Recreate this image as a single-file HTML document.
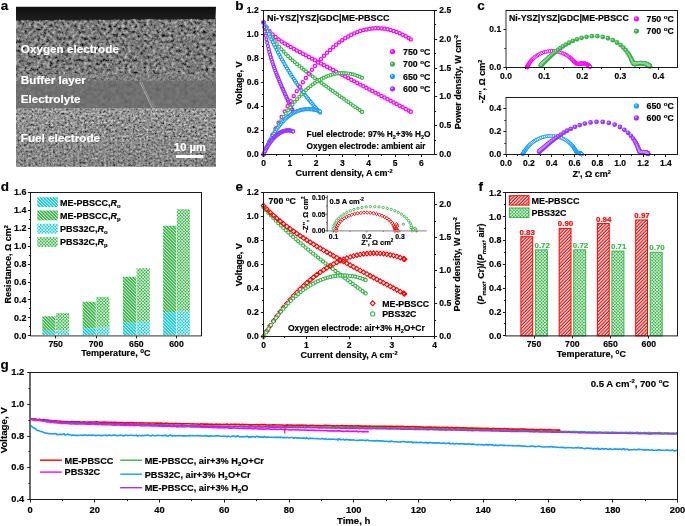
<!DOCTYPE html>
<html><head><meta charset="utf-8"><style>
html,body{margin:0;padding:0;background:#fff;width:685px;height:526px;overflow:hidden}
svg{display:block;font-family:"Liberation Sans",sans-serif;will-change:transform}
</style></head><body>
<svg width="685" height="526" viewBox="0 0 685 526" font-family="Liberation Sans, sans-serif"><defs>
<pattern id="hG" width="2.3" height="2.3" patternUnits="userSpaceOnUse" patternTransform="rotate(-45)"><rect width="2.3" height="2.3" fill="#3cb44b"/><rect x="0" width="0.75" height="2.3" fill="#fff" opacity="0.85"/></pattern>
<pattern id="hC" width="2.3" height="2.3" patternUnits="userSpaceOnUse" patternTransform="rotate(-45)"><rect width="2.3" height="2.3" fill="#1ec8d2"/><rect x="0" width="0.75" height="2.3" fill="#fff" opacity="0.85"/></pattern>
<pattern id="xG" width="2.3" height="2.3" patternUnits="userSpaceOnUse" patternTransform="rotate(45)"><rect width="2.3" height="2.3" fill="#3cb44b"/><rect x="0" width="0.7" height="2.3" fill="#fff" opacity="0.8"/><rect y="0" width="2.3" height="0.7" fill="#fff" opacity="0.8"/></pattern>
<pattern id="xC" width="2.3" height="2.3" patternUnits="userSpaceOnUse" patternTransform="rotate(45)"><rect width="2.3" height="2.3" fill="#1ec8d2"/><rect x="0" width="0.7" height="2.3" fill="#fff" opacity="0.8"/><rect y="0" width="2.3" height="0.7" fill="#fff" opacity="0.8"/></pattern>
<pattern id="xG2" width="2.3" height="2.3" patternUnits="userSpaceOnUse" patternTransform="rotate(45)"><rect width="2.3" height="2.3" fill="#3cb44b"/><rect x="0" width="0.7" height="2.3" fill="#fff" opacity="0.8"/><rect y="0" width="2.3" height="0.7" fill="#fff" opacity="0.8"/></pattern>
<pattern id="hR" width="2.35" height="2.35" patternUnits="userSpaceOnUse" patternTransform="rotate(45)"><rect width="2.35" height="2.35" fill="#ff0000"/><rect x="0" width="1.15" height="2.35" fill="#fff"/></pattern>
</defs>
<defs>
<filter id="nO" x="16" y="18" width="200" height="64" filterUnits="userSpaceOnUse" color-interpolation-filters="sRGB"><feTurbulence type="fractalNoise" baseFrequency="0.32" numOctaves="3" seed="7"/><feColorMatrix type="matrix" values="1 0 0 0 0 1 0 0 0 0 1 0 0 0 0 0 0 0 0 1"/><feComponentTransfer><feFuncR type="table" tableValues="0.000 0.000 0.000 0.000 0.000 0.000 0.005 0.045 0.085 0.125 0.165 0.205 0.245 0.285 0.325 0.365 0.390 0.411 0.432 0.454 0.475 0.496 0.518 0.539 0.560 0.581 0.603 0.624 0.645 0.666 0.688 0.709 0.730 0.751 0.772 0.794 0.815 0.836 0.858 0.879 0.900"/><feFuncG type="table" tableValues="0.000 0.000 0.000 0.000 0.000 0.000 0.005 0.045 0.085 0.125 0.165 0.205 0.245 0.285 0.325 0.365 0.390 0.411 0.432 0.454 0.475 0.496 0.518 0.539 0.560 0.581 0.603 0.624 0.645 0.666 0.688 0.709 0.730 0.751 0.772 0.794 0.815 0.836 0.858 0.879 0.900"/><feFuncB type="table" tableValues="0.000 0.000 0.000 0.000 0.000 0.000 0.005 0.045 0.085 0.125 0.165 0.205 0.245 0.285 0.325 0.365 0.390 0.411 0.432 0.454 0.475 0.496 0.518 0.539 0.560 0.581 0.603 0.624 0.645 0.666 0.688 0.709 0.730 0.751 0.772 0.794 0.815 0.836 0.858 0.879 0.900"/></feComponentTransfer><feGaussianBlur stdDeviation="0.5"/></filter>
<filter id="nB" x="16" y="74" width="200" height="8" filterUnits="userSpaceOnUse" color-interpolation-filters="sRGB"><feTurbulence type="fractalNoise" baseFrequency="0.6" numOctaves="2" seed="9"/><feColorMatrix type="matrix" values="1 0 0 0 0 1 0 0 0 0 1 0 0 0 0 0 0 0 0 1"/><feComponentTransfer><feFuncR type="table" tableValues="0.020 0.050 0.080 0.110 0.140 0.170 0.200 0.230 0.260 0.290 0.320 0.350 0.380 0.398 0.415 0.432 0.450 0.468 0.485 0.503 0.520 0.538 0.555 0.573 0.590 0.608 0.625 0.643 0.660 0.678 0.695 0.713 0.730 0.748 0.765 0.782 0.800 0.818 0.835 0.853 0.870"/><feFuncG type="table" tableValues="0.020 0.050 0.080 0.110 0.140 0.170 0.200 0.230 0.260 0.290 0.320 0.350 0.380 0.398 0.415 0.432 0.450 0.468 0.485 0.503 0.520 0.538 0.555 0.573 0.590 0.608 0.625 0.643 0.660 0.678 0.695 0.713 0.730 0.748 0.765 0.782 0.800 0.818 0.835 0.853 0.870"/><feFuncB type="table" tableValues="0.020 0.050 0.080 0.110 0.140 0.170 0.200 0.230 0.260 0.290 0.320 0.350 0.380 0.398 0.415 0.432 0.450 0.468 0.485 0.503 0.520 0.538 0.555 0.573 0.590 0.608 0.625 0.643 0.660 0.678 0.695 0.713 0.730 0.748 0.765 0.782 0.800 0.818 0.835 0.853 0.870"/></feComponentTransfer><feGaussianBlur stdDeviation="0.4"/></filter>
<filter id="nE" x="16" y="81" width="200" height="28" filterUnits="userSpaceOnUse" color-interpolation-filters="sRGB"><feTurbulence type="fractalNoise" baseFrequency="0.25" numOctaves="2" seed="3"/><feColorMatrix type="matrix" values="1 0 0 0 0 1 0 0 0 0 1 0 0 0 0 0 0 0 0 1"/><feComponentTransfer><feFuncR type="table" tableValues="0.310 0.319 0.327 0.336 0.344 0.353 0.361 0.370 0.378 0.386 0.395 0.403 0.412 0.415 0.419 0.422 0.426 0.429 0.433 0.436 0.440 0.444 0.447 0.451 0.454 0.458 0.461 0.465 0.468 0.472 0.475 0.479 0.482 0.486 0.489 0.492 0.496 0.499 0.503 0.507 0.510"/><feFuncG type="table" tableValues="0.310 0.319 0.327 0.336 0.344 0.353 0.361 0.370 0.378 0.386 0.395 0.403 0.412 0.415 0.419 0.422 0.426 0.429 0.433 0.436 0.440 0.444 0.447 0.451 0.454 0.458 0.461 0.465 0.468 0.472 0.475 0.479 0.482 0.486 0.489 0.492 0.496 0.499 0.503 0.507 0.510"/><feFuncB type="table" tableValues="0.310 0.319 0.327 0.336 0.344 0.353 0.361 0.370 0.378 0.386 0.395 0.403 0.412 0.415 0.419 0.422 0.426 0.429 0.433 0.436 0.440 0.444 0.447 0.451 0.454 0.458 0.461 0.465 0.468 0.472 0.475 0.479 0.482 0.486 0.489 0.492 0.496 0.499 0.503 0.507 0.510"/></feComponentTransfer><feGaussianBlur stdDeviation="0.6"/></filter>
<filter id="nF" x="16" y="108" width="200" height="60" filterUnits="userSpaceOnUse" color-interpolation-filters="sRGB"><feTurbulence type="fractalNoise" baseFrequency="0.45" numOctaves="3" seed="11"/><feColorMatrix type="matrix" values="1 0 0 0 0 1 0 0 0 0 1 0 0 0 0 0 0 0 0 1"/><feComponentTransfer><feFuncR type="table" tableValues="0.000 0.000 0.000 0.000 0.000 0.026 0.073 0.119 0.165 0.211 0.258 0.304 0.350 0.396 0.423 0.444 0.465 0.486 0.508 0.529 0.550 0.571 0.593 0.614 0.635 0.656 0.677 0.699 0.720 0.741 0.763 0.784 0.805 0.826 0.848 0.869 0.890 0.911 0.933 0.954 0.975"/><feFuncG type="table" tableValues="0.000 0.000 0.000 0.000 0.000 0.026 0.073 0.119 0.165 0.211 0.258 0.304 0.350 0.396 0.423 0.444 0.465 0.486 0.508 0.529 0.550 0.571 0.593 0.614 0.635 0.656 0.677 0.699 0.720 0.741 0.763 0.784 0.805 0.826 0.848 0.869 0.890 0.911 0.933 0.954 0.975"/><feFuncB type="table" tableValues="0.000 0.000 0.000 0.000 0.000 0.026 0.073 0.119 0.165 0.211 0.258 0.304 0.350 0.396 0.423 0.444 0.465 0.486 0.508 0.529 0.550 0.571 0.593 0.614 0.635 0.656 0.677 0.699 0.720 0.741 0.763 0.784 0.805 0.826 0.848 0.869 0.890 0.911 0.933 0.954 0.975"/></feComponentTransfer><feGaussianBlur stdDeviation="0.45"/></filter>
<filter id="nS" x="16" y="140" width="200" height="28" filterUnits="userSpaceOnUse" color-interpolation-filters="sRGB"><feTurbulence type="fractalNoise" baseFrequency="0.5 0.04" numOctaves="2" seed="13"/><feColorMatrix type="matrix" values="1 0 0 0 0 1 0 0 0 0 1 0 0 0 0 0 0 0 0 1"/><feComponentTransfer><feFuncR type="table" tableValues="0.050 0.073 0.095 0.117 0.140 0.162 0.185 0.208 0.230 0.252 0.275 0.297 0.320 0.343 0.365 0.388 0.410 0.433 0.455 0.478 0.500 0.522 0.545 0.568 0.590 0.613 0.635 0.658 0.680 0.703 0.725 0.748 0.770 0.793 0.815 0.838 0.860 0.883 0.905 0.928 0.950"/><feFuncG type="table" tableValues="0.050 0.073 0.095 0.117 0.140 0.162 0.185 0.208 0.230 0.252 0.275 0.297 0.320 0.343 0.365 0.388 0.410 0.433 0.455 0.478 0.500 0.522 0.545 0.568 0.590 0.613 0.635 0.658 0.680 0.703 0.725 0.748 0.770 0.793 0.815 0.838 0.860 0.883 0.905 0.928 0.950"/><feFuncB type="table" tableValues="0.050 0.073 0.095 0.117 0.140 0.162 0.185 0.208 0.230 0.252 0.275 0.297 0.320 0.343 0.365 0.388 0.410 0.433 0.455 0.478 0.500 0.522 0.545 0.568 0.590 0.613 0.635 0.658 0.680 0.703 0.725 0.748 0.770 0.793 0.815 0.838 0.860 0.883 0.905 0.928 0.950"/></feComponentTransfer><feGaussianBlur stdDeviation="0.5"/></filter>
<filter id="nT" x="16" y="6" width="200" height="16" filterUnits="userSpaceOnUse" color-interpolation-filters="sRGB"><feTurbulence type="fractalNoise" baseFrequency="0.3" numOctaves="2" seed="5"/><feColorMatrix type="matrix" values="1 0 0 0 0 1 0 0 0 0 1 0 0 0 0 0 0 0 0 1"/><feComponentTransfer><feFuncR type="table" tableValues="0.025 0.028 0.031 0.034 0.037 0.040 0.043 0.046 0.049 0.052 0.055 0.058 0.061 0.064 0.067 0.070 0.073 0.076 0.079 0.082 0.085 0.088 0.091 0.094 0.097 0.100 0.103 0.106 0.109 0.112 0.115 0.118 0.121 0.124 0.127 0.130 0.133 0.136 0.139 0.142 0.145"/><feFuncG type="table" tableValues="0.025 0.028 0.031 0.034 0.037 0.040 0.043 0.046 0.049 0.052 0.055 0.058 0.061 0.064 0.067 0.070 0.073 0.076 0.079 0.082 0.085 0.088 0.091 0.094 0.097 0.100 0.103 0.106 0.109 0.112 0.115 0.118 0.121 0.124 0.127 0.130 0.133 0.136 0.139 0.142 0.145"/><feFuncB type="table" tableValues="0.025 0.028 0.031 0.034 0.037 0.040 0.043 0.046 0.049 0.052 0.055 0.058 0.061 0.064 0.067 0.070 0.073 0.076 0.079 0.082 0.085 0.088 0.091 0.094 0.097 0.100 0.103 0.106 0.109 0.112 0.115 0.118 0.121 0.124 0.127 0.130 0.133 0.136 0.139 0.142 0.145"/></feComponentTransfer><feGaussianBlur stdDeviation="0.5"/></filter>
<linearGradient id="gT" x1="0" y1="0" x2="0" y2="1"><stop offset="0" stop-color="#0e0e0e"/><stop offset="1" stop-color="#202020"/></linearGradient>
<clipPath id="clipA"><rect x="16" y="6.7" width="200" height="160"/></clipPath>
</defs>
<g clip-path="url(#clipA)">
<rect x="16" y="18" width="200" height="64" filter="url(#nO)"/>
<rect x="16" y="19" width="200" height="5" fill="#9a9a9a" opacity="0.12"/>
<ellipse cx="168" cy="55" rx="20" ry="17" fill="#a0a0a0" opacity="0.10"/>
<polygon points="16,6 216,6 215.5,19.34 214,19.14 212.5,19.58 211,19.1 209.5,18.99 208,19.82 206.5,19.57 205,19.37 203.5,19.15 202,20.08 200.5,20.14 199,19.16 197.5,19.07 196,19.9 194.5,18.4 193,19.38 191.5,18.78 190,19.26 188.5,19.76 187,19.12 185.5,19.24 184,19.53 182.5,19.35 181,19.32 179.5,19.9 178,18.67 176.5,19.55 175,19.08 173.5,19.7 172,19.52 170.5,19.72 169,19.86 167.5,19.33 166,19.36 164.5,19.4 163,19.66 161.5,19.95 160,19.52 158.5,19.53 157,20.03 155.5,19.17 154,19.49 152.5,18.97 151,19.17 149.5,18.87 148,18.88 146.5,19.49 145,19.3 143.5,20.03 142,19.13 140.5,20.7 139,19.98 137.5,19.59 136,19.2 134.5,18.79 133,18.9 131.5,19.56 130,19.31 128.5,20.18 127,19.56 125.5,20.56 124,19.21 122.5,19.69 121,20.69 119.5,19.2 118,19.44 116.5,20.34 115,19.36 113.5,19.96 112,19.82 110.5,19.92 109,20.33 107.5,20.17 106,20.26 104.5,19.97 103,19.75 101.5,20.53 100,19.34 98.5,20.29 97,19.96 95.5,19.8 94,19.55 92.5,20.19 91,19.87 89.5,19.78 88,20.95 86.5,19.98 85,19.94 83.5,19.8 82,19.71 80.5,19.81 79,19.78 77.5,20.49 76,20.46 74.5,20.04 73,19.78 71.5,19.72 70,20.6 68.5,20.63 67,20.27 65.5,20.65 64,19.55 62.5,20.32 61,20.09 59.5,19.3 58,20.61 56.5,19.87 55,20.29 53.5,19.48 52,20.98 50.5,20.27 49,20.51 47.5,20.05 46,20.06 44.5,19.98 43,20.24 41.5,20.89 40,19.55 38.5,21.43 37,19.76 35.5,20.67 34,20.6 32.5,21.18 31,20.59 29.5,20.6 28,19.78 26.5,20.58 25,20.25 23.5,20.54 22,19.81 20.5,20.86 19,21.32 17.5,20.51 16,20.31" fill="url(#gT)"/>
<rect x="16" y="74.5" width="200" height="7.2" filter="url(#nB)" opacity="0.55"/>
<rect x="16" y="81.5" width="200" height="27.2" filter="url(#nE)"/>
<rect x="16" y="108.5" width="200" height="60" filter="url(#nF)"/>
<rect x="16" y="140" width="200" height="28" filter="url(#nS)" opacity="0.22"/>
<linearGradient id="gF" x1="0" y1="0" x2="0" y2="1"><stop offset="0" stop-color="#fff" stop-opacity="0.10"/><stop offset="0.35" stop-color="#fff" stop-opacity="0"/><stop offset="1" stop-color="#000" stop-opacity="0.06"/></linearGradient>
<rect x="16" y="108.5" width="200" height="58.5" fill="url(#gF)"/>
<path d="M139.8,82 L146.5,96 L154.8,113.7" stroke="#c8c8c8" stroke-width="0.9" fill="none" opacity="0.75"/>
<path d="M141.6,82 L148.5,97 L156,112" stroke="#bdbdbd" stroke-width="0.7" fill="none" opacity="0.6"/>
</g>
<text x="20.8" y="53.3" font-size="11.7" font-weight="bold" text-anchor="start" fill="#fff" stroke="#fff" stroke-width="0.18" stroke-linejoin="round">Oxygen electrode</text>
<text x="20.8" y="84.2" font-size="11.7" font-weight="bold" text-anchor="start" fill="#fff" stroke="#fff" stroke-width="0.18" stroke-linejoin="round">Buffer layer</text>
<text x="20.8" y="103.2" font-size="11.7" font-weight="bold" text-anchor="start" fill="#fff" stroke="#fff" stroke-width="0.18" stroke-linejoin="round">Electrolyte</text>
<text x="20.8" y="142" font-size="11.7" font-weight="bold" text-anchor="start" fill="#fff" stroke="#fff" stroke-width="0.18" stroke-linejoin="round">Fuel electrode</text>
<text x="190" y="150.9" font-size="11" font-weight="bold" text-anchor="middle" fill="#fff" stroke="#fff" stroke-width="0.18" stroke-linejoin="round">10 μm</text>
<rect x="176" y="155" width="27.5" height="3" fill="#fff"/>
<text x="0.8" y="9.9" font-size="13.5" font-weight="bold" text-anchor="start" fill="#000" stroke="#000" stroke-width="0.18" stroke-linejoin="round">a</text>
<g fill="#fff" stroke="#ff00ff" stroke-width="1.25"><circle cx="263.5" cy="22.5" r="1.6"/><circle cx="266.53" cy="27.44" r="1.6"/><circle cx="269.55" cy="31.3" r="1.6"/><circle cx="272.58" cy="34.43" r="1.6"/><circle cx="275.6" cy="37.08" r="1.6"/><circle cx="278.63" cy="39.39" r="1.6"/><circle cx="281.65" cy="41.47" r="1.6"/><circle cx="284.68" cy="43.41" r="1.6"/><circle cx="287.71" cy="45.24" r="1.6"/><circle cx="290.73" cy="47.01" r="1.6"/><circle cx="293.76" cy="48.73" r="1.6"/><circle cx="296.78" cy="50.41" r="1.6"/><circle cx="299.81" cy="52.08" r="1.6"/><circle cx="302.83" cy="53.73" r="1.6"/><circle cx="305.86" cy="55.37" r="1.6"/><circle cx="308.88" cy="57.01" r="1.6"/><circle cx="311.91" cy="58.64" r="1.6"/><circle cx="314.94" cy="60.26" r="1.6"/><circle cx="317.96" cy="61.89" r="1.6"/><circle cx="320.99" cy="63.51" r="1.6"/><circle cx="324.01" cy="65.14" r="1.6"/><circle cx="327.04" cy="66.76" r="1.6"/><circle cx="330.06" cy="68.38" r="1.6"/><circle cx="333.09" cy="70.01" r="1.6"/><circle cx="336.12" cy="71.63" r="1.6"/><circle cx="339.14" cy="73.25" r="1.6"/><circle cx="342.17" cy="74.87" r="1.6"/><circle cx="345.19" cy="76.49" r="1.6"/><circle cx="348.22" cy="78.11" r="1.6"/><circle cx="351.24" cy="79.74" r="1.6"/><circle cx="354.27" cy="81.36" r="1.6"/><circle cx="357.3" cy="82.98" r="1.6"/><circle cx="360.32" cy="84.6" r="1.6"/><circle cx="363.35" cy="86.22" r="1.6"/><circle cx="366.37" cy="87.84" r="1.6"/><circle cx="369.4" cy="89.46" r="1.6"/><circle cx="372.42" cy="91.09" r="1.6"/><circle cx="375.45" cy="92.71" r="1.6"/><circle cx="378.47" cy="94.33" r="1.6"/><circle cx="381.5" cy="95.95" r="1.6"/><circle cx="384.53" cy="97.57" r="1.6"/><circle cx="387.55" cy="99.19" r="1.6"/><circle cx="390.58" cy="100.81" r="1.6"/><circle cx="393.6" cy="102.44" r="1.6"/><circle cx="396.63" cy="104.06" r="1.6"/><circle cx="399.65" cy="105.68" r="1.6"/><circle cx="402.68" cy="107.3" r="1.6"/><circle cx="405.71" cy="108.92" r="1.6"/><circle cx="408.73" cy="110.54" r="1.6"/><circle cx="410.84" cy="111.67" r="1.6"/></g>
<g fill="#fff" stroke="#3cb04c" stroke-width="1.15"><circle cx="263.5" cy="22.5" r="1.45"/><circle cx="265.74" cy="26.9" r="1.45"/><circle cx="267.97" cy="30.91" r="1.45"/><circle cx="270.21" cy="34.57" r="1.45"/><circle cx="272.45" cy="37.94" r="1.45"/><circle cx="274.68" cy="41.06" r="1.45"/><circle cx="276.92" cy="43.96" r="1.45"/><circle cx="279.15" cy="46.67" r="1.45"/><circle cx="281.39" cy="49.22" r="1.45"/><circle cx="283.63" cy="51.64" r="1.45"/><circle cx="285.86" cy="53.93" r="1.45"/><circle cx="288.1" cy="56.13" r="1.45"/><circle cx="290.34" cy="58.23" r="1.45"/><circle cx="292.57" cy="60.26" r="1.45"/><circle cx="294.81" cy="62.23" r="1.45"/><circle cx="297.05" cy="64.14" r="1.45"/><circle cx="299.28" cy="66" r="1.45"/><circle cx="301.52" cy="67.82" r="1.45"/><circle cx="303.75" cy="69.61" r="1.45"/><circle cx="305.99" cy="71.36" r="1.45"/><circle cx="308.23" cy="73.09" r="1.45"/><circle cx="310.46" cy="74.8" r="1.45"/><circle cx="312.7" cy="76.48" r="1.45"/><circle cx="314.94" cy="78.15" r="1.45"/><circle cx="317.17" cy="79.81" r="1.45"/><circle cx="319.41" cy="81.45" r="1.45"/><circle cx="321.65" cy="83.09" r="1.45"/><circle cx="323.88" cy="84.71" r="1.45"/><circle cx="326.12" cy="86.33" r="1.45"/><circle cx="328.35" cy="87.94" r="1.45"/><circle cx="330.59" cy="89.54" r="1.45"/><circle cx="332.83" cy="91.14" r="1.45"/><circle cx="335.06" cy="92.74" r="1.45"/><circle cx="337.3" cy="94.33" r="1.45"/><circle cx="339.54" cy="95.92" r="1.45"/><circle cx="341.77" cy="97.5" r="1.45"/><circle cx="344.01" cy="99.08" r="1.45"/><circle cx="346.24" cy="100.67" r="1.45"/><circle cx="348.48" cy="102.24" r="1.45"/><circle cx="350.72" cy="103.82" r="1.45"/><circle cx="352.95" cy="105.4" r="1.45"/><circle cx="355.19" cy="106.97" r="1.45"/><circle cx="357.43" cy="108.55" r="1.45"/><circle cx="359.66" cy="110.12" r="1.45"/><circle cx="361.9" cy="111.7" r="1.45"/><circle cx="362.16" cy="111.88" r="1.45"/></g>
<g fill="#fff" stroke="#1a9cff" stroke-width="1.2"><circle cx="263.5" cy="22.5" r="1.5"/><circle cx="264.82" cy="25.45" r="1.5"/><circle cx="266.13" cy="28.36" r="1.5"/><circle cx="267.45" cy="31.21" r="1.5"/><circle cx="268.76" cy="34.01" r="1.5"/><circle cx="270.08" cy="36.77" r="1.5"/><circle cx="271.39" cy="39.47" r="1.5"/><circle cx="272.71" cy="42.13" r="1.5"/><circle cx="274.02" cy="44.75" r="1.5"/><circle cx="275.34" cy="47.32" r="1.5"/><circle cx="276.65" cy="49.84" r="1.5"/><circle cx="277.97" cy="52.32" r="1.5"/><circle cx="279.29" cy="54.76" r="1.5"/><circle cx="280.6" cy="57.16" r="1.5"/><circle cx="281.92" cy="59.51" r="1.5"/><circle cx="283.23" cy="61.83" r="1.5"/><circle cx="284.55" cy="64.1" r="1.5"/><circle cx="285.86" cy="66.34" r="1.5"/><circle cx="287.18" cy="68.53" r="1.5"/><circle cx="288.49" cy="70.69" r="1.5"/><circle cx="289.81" cy="72.81" r="1.5"/><circle cx="291.13" cy="74.89" r="1.5"/><circle cx="292.44" cy="76.94" r="1.5"/><circle cx="293.76" cy="78.95" r="1.5"/><circle cx="295.07" cy="80.93" r="1.5"/><circle cx="296.39" cy="82.88" r="1.5"/><circle cx="297.7" cy="84.79" r="1.5"/><circle cx="299.02" cy="86.66" r="1.5"/><circle cx="300.33" cy="88.51" r="1.5"/><circle cx="301.65" cy="90.32" r="1.5"/><circle cx="302.96" cy="92.1" r="1.5"/><circle cx="304.28" cy="93.85" r="1.5"/><circle cx="305.6" cy="95.57" r="1.5"/><circle cx="306.91" cy="97.26" r="1.5"/><circle cx="308.23" cy="98.92" r="1.5"/><circle cx="309.54" cy="100.56" r="1.5"/><circle cx="310.86" cy="102.16" r="1.5"/><circle cx="312.17" cy="103.74" r="1.5"/><circle cx="313.49" cy="105.29" r="1.5"/><circle cx="314.8" cy="106.81" r="1.5"/><circle cx="316.12" cy="108.31" r="1.5"/><circle cx="317.44" cy="109.78" r="1.5"/><circle cx="318.75" cy="111.22" r="1.5"/><circle cx="320.07" cy="112.64" r="1.5"/></g>
<g fill="#fff" stroke="#9a33ff" stroke-width="1.3"><circle cx="263.5" cy="22.5" r="1.5"/><circle cx="264.24" cy="27.24" r="1.5"/><circle cx="264.97" cy="31.61" r="1.5"/><circle cx="265.71" cy="35.64" r="1.5"/><circle cx="266.45" cy="39.37" r="1.5"/><circle cx="267.18" cy="42.85" r="1.5"/><circle cx="267.92" cy="46.1" r="1.5"/><circle cx="268.66" cy="49.14" r="1.5"/><circle cx="269.39" cy="52.01" r="1.5"/><circle cx="270.13" cy="54.72" r="1.5"/><circle cx="270.87" cy="57.3" r="1.5"/><circle cx="271.6" cy="59.75" r="1.5"/><circle cx="272.34" cy="62.1" r="1.5"/><circle cx="273.08" cy="64.35" r="1.5"/><circle cx="273.81" cy="66.52" r="1.5"/><circle cx="274.55" cy="68.62" r="1.5"/><circle cx="275.29" cy="70.65" r="1.5"/><circle cx="276.02" cy="72.62" r="1.5"/><circle cx="276.76" cy="74.55" r="1.5"/><circle cx="277.5" cy="76.43" r="1.5"/><circle cx="278.23" cy="78.27" r="1.5"/><circle cx="278.97" cy="80.08" r="1.5"/><circle cx="279.71" cy="81.86" r="1.5"/><circle cx="280.44" cy="83.61" r="1.5"/><circle cx="281.18" cy="85.34" r="1.5"/><circle cx="281.92" cy="87.04" r="1.5"/><circle cx="282.65" cy="88.73" r="1.5"/><circle cx="283.39" cy="90.41" r="1.5"/><circle cx="284.13" cy="92.06" r="1.5"/><circle cx="284.86" cy="93.71" r="1.5"/><circle cx="285.6" cy="95.35" r="1.5"/><circle cx="286.34" cy="96.97" r="1.5"/><circle cx="287.07" cy="98.59" r="1.5"/><circle cx="287.81" cy="100.2" r="1.5"/><circle cx="288.55" cy="101.81" r="1.5"/><circle cx="289.28" cy="103.4" r="1.5"/><circle cx="290.02" cy="105" r="1.5"/><circle cx="290.76" cy="106.58" r="1.5"/><circle cx="291.49" cy="108.17" r="1.5"/><circle cx="292.23" cy="109.75" r="1.5"/><circle cx="292.97" cy="111.33" r="1.5"/><circle cx="293.23" cy="111.89" r="1.5"/></g>
<g fill="#fff" stroke="#ff00ff" stroke-width="1.25"><circle cx="263.5" cy="154.5" r="1.6"/><circle cx="266.53" cy="147.49" r="1.6"/><circle cx="269.55" cy="140.9" r="1.6"/><circle cx="272.58" cy="134.62" r="1.6"/><circle cx="275.6" cy="128.57" r="1.6"/><circle cx="278.63" cy="122.73" r="1.6"/><circle cx="281.65" cy="117.07" r="1.6"/><circle cx="284.68" cy="111.57" r="1.6"/><circle cx="287.71" cy="106.25" r="1.6"/><circle cx="290.73" cy="101.1" r="1.6"/><circle cx="293.76" cy="96.11" r="1.6"/><circle cx="296.78" cy="91.3" r="1.6"/><circle cx="299.81" cy="86.66" r="1.6"/><circle cx="302.83" cy="82.19" r="1.6"/><circle cx="305.86" cy="77.89" r="1.6"/><circle cx="308.88" cy="73.78" r="1.6"/><circle cx="311.91" cy="69.83" r="1.6"/><circle cx="314.94" cy="66.07" r="1.6"/><circle cx="317.96" cy="62.48" r="1.6"/><circle cx="320.99" cy="59.07" r="1.6"/><circle cx="324.01" cy="55.84" r="1.6"/><circle cx="327.04" cy="52.79" r="1.6"/><circle cx="330.06" cy="49.92" r="1.6"/><circle cx="333.09" cy="47.23" r="1.6"/><circle cx="336.12" cy="44.71" r="1.6"/><circle cx="339.14" cy="42.37" r="1.6"/><circle cx="342.17" cy="40.22" r="1.6"/><circle cx="345.19" cy="38.24" r="1.6"/><circle cx="348.22" cy="36.44" r="1.6"/><circle cx="351.24" cy="34.82" r="1.6"/><circle cx="354.27" cy="33.38" r="1.6"/><circle cx="357.3" cy="32.11" r="1.6"/><circle cx="360.32" cy="31.03" r="1.6"/><circle cx="363.35" cy="30.12" r="1.6"/><circle cx="366.37" cy="29.4" r="1.6"/><circle cx="369.4" cy="28.85" r="1.6"/><circle cx="372.42" cy="28.48" r="1.6"/><circle cx="375.45" cy="28.29" r="1.6"/><circle cx="378.47" cy="28.29" r="1.6"/><circle cx="381.5" cy="28.45" r="1.6"/><circle cx="384.53" cy="28.8" r="1.6"/><circle cx="387.55" cy="29.33" r="1.6"/><circle cx="390.58" cy="30.04" r="1.6"/><circle cx="393.6" cy="30.92" r="1.6"/><circle cx="396.63" cy="31.99" r="1.6"/><circle cx="399.65" cy="33.23" r="1.6"/><circle cx="402.68" cy="34.65" r="1.6"/><circle cx="405.71" cy="36.25" r="1.6"/><circle cx="408.73" cy="38.03" r="1.6"/><circle cx="410.84" cy="39.38" r="1.6"/></g>
<g fill="#fff" stroke="#3cb04c" stroke-width="1.15"><circle cx="263.5" cy="154.5" r="1.45"/><circle cx="265.74" cy="149.29" r="1.45"/><circle cx="267.97" cy="144.41" r="1.45"/><circle cx="270.21" cy="139.82" r="1.45"/><circle cx="272.45" cy="135.48" r="1.45"/><circle cx="274.68" cy="131.36" r="1.45"/><circle cx="276.92" cy="127.44" r="1.45"/><circle cx="279.15" cy="123.7" r="1.45"/><circle cx="281.39" cy="120.14" r="1.45"/><circle cx="283.63" cy="116.73" r="1.45"/><circle cx="285.86" cy="113.47" r="1.45"/><circle cx="288.1" cy="110.35" r="1.45"/><circle cx="290.34" cy="107.37" r="1.45"/><circle cx="292.57" cy="104.52" r="1.45"/><circle cx="294.81" cy="101.79" r="1.45"/><circle cx="297.05" cy="99.2" r="1.45"/><circle cx="299.28" cy="96.73" r="1.45"/><circle cx="301.52" cy="94.38" r="1.45"/><circle cx="303.75" cy="92.15" r="1.45"/><circle cx="305.99" cy="90.05" r="1.45"/><circle cx="308.23" cy="88.07" r="1.45"/><circle cx="310.46" cy="86.21" r="1.45"/><circle cx="312.7" cy="84.47" r="1.45"/><circle cx="314.94" cy="82.86" r="1.45"/><circle cx="317.17" cy="81.36" r="1.45"/><circle cx="319.41" cy="79.99" r="1.45"/><circle cx="321.65" cy="78.75" r="1.45"/><circle cx="323.88" cy="77.62" r="1.45"/><circle cx="326.12" cy="76.62" r="1.45"/><circle cx="328.35" cy="75.74" r="1.45"/><circle cx="330.59" cy="74.99" r="1.45"/><circle cx="332.83" cy="74.36" r="1.45"/><circle cx="335.06" cy="73.86" r="1.45"/><circle cx="337.3" cy="73.48" r="1.45"/><circle cx="339.54" cy="73.23" r="1.45"/><circle cx="341.77" cy="73.11" r="1.45"/><circle cx="344.01" cy="73.11" r="1.45"/><circle cx="346.24" cy="73.23" r="1.45"/><circle cx="348.48" cy="73.48" r="1.45"/><circle cx="350.72" cy="73.86" r="1.45"/><circle cx="352.95" cy="74.37" r="1.45"/><circle cx="355.19" cy="75" r="1.45"/><circle cx="357.43" cy="75.76" r="1.45"/><circle cx="359.66" cy="76.64" r="1.45"/><circle cx="361.9" cy="77.66" r="1.45"/><circle cx="362.16" cy="77.78" r="1.45"/></g>
<g fill="#fff" stroke="#1a9cff" stroke-width="1.2"><circle cx="263.5" cy="154.5" r="1.5"/><circle cx="264.82" cy="151.4" r="1.5"/><circle cx="266.13" cy="148.45" r="1.5"/><circle cx="267.45" cy="145.62" r="1.5"/><circle cx="268.76" cy="142.93" r="1.5"/><circle cx="270.08" cy="140.37" r="1.5"/><circle cx="271.39" cy="137.94" r="1.5"/><circle cx="272.71" cy="135.62" r="1.5"/><circle cx="274.02" cy="133.43" r="1.5"/><circle cx="275.34" cy="131.35" r="1.5"/><circle cx="276.65" cy="129.38" r="1.5"/><circle cx="277.97" cy="127.53" r="1.5"/><circle cx="279.29" cy="125.78" r="1.5"/><circle cx="280.6" cy="124.13" r="1.5"/><circle cx="281.92" cy="122.58" r="1.5"/><circle cx="283.23" cy="121.14" r="1.5"/><circle cx="284.55" cy="119.79" r="1.5"/><circle cx="285.86" cy="118.53" r="1.5"/><circle cx="287.18" cy="117.36" r="1.5"/><circle cx="288.49" cy="116.28" r="1.5"/><circle cx="289.81" cy="115.29" r="1.5"/><circle cx="291.13" cy="114.38" r="1.5"/><circle cx="292.44" cy="113.55" r="1.5"/><circle cx="293.76" cy="112.8" r="1.5"/><circle cx="295.07" cy="112.13" r="1.5"/><circle cx="296.39" cy="111.53" r="1.5"/><circle cx="297.7" cy="111" r="1.5"/><circle cx="299.02" cy="110.54" r="1.5"/><circle cx="300.33" cy="110.15" r="1.5"/><circle cx="301.65" cy="109.83" r="1.5"/><circle cx="302.96" cy="109.57" r="1.5"/><circle cx="304.28" cy="109.38" r="1.5"/><circle cx="305.6" cy="109.24" r="1.5"/><circle cx="306.91" cy="109.17" r="1.5"/><circle cx="308.23" cy="109.15" r="1.5"/><circle cx="309.54" cy="109.19" r="1.5"/><circle cx="310.86" cy="109.28" r="1.5"/><circle cx="312.17" cy="109.42" r="1.5"/><circle cx="313.49" cy="109.62" r="1.5"/><circle cx="314.8" cy="109.86" r="1.5"/><circle cx="316.12" cy="110.15" r="1.5"/><circle cx="317.44" cy="110.49" r="1.5"/><circle cx="318.75" cy="110.87" r="1.5"/><circle cx="320.07" cy="111.3" r="1.5"/></g>
<g fill="#fff" stroke="#9a33ff" stroke-width="1.3"><circle cx="263.5" cy="154.5" r="1.5"/><circle cx="264.24" cy="152.79" r="1.5"/><circle cx="264.97" cy="151.2" r="1.5"/><circle cx="265.71" cy="149.71" r="1.5"/><circle cx="266.45" cy="148.31" r="1.5"/><circle cx="267.18" cy="147" r="1.5"/><circle cx="267.92" cy="145.76" r="1.5"/><circle cx="268.66" cy="144.59" r="1.5"/><circle cx="269.39" cy="143.48" r="1.5"/><circle cx="270.13" cy="142.43" r="1.5"/><circle cx="270.87" cy="141.44" r="1.5"/><circle cx="271.6" cy="140.49" r="1.5"/><circle cx="272.34" cy="139.6" r="1.5"/><circle cx="273.08" cy="138.75" r="1.5"/><circle cx="273.81" cy="137.95" r="1.5"/><circle cx="274.55" cy="137.19" r="1.5"/><circle cx="275.29" cy="136.47" r="1.5"/><circle cx="276.02" cy="135.79" r="1.5"/><circle cx="276.76" cy="135.16" r="1.5"/><circle cx="277.5" cy="134.56" r="1.5"/><circle cx="278.23" cy="134.01" r="1.5"/><circle cx="278.97" cy="133.5" r="1.5"/><circle cx="279.71" cy="133.02" r="1.5"/><circle cx="280.44" cy="132.59" r="1.5"/><circle cx="281.18" cy="132.19" r="1.5"/><circle cx="281.92" cy="131.83" r="1.5"/><circle cx="282.65" cy="131.52" r="1.5"/><circle cx="283.39" cy="131.24" r="1.5"/><circle cx="284.13" cy="131" r="1.5"/><circle cx="284.86" cy="130.81" r="1.5"/><circle cx="285.6" cy="130.65" r="1.5"/><circle cx="286.34" cy="130.53" r="1.5"/><circle cx="287.07" cy="130.45" r="1.5"/><circle cx="287.81" cy="130.42" r="1.5"/><circle cx="288.55" cy="130.42" r="1.5"/><circle cx="289.28" cy="130.46" r="1.5"/><circle cx="290.02" cy="130.55" r="1.5"/><circle cx="290.76" cy="130.67" r="1.5"/><circle cx="291.49" cy="130.84" r="1.5"/><circle cx="292.23" cy="131.04" r="1.5"/><circle cx="292.97" cy="131.29" r="1.5"/><circle cx="293.23" cy="131.39" r="1.5"/></g>
<rect x="263.5" y="10.5" width="171" height="144" fill="none" stroke="#1a1a1a" stroke-width="1.0"/>
<line x1="260.9" y1="154.5" x2="263.5" y2="154.5" stroke="#1a1a1a" stroke-width="1"/>
<text x="258.7" y="156.9" font-size="8.5" font-weight="bold" text-anchor="end" fill="#000" stroke="#000" stroke-width="0.18" stroke-linejoin="round">0.0</text>
<line x1="260.9" y1="130.5" x2="263.5" y2="130.5" stroke="#1a1a1a" stroke-width="1"/>
<text x="258.7" y="132.9" font-size="8.5" font-weight="bold" text-anchor="end" fill="#000" stroke="#000" stroke-width="0.18" stroke-linejoin="round">0.2</text>
<line x1="260.9" y1="106.5" x2="263.5" y2="106.5" stroke="#1a1a1a" stroke-width="1"/>
<text x="258.7" y="108.9" font-size="8.5" font-weight="bold" text-anchor="end" fill="#000" stroke="#000" stroke-width="0.18" stroke-linejoin="round">0.4</text>
<line x1="260.9" y1="82.5" x2="263.5" y2="82.5" stroke="#1a1a1a" stroke-width="1"/>
<text x="258.7" y="84.9" font-size="8.5" font-weight="bold" text-anchor="end" fill="#000" stroke="#000" stroke-width="0.18" stroke-linejoin="round">0.6</text>
<line x1="260.9" y1="58.5" x2="263.5" y2="58.5" stroke="#1a1a1a" stroke-width="1"/>
<text x="258.7" y="60.9" font-size="8.5" font-weight="bold" text-anchor="end" fill="#000" stroke="#000" stroke-width="0.18" stroke-linejoin="round">0.8</text>
<line x1="260.9" y1="34.5" x2="263.5" y2="34.5" stroke="#1a1a1a" stroke-width="1"/>
<text x="258.7" y="36.9" font-size="8.5" font-weight="bold" text-anchor="end" fill="#000" stroke="#000" stroke-width="0.18" stroke-linejoin="round">1.0</text>
<line x1="260.9" y1="10.5" x2="263.5" y2="10.5" stroke="#1a1a1a" stroke-width="1"/>
<text x="258.7" y="12.9" font-size="8.5" font-weight="bold" text-anchor="end" fill="#000" stroke="#000" stroke-width="0.18" stroke-linejoin="round">1.2</text>
<line x1="261.9" y1="142.5" x2="263.5" y2="142.5" stroke="#1a1a1a" stroke-width="1"/>
<line x1="261.9" y1="118.5" x2="263.5" y2="118.5" stroke="#1a1a1a" stroke-width="1"/>
<line x1="261.9" y1="94.5" x2="263.5" y2="94.5" stroke="#1a1a1a" stroke-width="1"/>
<line x1="261.9" y1="70.5" x2="263.5" y2="70.5" stroke="#1a1a1a" stroke-width="1"/>
<line x1="261.9" y1="46.5" x2="263.5" y2="46.5" stroke="#1a1a1a" stroke-width="1"/>
<line x1="261.9" y1="22.5" x2="263.5" y2="22.5" stroke="#1a1a1a" stroke-width="1"/>
<line x1="434.5" y1="154.5" x2="437.1" y2="154.5" stroke="#1a1a1a" stroke-width="1"/>
<text x="439.3" y="156.9" font-size="8.5" font-weight="bold" text-anchor="start" fill="#000" stroke="#000" stroke-width="0.18" stroke-linejoin="round">0.0</text>
<line x1="434.5" y1="125.5" x2="437.1" y2="125.5" stroke="#1a1a1a" stroke-width="1"/>
<text x="439.3" y="128.1" font-size="8.5" font-weight="bold" text-anchor="start" fill="#000" stroke="#000" stroke-width="0.18" stroke-linejoin="round">0.5</text>
<line x1="434.5" y1="96.5" x2="437.1" y2="96.5" stroke="#1a1a1a" stroke-width="1"/>
<text x="439.3" y="99.3" font-size="8.5" font-weight="bold" text-anchor="start" fill="#000" stroke="#000" stroke-width="0.18" stroke-linejoin="round">1.0</text>
<line x1="434.5" y1="68.5" x2="437.1" y2="68.5" stroke="#1a1a1a" stroke-width="1"/>
<text x="439.3" y="70.5" font-size="8.5" font-weight="bold" text-anchor="start" fill="#000" stroke="#000" stroke-width="0.18" stroke-linejoin="round">1.5</text>
<line x1="434.5" y1="39.5" x2="437.1" y2="39.5" stroke="#1a1a1a" stroke-width="1"/>
<text x="439.3" y="41.7" font-size="8.5" font-weight="bold" text-anchor="start" fill="#000" stroke="#000" stroke-width="0.18" stroke-linejoin="round">2.0</text>
<line x1="434.5" y1="10.5" x2="437.1" y2="10.5" stroke="#1a1a1a" stroke-width="1"/>
<text x="439.3" y="12.9" font-size="8.5" font-weight="bold" text-anchor="start" fill="#000" stroke="#000" stroke-width="0.18" stroke-linejoin="round">2.5</text>
<line x1="434.5" y1="140.5" x2="436.1" y2="140.5" stroke="#1a1a1a" stroke-width="1"/>
<line x1="434.5" y1="111.5" x2="436.1" y2="111.5" stroke="#1a1a1a" stroke-width="1"/>
<line x1="434.5" y1="82.5" x2="436.1" y2="82.5" stroke="#1a1a1a" stroke-width="1"/>
<line x1="434.5" y1="53.5" x2="436.1" y2="53.5" stroke="#1a1a1a" stroke-width="1"/>
<line x1="434.5" y1="24.5" x2="436.1" y2="24.5" stroke="#1a1a1a" stroke-width="1"/>
<line x1="263.5" y1="154.5" x2="263.5" y2="157.1" stroke="#1a1a1a" stroke-width="1"/>
<text x="263.5" y="166.1" font-size="8.5" font-weight="bold" text-anchor="middle" fill="#000" stroke="#000" stroke-width="0.18" stroke-linejoin="round">0</text>
<line x1="289.5" y1="154.5" x2="289.5" y2="157.1" stroke="#1a1a1a" stroke-width="1"/>
<text x="289.81" y="166.1" font-size="8.5" font-weight="bold" text-anchor="middle" fill="#000" stroke="#000" stroke-width="0.18" stroke-linejoin="round">1</text>
<line x1="316.5" y1="154.5" x2="316.5" y2="157.1" stroke="#1a1a1a" stroke-width="1"/>
<text x="316.12" y="166.1" font-size="8.5" font-weight="bold" text-anchor="middle" fill="#000" stroke="#000" stroke-width="0.18" stroke-linejoin="round">2</text>
<line x1="342.5" y1="154.5" x2="342.5" y2="157.1" stroke="#1a1a1a" stroke-width="1"/>
<text x="342.43" y="166.1" font-size="8.5" font-weight="bold" text-anchor="middle" fill="#000" stroke="#000" stroke-width="0.18" stroke-linejoin="round">3</text>
<line x1="368.5" y1="154.5" x2="368.5" y2="157.1" stroke="#1a1a1a" stroke-width="1"/>
<text x="368.74" y="166.1" font-size="8.5" font-weight="bold" text-anchor="middle" fill="#000" stroke="#000" stroke-width="0.18" stroke-linejoin="round">4</text>
<line x1="395.5" y1="154.5" x2="395.5" y2="157.1" stroke="#1a1a1a" stroke-width="1"/>
<text x="395.05" y="166.1" font-size="8.5" font-weight="bold" text-anchor="middle" fill="#000" stroke="#000" stroke-width="0.18" stroke-linejoin="round">5</text>
<line x1="421.5" y1="154.5" x2="421.5" y2="157.1" stroke="#1a1a1a" stroke-width="1"/>
<text x="421.36" y="166.1" font-size="8.5" font-weight="bold" text-anchor="middle" fill="#000" stroke="#000" stroke-width="0.18" stroke-linejoin="round">6</text>
<line x1="276.5" y1="154.5" x2="276.5" y2="156.1" stroke="#1a1a1a" stroke-width="1"/>
<line x1="302.5" y1="154.5" x2="302.5" y2="156.1" stroke="#1a1a1a" stroke-width="1"/>
<line x1="329.5" y1="154.5" x2="329.5" y2="156.1" stroke="#1a1a1a" stroke-width="1"/>
<line x1="355.5" y1="154.5" x2="355.5" y2="156.1" stroke="#1a1a1a" stroke-width="1"/>
<line x1="381.5" y1="154.5" x2="381.5" y2="156.1" stroke="#1a1a1a" stroke-width="1"/>
<line x1="408.5" y1="154.5" x2="408.5" y2="156.1" stroke="#1a1a1a" stroke-width="1"/>
<text x="344" y="175.9" font-size="9" font-weight="bold" text-anchor="middle" fill="#000" stroke="#000" stroke-width="0.18" stroke-linejoin="round">Current density, A cm<tspan font-size="0.62em" baseline-shift="3.4">-2</tspan></text>
<text x="241.8" y="83" font-size="9" font-weight="bold" text-anchor="middle" fill="#000" stroke="#000" stroke-width="0.18" stroke-linejoin="round" transform="rotate(-90 241.8 83)">Voltage, V</text>
<text x="460.5" y="82" font-size="9" font-weight="bold" text-anchor="middle" fill="#000" stroke="#000" stroke-width="0.18" stroke-linejoin="round" transform="rotate(-90 460.5 82)">Power density, W cm<tspan font-size="0.62em" baseline-shift="3.4">-2</tspan></text>
<text x="267" y="21.2" font-size="9.0" font-weight="bold" text-anchor="start" fill="#000" stroke="#000" stroke-width="0.18" stroke-linejoin="round">Ni-YSZ|YSZ|GDC|ME-PBSCC</text>
<circle cx="392.5" cy="51.6" r="2.6" fill="#ff00ff"/>
<circle cx="391.9" cy="51" r="0.9880000000000001" fill="#fff" opacity="0.55"/>
<text x="403" y="54.7" font-size="8.8" font-weight="bold" text-anchor="start" fill="#000" stroke="#000" stroke-width="0.18" stroke-linejoin="round">750 <tspan font-size="0.7em" baseline-shift="3.0">o</tspan>C</text>
<circle cx="392.5" cy="64" r="2.6" fill="#3cb04c"/>
<circle cx="391.9" cy="63.4" r="0.9880000000000001" fill="#fff" opacity="0.55"/>
<text x="403" y="67.1" font-size="8.8" font-weight="bold" text-anchor="start" fill="#000" stroke="#000" stroke-width="0.18" stroke-linejoin="round">700 <tspan font-size="0.7em" baseline-shift="3.0">o</tspan>C</text>
<circle cx="392.5" cy="76.4" r="2.6" fill="#1a9cff"/>
<circle cx="391.9" cy="75.8" r="0.9880000000000001" fill="#fff" opacity="0.55"/>
<text x="403" y="79.5" font-size="8.8" font-weight="bold" text-anchor="start" fill="#000" stroke="#000" stroke-width="0.18" stroke-linejoin="round">650 <tspan font-size="0.7em" baseline-shift="3.0">o</tspan>C</text>
<circle cx="392.5" cy="88.8" r="2.6" fill="#9a33ff"/>
<circle cx="391.9" cy="88.2" r="0.9880000000000001" fill="#fff" opacity="0.55"/>
<text x="403" y="91.9" font-size="8.8" font-weight="bold" text-anchor="start" fill="#000" stroke="#000" stroke-width="0.18" stroke-linejoin="round">600 <tspan font-size="0.7em" baseline-shift="3.0">o</tspan>C</text>
<text x="306.6" y="136.6" font-size="8.3" font-weight="bold" text-anchor="start" fill="#000" stroke="#000" stroke-width="0.18" stroke-linejoin="round">Fuel electrode: 97% H<tspan font-size="0.65em" baseline-shift="-2.2">2</tspan>+3% H<tspan font-size="0.65em" baseline-shift="-2.2">2</tspan>O</text>
<text x="306.6" y="149.2" font-size="8.3" font-weight="bold" text-anchor="start" fill="#000" stroke="#000" stroke-width="0.18" stroke-linejoin="round">Oxygen electrode: ambient air</text>
<text x="235.3" y="9.9" font-size="13.5" font-weight="bold" text-anchor="start" fill="#000" stroke="#000" stroke-width="0.18" stroke-linejoin="round">b</text>
<g fill="#fff" stroke="#ff00ff" stroke-width="1.0"><circle cx="527.08" cy="67.23" r="1.6"/><circle cx="527.1" cy="67.19" r="1.6"/><circle cx="527.11" cy="67.16" r="1.6"/><circle cx="527.13" cy="67.11" r="1.6"/><circle cx="527.15" cy="67.07" r="1.6"/><circle cx="527.18" cy="67.02" r="1.6"/><circle cx="527.2" cy="66.96" r="1.6"/><circle cx="527.23" cy="66.9" r="1.6"/><circle cx="527.26" cy="66.82" r="1.6"/><circle cx="527.3" cy="66.74" r="1.6"/><circle cx="527.34" cy="66.65" r="1.6"/><circle cx="527.39" cy="66.55" r="1.6"/><circle cx="527.45" cy="66.44" r="1.6"/><circle cx="527.51" cy="66.32" r="1.6"/><circle cx="527.58" cy="66.18" r="1.6"/><circle cx="527.65" cy="66.03" r="1.6"/><circle cx="527.74" cy="65.85" r="1.6"/><circle cx="527.84" cy="65.66" r="1.6"/><circle cx="527.95" cy="65.45" r="1.6"/><circle cx="528.08" cy="65.22" r="1.6"/><circle cx="528.23" cy="64.96" r="1.6"/><circle cx="528.39" cy="64.67" r="1.6"/><circle cx="528.58" cy="64.35" r="1.6"/><circle cx="528.79" cy="64" r="1.6"/><circle cx="529.04" cy="63.61" r="1.6"/><circle cx="529.31" cy="63.19" r="1.6"/><circle cx="529.63" cy="62.72" r="1.6"/><circle cx="529.99" cy="62.22" r="1.6"/><circle cx="530.41" cy="61.67" r="1.6"/><circle cx="530.88" cy="61.08" r="1.6"/><circle cx="531.42" cy="60.44" r="1.6"/><circle cx="532.03" cy="59.76" r="1.6"/><circle cx="532.73" cy="59.04" r="1.6"/><circle cx="533.52" cy="58.28" r="1.6"/><circle cx="534.41" cy="57.5" r="1.6"/><circle cx="535.41" cy="56.69" r="1.6"/><circle cx="536.54" cy="55.88" r="1.6"/><circle cx="537.78" cy="55.07" r="1.6"/><circle cx="539.16" cy="54.28" r="1.6"/><circle cx="540.67" cy="53.54" r="1.6"/><circle cx="542.3" cy="52.86" r="1.6"/><circle cx="544.05" cy="52.26" r="1.6"/><circle cx="545.9" cy="51.77" r="1.6"/><circle cx="547.83" cy="51.4" r="1.6"/><circle cx="549.81" cy="51.17" r="1.6"/><circle cx="551.83" cy="51.08" r="1.6"/><circle cx="553.85" cy="51.14" r="1.6"/><circle cx="555.84" cy="51.34" r="1.6"/><circle cx="557.78" cy="51.68" r="1.6"/><circle cx="559.63" cy="52.15" r="1.6"/><circle cx="561.39" cy="52.71" r="1.6"/><circle cx="563.03" cy="53.36" r="1.6"/><circle cx="564.55" cy="54.07" r="1.6"/><circle cx="565.95" cy="54.82" r="1.6"/><circle cx="567.21" cy="55.59" r="1.6"/><circle cx="568.36" cy="56.37" r="1.6"/><circle cx="569.39" cy="57.13" r="1.6"/><circle cx="570.31" cy="57.87" r="1.6"/><circle cx="571.13" cy="58.57" r="1.6"/><circle cx="571.86" cy="59.24" r="1.6"/><circle cx="572.51" cy="59.87" r="1.6"/><circle cx="573.09" cy="60.44" r="1.6"/><circle cx="573.61" cy="60.97" r="1.6"/><circle cx="574.08" cy="61.45" r="1.6"/><circle cx="574.5" cy="61.88" r="1.6"/><circle cx="574.89" cy="62.26" r="1.6"/><circle cx="575.24" cy="62.6" r="1.6"/><circle cx="575.57" cy="62.89" r="1.6"/><circle cx="575.88" cy="63.14" r="1.6"/><circle cx="576.17" cy="63.35" r="1.6"/><circle cx="576.45" cy="63.53" r="1.6"/><circle cx="576.72" cy="63.67" r="1.6"/><circle cx="576.98" cy="63.77" r="1.6"/><circle cx="577.25" cy="63.85" r="1.6"/><circle cx="577.52" cy="63.9" r="1.6"/><circle cx="577.79" cy="63.93" r="1.6"/><circle cx="578.07" cy="63.93" r="1.6"/><circle cx="578.36" cy="63.92" r="1.6"/><circle cx="578.66" cy="63.89" r="1.6"/><circle cx="578.98" cy="63.85" r="1.6"/><circle cx="579.31" cy="63.79" r="1.6"/><circle cx="579.66" cy="63.73" r="1.6"/><circle cx="580.02" cy="63.67" r="1.6"/><circle cx="580.41" cy="63.6" r="1.6"/><circle cx="580.8" cy="63.54" r="1.6"/><circle cx="581.22" cy="63.49" r="1.6"/><circle cx="581.64" cy="63.44" r="1.6"/><circle cx="582.08" cy="63.41" r="1.6"/><circle cx="582.53" cy="63.4" r="1.6"/><circle cx="582.98" cy="63.4" r="1.6"/><circle cx="583.43" cy="63.42" r="1.6"/><circle cx="583.89" cy="63.46" r="1.6"/><circle cx="584.33" cy="63.52" r="1.6"/><circle cx="584.77" cy="63.6" r="1.6"/><circle cx="585.2" cy="63.7" r="1.6"/><circle cx="585.61" cy="63.81" r="1.6"/><circle cx="586" cy="63.94" r="1.6"/><circle cx="586.38" cy="64.08" r="1.6"/><circle cx="586.73" cy="64.23" r="1.6"/><circle cx="587.07" cy="64.38" r="1.6"/><circle cx="587.38" cy="64.54" r="1.6"/><circle cx="587.67" cy="64.71" r="1.6"/><circle cx="587.93" cy="64.87" r="1.6"/><circle cx="588.18" cy="65.03" r="1.6"/><circle cx="588.4" cy="65.19" r="1.6"/><circle cx="588.61" cy="65.34" r="1.6"/><circle cx="588.8" cy="65.49" r="1.6"/><circle cx="588.97" cy="65.64" r="1.6"/><circle cx="589.12" cy="65.77" r="1.6"/><circle cx="589.27" cy="65.9" r="1.6"/><circle cx="589.39" cy="66.03" r="1.6"/><circle cx="589.51" cy="66.14" r="1.6"/><circle cx="589.61" cy="66.25" r="1.6"/><circle cx="589.71" cy="66.35" r="1.6"/><circle cx="589.79" cy="66.45" r="1.6"/><circle cx="589.87" cy="66.53" r="1.6"/><circle cx="589.94" cy="66.62" r="1.6"/><circle cx="590.01" cy="66.69" r="1.6"/><circle cx="590.06" cy="66.76" r="1.6"/><circle cx="590.11" cy="66.82" r="1.6"/></g>
<g fill="#3cb04c"><circle cx="540.77" cy="65.47" r="2.4"/><circle cx="540.99" cy="65.24" r="2.4"/><circle cx="541.24" cy="64.99" r="2.4"/><circle cx="541.52" cy="64.71" r="2.4"/><circle cx="541.82" cy="64.4" r="2.4"/><circle cx="542.17" cy="64.06" r="2.4"/><circle cx="542.55" cy="63.68" r="2.4"/><circle cx="542.97" cy="63.25" r="2.4"/><circle cx="543.44" cy="62.78" r="2.4"/><circle cx="543.97" cy="62.26" r="2.4"/><circle cx="544.56" cy="61.68" r="2.4"/><circle cx="545.21" cy="61.04" r="2.4"/><circle cx="545.94" cy="60.34" r="2.4"/><circle cx="546.75" cy="59.55" r="2.4"/><circle cx="547.66" cy="58.69" r="2.4"/><circle cx="548.68" cy="57.74" r="2.4"/><circle cx="549.82" cy="56.69" r="2.4"/><circle cx="551.1" cy="55.55" r="2.4"/><circle cx="552.53" cy="54.29" r="2.4"/><circle cx="554.14" cy="52.93" r="2.4"/><circle cx="555.95" cy="51.46" r="2.4"/><circle cx="558" cy="49.88" r="2.4"/><circle cx="560.3" cy="48.2" r="2.4"/><circle cx="562.91" cy="46.43" r="2.4"/><circle cx="565.85" cy="44.6" r="2.4"/><circle cx="569.16" cy="42.76" r="2.4"/><circle cx="572.88" cy="40.97" r="2.4"/><circle cx="577.03" cy="39.3" r="2.4"/><circle cx="581.6" cy="37.87" r="2.4"/><circle cx="586.57" cy="36.8" r="2.4"/><circle cx="591.86" cy="36.21" r="2.4"/><circle cx="597.32" cy="36.22" r="2.4"/><circle cx="602.76" cy="36.9" r="2.4"/><circle cx="607.98" cy="38.24" r="2.4"/><circle cx="612.77" cy="40.15" r="2.4"/><circle cx="616.98" cy="42.49" r="2.4"/><circle cx="620.53" cy="45.06" r="2.4"/><circle cx="623.43" cy="47.69" r="2.4"/><circle cx="625.73" cy="50.22" r="2.4"/><circle cx="627.52" cy="52.57" r="2.4"/><circle cx="628.91" cy="54.67" r="2.4"/><circle cx="629.97" cy="56.5" r="2.4"/><circle cx="630.79" cy="58.07" r="2.4"/><circle cx="631.44" cy="59.38" r="2.4"/><circle cx="631.96" cy="60.48" r="2.4"/><circle cx="632.39" cy="61.37" r="2.4"/><circle cx="632.77" cy="62.09" r="2.4"/><circle cx="633.1" cy="62.66" r="2.4"/><circle cx="633.41" cy="63.11" r="2.4"/><circle cx="633.71" cy="63.44" r="2.4"/><circle cx="634.01" cy="63.69" r="2.4"/><circle cx="634.32" cy="63.85" r="2.4"/><circle cx="634.64" cy="63.95" r="2.4"/><circle cx="634.97" cy="64" r="2.4"/><circle cx="635.33" cy="64" r="2.4"/><circle cx="635.71" cy="63.96" r="2.4"/><circle cx="636.12" cy="63.9" r="2.4"/><circle cx="636.56" cy="63.82" r="2.4"/><circle cx="637.03" cy="63.72" r="2.4"/><circle cx="637.52" cy="63.62" r="2.4"/><circle cx="638.05" cy="63.52" r="2.4"/><circle cx="638.6" cy="63.42" r="2.4"/><circle cx="639.18" cy="63.33" r="2.4"/><circle cx="639.78" cy="63.27" r="2.4"/><circle cx="640.4" cy="63.22" r="2.4"/><circle cx="641.03" cy="63.2" r="2.4"/><circle cx="641.66" cy="63.2" r="2.4"/><circle cx="642.29" cy="63.23" r="2.4"/><circle cx="642.92" cy="63.29" r="2.4"/><circle cx="643.53" cy="63.37" r="2.4"/><circle cx="644.13" cy="63.48" r="2.4"/><circle cx="644.7" cy="63.62" r="2.4"/><circle cx="645.25" cy="63.77" r="2.4"/><circle cx="645.77" cy="63.94" r="2.4"/><circle cx="646.26" cy="64.11" r="2.4"/><circle cx="646.72" cy="64.3" r="2.4"/><circle cx="647.14" cy="64.49" r="2.4"/><circle cx="647.53" cy="64.69" r="2.4"/><circle cx="647.89" cy="64.88" r="2.4"/><circle cx="648.22" cy="65.07" r="2.4"/><circle cx="648.52" cy="65.25" r="2.4"/><circle cx="648.79" cy="65.43" r="2.4"/><circle cx="649.03" cy="65.6" r="2.4"/><circle cx="649.26" cy="65.75" r="2.4"/><circle cx="649.46" cy="65.9" r="2.4"/><circle cx="649.64" cy="66.04" r="2.4"/><circle cx="649.8" cy="66.17" r="2.4"/><circle cx="649.95" cy="66.3" r="2.4"/></g>
<g fill="#fff" opacity="0.45"><circle cx="540.32" cy="65.02" r="0.96"/><circle cx="540.54" cy="64.79" r="0.96"/><circle cx="540.79" cy="64.54" r="0.96"/><circle cx="541.07" cy="64.26" r="0.96"/><circle cx="541.37" cy="63.95" r="0.96"/><circle cx="541.72" cy="63.61" r="0.96"/><circle cx="542.1" cy="63.23" r="0.96"/><circle cx="542.52" cy="62.8" r="0.96"/><circle cx="542.99" cy="62.33" r="0.96"/><circle cx="543.52" cy="61.81" r="0.96"/><circle cx="544.11" cy="61.23" r="0.96"/><circle cx="544.76" cy="60.59" r="0.96"/><circle cx="545.49" cy="59.89" r="0.96"/><circle cx="546.3" cy="59.1" r="0.96"/><circle cx="547.21" cy="58.24" r="0.96"/><circle cx="548.23" cy="57.29" r="0.96"/><circle cx="549.37" cy="56.24" r="0.96"/><circle cx="550.65" cy="55.1" r="0.96"/><circle cx="552.08" cy="53.84" r="0.96"/><circle cx="553.69" cy="52.48" r="0.96"/><circle cx="555.5" cy="51.01" r="0.96"/><circle cx="557.55" cy="49.43" r="0.96"/><circle cx="559.85" cy="47.75" r="0.96"/><circle cx="562.46" cy="45.98" r="0.96"/><circle cx="565.4" cy="44.15" r="0.96"/><circle cx="568.71" cy="42.31" r="0.96"/><circle cx="572.43" cy="40.52" r="0.96"/><circle cx="576.58" cy="38.85" r="0.96"/><circle cx="581.15" cy="37.42" r="0.96"/><circle cx="586.12" cy="36.35" r="0.96"/><circle cx="591.41" cy="35.76" r="0.96"/><circle cx="596.87" cy="35.77" r="0.96"/><circle cx="602.31" cy="36.45" r="0.96"/><circle cx="607.53" cy="37.79" r="0.96"/><circle cx="612.32" cy="39.7" r="0.96"/><circle cx="616.53" cy="42.04" r="0.96"/><circle cx="620.08" cy="44.61" r="0.96"/><circle cx="622.98" cy="47.24" r="0.96"/><circle cx="625.28" cy="49.77" r="0.96"/><circle cx="627.07" cy="52.12" r="0.96"/><circle cx="628.46" cy="54.22" r="0.96"/><circle cx="629.52" cy="56.05" r="0.96"/><circle cx="630.34" cy="57.62" r="0.96"/><circle cx="630.99" cy="58.93" r="0.96"/><circle cx="631.51" cy="60.03" r="0.96"/><circle cx="631.94" cy="60.92" r="0.96"/><circle cx="632.32" cy="61.64" r="0.96"/><circle cx="632.65" cy="62.21" r="0.96"/><circle cx="632.96" cy="62.66" r="0.96"/><circle cx="633.26" cy="62.99" r="0.96"/><circle cx="633.56" cy="63.24" r="0.96"/><circle cx="633.87" cy="63.4" r="0.96"/><circle cx="634.19" cy="63.5" r="0.96"/><circle cx="634.52" cy="63.55" r="0.96"/><circle cx="634.88" cy="63.55" r="0.96"/><circle cx="635.26" cy="63.51" r="0.96"/><circle cx="635.67" cy="63.45" r="0.96"/><circle cx="636.11" cy="63.37" r="0.96"/><circle cx="636.58" cy="63.27" r="0.96"/><circle cx="637.07" cy="63.17" r="0.96"/><circle cx="637.6" cy="63.07" r="0.96"/><circle cx="638.15" cy="62.97" r="0.96"/><circle cx="638.73" cy="62.88" r="0.96"/><circle cx="639.33" cy="62.82" r="0.96"/><circle cx="639.95" cy="62.77" r="0.96"/><circle cx="640.58" cy="62.75" r="0.96"/><circle cx="641.21" cy="62.75" r="0.96"/><circle cx="641.84" cy="62.78" r="0.96"/><circle cx="642.47" cy="62.84" r="0.96"/><circle cx="643.08" cy="62.92" r="0.96"/><circle cx="643.68" cy="63.03" r="0.96"/><circle cx="644.25" cy="63.17" r="0.96"/><circle cx="644.8" cy="63.32" r="0.96"/><circle cx="645.32" cy="63.49" r="0.96"/><circle cx="645.81" cy="63.66" r="0.96"/><circle cx="646.27" cy="63.85" r="0.96"/><circle cx="646.69" cy="64.04" r="0.96"/><circle cx="647.08" cy="64.24" r="0.96"/><circle cx="647.44" cy="64.43" r="0.96"/><circle cx="647.77" cy="64.62" r="0.96"/><circle cx="648.07" cy="64.8" r="0.96"/><circle cx="648.34" cy="64.98" r="0.96"/><circle cx="648.58" cy="65.15" r="0.96"/><circle cx="648.81" cy="65.3" r="0.96"/><circle cx="649.01" cy="65.45" r="0.96"/><circle cx="649.19" cy="65.59" r="0.96"/><circle cx="649.35" cy="65.72" r="0.96"/><circle cx="649.5" cy="65.85" r="0.96"/></g>
<rect x="506" y="10.5" width="171.5" height="57" fill="none" stroke="#1a1a1a" stroke-width="1.0"/>
<rect x="505.2" y="11" width="1.6" height="56" fill="#fff"/><rect x="505.2" y="11" width="1.6" height="56" fill="#858585"/>
<line x1="503.4" y1="67.5" x2="506" y2="67.5" stroke="#1a1a1a" stroke-width="1"/>
<text x="501.2" y="69.9" font-size="8.5" font-weight="bold" text-anchor="end" fill="#000" stroke="#000" stroke-width="0.18" stroke-linejoin="round">0.0</text>
<line x1="503.4" y1="29.5" x2="506" y2="29.5" stroke="#1a1a1a" stroke-width="1"/>
<text x="501.2" y="31.79" font-size="8.5" font-weight="bold" text-anchor="end" fill="#000" stroke="#000" stroke-width="0.18" stroke-linejoin="round">0.1</text>
<line x1="504.4" y1="48.5" x2="506" y2="48.5" stroke="#1a1a1a" stroke-width="1"/>
<line x1="506.5" y1="67.5" x2="506.5" y2="70.1" stroke="#1a1a1a" stroke-width="1"/>
<text x="506" y="79" font-size="8.5" font-weight="bold" text-anchor="middle" fill="#000" stroke="#000" stroke-width="0.18" stroke-linejoin="round">0.0</text>
<line x1="544.5" y1="67.5" x2="544.5" y2="70.1" stroke="#1a1a1a" stroke-width="1"/>
<text x="544.11" y="79" font-size="8.5" font-weight="bold" text-anchor="middle" fill="#000" stroke="#000" stroke-width="0.18" stroke-linejoin="round">0.1</text>
<line x1="582.5" y1="67.5" x2="582.5" y2="70.1" stroke="#1a1a1a" stroke-width="1"/>
<text x="582.22" y="79" font-size="8.5" font-weight="bold" text-anchor="middle" fill="#000" stroke="#000" stroke-width="0.18" stroke-linejoin="round">0.2</text>
<line x1="620.5" y1="67.5" x2="620.5" y2="70.1" stroke="#1a1a1a" stroke-width="1"/>
<text x="620.33" y="79" font-size="8.5" font-weight="bold" text-anchor="middle" fill="#000" stroke="#000" stroke-width="0.18" stroke-linejoin="round">0.3</text>
<line x1="658.5" y1="67.5" x2="658.5" y2="70.1" stroke="#1a1a1a" stroke-width="1"/>
<text x="658.44" y="79" font-size="8.5" font-weight="bold" text-anchor="middle" fill="#000" stroke="#000" stroke-width="0.18" stroke-linejoin="round">0.4</text>
<line x1="525.5" y1="67.5" x2="525.5" y2="69.1" stroke="#1a1a1a" stroke-width="1"/>
<line x1="563.5" y1="67.5" x2="563.5" y2="69.1" stroke="#1a1a1a" stroke-width="1"/>
<line x1="601.5" y1="67.5" x2="601.5" y2="69.1" stroke="#1a1a1a" stroke-width="1"/>
<line x1="639.5" y1="67.5" x2="639.5" y2="69.1" stroke="#1a1a1a" stroke-width="1"/>
<text x="509" y="21.4" font-size="8.8" font-weight="bold" text-anchor="start" fill="#000" stroke="#000" stroke-width="0.18" stroke-linejoin="round">Ni-YSZ|YSZ|GDC|ME-PBSCC</text>
<circle cx="636.4" cy="18.8" r="2.6" fill="#ff00ff"/>
<circle cx="635.8" cy="18.2" r="0.9880000000000001" fill="#fff" opacity="0.55"/>
<text x="646.5" y="21.9" font-size="8.8" font-weight="bold" text-anchor="start" fill="#000" stroke="#000" stroke-width="0.18" stroke-linejoin="round">750 <tspan font-size="0.7em" baseline-shift="3.0">o</tspan>C</text>
<circle cx="636.4" cy="31.1" r="2.6" fill="#3cb04c"/>
<circle cx="635.8" cy="30.5" r="0.9880000000000001" fill="#fff" opacity="0.55"/>
<text x="646.5" y="34.2" font-size="8.8" font-weight="bold" text-anchor="start" fill="#000" stroke="#000" stroke-width="0.18" stroke-linejoin="round">700 <tspan font-size="0.7em" baseline-shift="3.0">o</tspan>C</text>
<g fill="#fff" stroke="#1a9cff" stroke-width="1.0"><circle cx="522.8" cy="154.07" r="1.6"/><circle cx="522.82" cy="154.02" r="1.6"/><circle cx="522.85" cy="153.97" r="1.6"/><circle cx="522.88" cy="153.92" r="1.6"/><circle cx="522.92" cy="153.86" r="1.6"/><circle cx="522.95" cy="153.79" r="1.6"/><circle cx="522.99" cy="153.72" r="1.6"/><circle cx="523.04" cy="153.64" r="1.6"/><circle cx="523.09" cy="153.56" r="1.6"/><circle cx="523.14" cy="153.46" r="1.6"/><circle cx="523.2" cy="153.35" r="1.6"/><circle cx="523.27" cy="153.24" r="1.6"/><circle cx="523.35" cy="153.11" r="1.6"/><circle cx="523.43" cy="152.97" r="1.6"/><circle cx="523.52" cy="152.81" r="1.6"/><circle cx="523.62" cy="152.64" r="1.6"/><circle cx="523.74" cy="152.46" r="1.6"/><circle cx="523.86" cy="152.25" r="1.6"/><circle cx="524" cy="152.03" r="1.6"/><circle cx="524.16" cy="151.78" r="1.6"/><circle cx="524.33" cy="151.51" r="1.6"/><circle cx="524.52" cy="151.22" r="1.6"/><circle cx="524.73" cy="150.9" r="1.6"/><circle cx="524.97" cy="150.54" r="1.6"/><circle cx="525.24" cy="150.16" r="1.6"/><circle cx="525.53" cy="149.74" r="1.6"/><circle cx="525.86" cy="149.29" r="1.6"/><circle cx="526.23" cy="148.8" r="1.6"/><circle cx="526.65" cy="148.27" r="1.6"/><circle cx="527.11" cy="147.7" r="1.6"/><circle cx="527.64" cy="147.08" r="1.6"/><circle cx="528.22" cy="146.43" r="1.6"/><circle cx="528.87" cy="145.73" r="1.6"/><circle cx="529.61" cy="144.99" r="1.6"/><circle cx="530.43" cy="144.21" r="1.6"/><circle cx="531.34" cy="143.4" r="1.6"/><circle cx="532.36" cy="142.57" r="1.6"/><circle cx="533.5" cy="141.72" r="1.6"/><circle cx="534.76" cy="140.86" r="1.6"/><circle cx="536.14" cy="140.02" r="1.6"/><circle cx="537.66" cy="139.2" r="1.6"/><circle cx="539.31" cy="138.42" r="1.6"/><circle cx="541.09" cy="137.72" r="1.6"/><circle cx="542.99" cy="137.11" r="1.6"/><circle cx="545" cy="136.61" r="1.6"/><circle cx="547.1" cy="136.24" r="1.6"/><circle cx="549.25" cy="136.03" r="1.6"/><circle cx="551.44" cy="135.98" r="1.6"/><circle cx="553.62" cy="136.09" r="1.6"/><circle cx="555.78" cy="136.37" r="1.6"/><circle cx="557.86" cy="136.81" r="1.6"/><circle cx="559.85" cy="137.39" r="1.6"/><circle cx="561.73" cy="138.08" r="1.6"/><circle cx="563.47" cy="138.87" r="1.6"/><circle cx="565.07" cy="139.73" r="1.6"/><circle cx="566.52" cy="140.63" r="1.6"/><circle cx="567.83" cy="141.56" r="1.6"/><circle cx="568.99" cy="142.49" r="1.6"/><circle cx="570.02" cy="143.4" r="1.6"/><circle cx="570.92" cy="144.28" r="1.6"/><circle cx="571.72" cy="145.13" r="1.6"/><circle cx="572.41" cy="145.93" r="1.6"/><circle cx="573.02" cy="146.67" r="1.6"/><circle cx="573.55" cy="147.37" r="1.6"/><circle cx="574.01" cy="148.01" r="1.6"/><circle cx="574.41" cy="148.6" r="1.6"/><circle cx="574.76" cy="149.13" r="1.6"/><circle cx="575.07" cy="149.61" r="1.6"/><circle cx="575.35" cy="150.05" r="1.6"/><circle cx="575.59" cy="150.45" r="1.6"/><circle cx="575.8" cy="150.8" r="1.6"/><circle cx="576" cy="151.11" r="1.6"/><circle cx="576.17" cy="151.39" r="1.6"/><circle cx="576.33" cy="151.63" r="1.6"/><circle cx="576.48" cy="151.85" r="1.6"/><circle cx="576.62" cy="152.04" r="1.6"/><circle cx="576.75" cy="152.2" r="1.6"/><circle cx="576.87" cy="152.34" r="1.6"/><circle cx="576.99" cy="152.46" r="1.6"/><circle cx="577.11" cy="152.56" r="1.6"/><circle cx="577.22" cy="152.65" r="1.6"/><circle cx="577.34" cy="152.72" r="1.6"/><circle cx="577.45" cy="152.77" r="1.6"/><circle cx="577.57" cy="152.82" r="1.6"/><circle cx="577.68" cy="152.86" r="1.6"/><circle cx="577.8" cy="152.88" r="1.6"/><circle cx="577.93" cy="152.9" r="1.6"/><circle cx="578.05" cy="152.92" r="1.6"/><circle cx="578.18" cy="152.93" r="1.6"/><circle cx="578.32" cy="152.94" r="1.6"/><circle cx="578.45" cy="152.95" r="1.6"/><circle cx="578.59" cy="152.96" r="1.6"/><circle cx="578.73" cy="152.96" r="1.6"/><circle cx="578.88" cy="152.97" r="1.6"/><circle cx="579.02" cy="152.98" r="1.6"/><circle cx="579.17" cy="153" r="1.6"/><circle cx="579.32" cy="153.02" r="1.6"/><circle cx="579.46" cy="153.04" r="1.6"/><circle cx="579.61" cy="153.06" r="1.6"/><circle cx="579.75" cy="153.09" r="1.6"/><circle cx="579.89" cy="153.13" r="1.6"/><circle cx="580.02" cy="153.17" r="1.6"/><circle cx="580.15" cy="153.21" r="1.6"/><circle cx="580.28" cy="153.25" r="1.6"/><circle cx="580.4" cy="153.3" r="1.6"/><circle cx="580.51" cy="153.35" r="1.6"/><circle cx="580.62" cy="153.4" r="1.6"/><circle cx="580.72" cy="153.45" r="1.6"/><circle cx="580.81" cy="153.5" r="1.6"/><circle cx="580.9" cy="153.55" r="1.6"/><circle cx="580.99" cy="153.6" r="1.6"/><circle cx="581.06" cy="153.65" r="1.6"/><circle cx="581.14" cy="153.7" r="1.6"/><circle cx="581.2" cy="153.75" r="1.6"/><circle cx="581.26" cy="153.8" r="1.6"/><circle cx="581.32" cy="153.84" r="1.6"/><circle cx="581.37" cy="153.89" r="1.6"/><circle cx="581.42" cy="153.93" r="1.6"/><circle cx="581.47" cy="153.97" r="1.6"/><circle cx="581.51" cy="154" r="1.6"/><circle cx="581.54" cy="154.04" r="1.6"/><circle cx="581.58" cy="154.07" r="1.6"/><circle cx="581.61" cy="154.1" r="1.6"/><circle cx="581.64" cy="154.13" r="1.6"/><circle cx="581.66" cy="154.16" r="1.6"/><circle cx="581.69" cy="154.19" r="1.6"/><circle cx="581.71" cy="154.21" r="1.6"/><circle cx="581.73" cy="154.23" r="1.6"/></g>
<g fill="#9a33ff"><circle cx="539.14" cy="151.66" r="2.4"/><circle cx="539.5" cy="151.35" r="2.4"/><circle cx="539.91" cy="150.99" r="2.4"/><circle cx="540.35" cy="150.6" r="2.4"/><circle cx="540.85" cy="150.17" r="2.4"/><circle cx="541.4" cy="149.69" r="2.4"/><circle cx="542.02" cy="149.16" r="2.4"/><circle cx="542.7" cy="148.57" r="2.4"/><circle cx="543.46" cy="147.91" r="2.4"/><circle cx="544.31" cy="147.18" r="2.4"/><circle cx="545.26" cy="146.38" r="2.4"/><circle cx="546.32" cy="145.49" r="2.4"/><circle cx="547.5" cy="144.51" r="2.4"/><circle cx="548.81" cy="143.43" r="2.4"/><circle cx="550.29" cy="142.25" r="2.4"/><circle cx="551.94" cy="140.95" r="2.4"/><circle cx="553.78" cy="139.53" r="2.4"/><circle cx="555.86" cy="138" r="2.4"/><circle cx="558.18" cy="136.34" r="2.4"/><circle cx="560.8" cy="134.57" r="2.4"/><circle cx="563.75" cy="132.7" r="2.4"/><circle cx="567.07" cy="130.76" r="2.4"/><circle cx="570.81" cy="128.8" r="2.4"/><circle cx="575.01" cy="126.87" r="2.4"/><circle cx="579.69" cy="125.08" r="2.4"/><circle cx="584.87" cy="123.54" r="2.4"/><circle cx="590.5" cy="122.41" r="2.4"/><circle cx="596.5" cy="121.84" r="2.4"/><circle cx="602.69" cy="121.97" r="2.4"/><circle cx="608.83" cy="122.91" r="2.4"/><circle cx="614.65" cy="124.62" r="2.4"/><circle cx="619.89" cy="126.99" r="2.4"/><circle cx="624.38" cy="129.8" r="2.4"/><circle cx="628.05" cy="132.8" r="2.4"/><circle cx="630.94" cy="135.78" r="2.4"/><circle cx="633.14" cy="138.58" r="2.4"/><circle cx="634.79" cy="141.08" r="2.4"/><circle cx="636.02" cy="143.26" r="2.4"/><circle cx="636.93" cy="145.11" r="2.4"/><circle cx="637.61" cy="146.65" r="2.4"/><circle cx="638.13" cy="147.93" r="2.4"/><circle cx="638.54" cy="148.96" r="2.4"/><circle cx="638.87" cy="149.79" r="2.4"/><circle cx="639.15" cy="150.46" r="2.4"/><circle cx="639.4" cy="150.98" r="2.4"/><circle cx="639.63" cy="151.39" r="2.4"/><circle cx="639.85" cy="151.7" r="2.4"/><circle cx="640.06" cy="151.93" r="2.4"/><circle cx="640.28" cy="152.09" r="2.4"/><circle cx="640.51" cy="152.21" r="2.4"/><circle cx="640.75" cy="152.28" r="2.4"/><circle cx="641" cy="152.32" r="2.4"/><circle cx="641.26" cy="152.34" r="2.4"/><circle cx="641.54" cy="152.34" r="2.4"/><circle cx="641.83" cy="152.33" r="2.4"/><circle cx="642.14" cy="152.31" r="2.4"/><circle cx="642.46" cy="152.29" r="2.4"/><circle cx="642.79" cy="152.28" r="2.4"/><circle cx="643.13" cy="152.27" r="2.4"/><circle cx="643.48" cy="152.27" r="2.4"/><circle cx="643.83" cy="152.28" r="2.4"/><circle cx="644.18" cy="152.31" r="2.4"/><circle cx="644.52" cy="152.35" r="2.4"/><circle cx="644.86" cy="152.4" r="2.4"/><circle cx="645.19" cy="152.46" r="2.4"/><circle cx="645.5" cy="152.53" r="2.4"/><circle cx="645.8" cy="152.62" r="2.4"/><circle cx="646.08" cy="152.71" r="2.4"/><circle cx="646.35" cy="152.8" r="2.4"/><circle cx="646.6" cy="152.9" r="2.4"/><circle cx="646.83" cy="153" r="2.4"/><circle cx="647.04" cy="153.11" r="2.4"/><circle cx="647.23" cy="153.21" r="2.4"/><circle cx="647.41" cy="153.3" r="2.4"/><circle cx="647.57" cy="153.4" r="2.4"/><circle cx="647.72" cy="153.49" r="2.4"/><circle cx="647.85" cy="153.57" r="2.4"/><circle cx="647.97" cy="153.66" r="2.4"/><circle cx="648.08" cy="153.73" r="2.4"/><circle cx="648.17" cy="153.8" r="2.4"/></g>
<g fill="#fff" opacity="0.45"><circle cx="538.69" cy="151.21" r="0.96"/><circle cx="539.05" cy="150.9" r="0.96"/><circle cx="539.46" cy="150.54" r="0.96"/><circle cx="539.9" cy="150.15" r="0.96"/><circle cx="540.4" cy="149.72" r="0.96"/><circle cx="540.95" cy="149.24" r="0.96"/><circle cx="541.57" cy="148.71" r="0.96"/><circle cx="542.25" cy="148.12" r="0.96"/><circle cx="543.01" cy="147.46" r="0.96"/><circle cx="543.86" cy="146.73" r="0.96"/><circle cx="544.81" cy="145.93" r="0.96"/><circle cx="545.87" cy="145.04" r="0.96"/><circle cx="547.05" cy="144.06" r="0.96"/><circle cx="548.36" cy="142.98" r="0.96"/><circle cx="549.84" cy="141.8" r="0.96"/><circle cx="551.49" cy="140.5" r="0.96"/><circle cx="553.33" cy="139.08" r="0.96"/><circle cx="555.41" cy="137.55" r="0.96"/><circle cx="557.73" cy="135.89" r="0.96"/><circle cx="560.35" cy="134.12" r="0.96"/><circle cx="563.3" cy="132.25" r="0.96"/><circle cx="566.62" cy="130.31" r="0.96"/><circle cx="570.36" cy="128.35" r="0.96"/><circle cx="574.56" cy="126.42" r="0.96"/><circle cx="579.24" cy="124.63" r="0.96"/><circle cx="584.42" cy="123.09" r="0.96"/><circle cx="590.05" cy="121.96" r="0.96"/><circle cx="596.05" cy="121.39" r="0.96"/><circle cx="602.24" cy="121.52" r="0.96"/><circle cx="608.38" cy="122.46" r="0.96"/><circle cx="614.2" cy="124.17" r="0.96"/><circle cx="619.44" cy="126.54" r="0.96"/><circle cx="623.93" cy="129.35" r="0.96"/><circle cx="627.6" cy="132.35" r="0.96"/><circle cx="630.49" cy="135.33" r="0.96"/><circle cx="632.69" cy="138.13" r="0.96"/><circle cx="634.34" cy="140.63" r="0.96"/><circle cx="635.57" cy="142.81" r="0.96"/><circle cx="636.48" cy="144.66" r="0.96"/><circle cx="637.16" cy="146.2" r="0.96"/><circle cx="637.68" cy="147.48" r="0.96"/><circle cx="638.09" cy="148.51" r="0.96"/><circle cx="638.42" cy="149.34" r="0.96"/><circle cx="638.7" cy="150.01" r="0.96"/><circle cx="638.95" cy="150.53" r="0.96"/><circle cx="639.18" cy="150.94" r="0.96"/><circle cx="639.4" cy="151.25" r="0.96"/><circle cx="639.61" cy="151.48" r="0.96"/><circle cx="639.83" cy="151.64" r="0.96"/><circle cx="640.06" cy="151.76" r="0.96"/><circle cx="640.3" cy="151.83" r="0.96"/><circle cx="640.55" cy="151.87" r="0.96"/><circle cx="640.81" cy="151.89" r="0.96"/><circle cx="641.09" cy="151.89" r="0.96"/><circle cx="641.38" cy="151.88" r="0.96"/><circle cx="641.69" cy="151.86" r="0.96"/><circle cx="642.01" cy="151.84" r="0.96"/><circle cx="642.34" cy="151.83" r="0.96"/><circle cx="642.68" cy="151.82" r="0.96"/><circle cx="643.03" cy="151.82" r="0.96"/><circle cx="643.38" cy="151.83" r="0.96"/><circle cx="643.73" cy="151.86" r="0.96"/><circle cx="644.07" cy="151.9" r="0.96"/><circle cx="644.41" cy="151.95" r="0.96"/><circle cx="644.74" cy="152.01" r="0.96"/><circle cx="645.05" cy="152.08" r="0.96"/><circle cx="645.35" cy="152.17" r="0.96"/><circle cx="645.63" cy="152.26" r="0.96"/><circle cx="645.9" cy="152.35" r="0.96"/><circle cx="646.15" cy="152.45" r="0.96"/><circle cx="646.38" cy="152.55" r="0.96"/><circle cx="646.59" cy="152.66" r="0.96"/><circle cx="646.78" cy="152.76" r="0.96"/><circle cx="646.96" cy="152.85" r="0.96"/><circle cx="647.12" cy="152.95" r="0.96"/><circle cx="647.27" cy="153.04" r="0.96"/><circle cx="647.4" cy="153.12" r="0.96"/><circle cx="647.52" cy="153.21" r="0.96"/><circle cx="647.63" cy="153.28" r="0.96"/><circle cx="647.72" cy="153.35" r="0.96"/></g>
<rect x="506" y="97.5" width="171.5" height="57" fill="none" stroke="#1a1a1a" stroke-width="1.0"/>
<rect x="505.2" y="98" width="1.6" height="56" fill="#fff"/><rect x="505.2" y="98" width="1.6" height="56" fill="#858585"/>
<line x1="503.4" y1="154.5" x2="506" y2="154.5" stroke="#1a1a1a" stroke-width="1"/>
<text x="501.2" y="156.9" font-size="8.5" font-weight="bold" text-anchor="end" fill="#000" stroke="#000" stroke-width="0.18" stroke-linejoin="round">0.0</text>
<line x1="503.4" y1="131.5" x2="506" y2="131.5" stroke="#1a1a1a" stroke-width="1"/>
<text x="501.2" y="134.06" font-size="8.5" font-weight="bold" text-anchor="end" fill="#000" stroke="#000" stroke-width="0.18" stroke-linejoin="round">0.2</text>
<line x1="503.4" y1="108.5" x2="506" y2="108.5" stroke="#1a1a1a" stroke-width="1"/>
<text x="501.2" y="111.22" font-size="8.5" font-weight="bold" text-anchor="end" fill="#000" stroke="#000" stroke-width="0.18" stroke-linejoin="round">0.4</text>
<line x1="504.4" y1="143.5" x2="506" y2="143.5" stroke="#1a1a1a" stroke-width="1"/>
<line x1="504.4" y1="120.5" x2="506" y2="120.5" stroke="#1a1a1a" stroke-width="1"/>
<line x1="506.5" y1="154.5" x2="506.5" y2="157.1" stroke="#1a1a1a" stroke-width="1"/>
<text x="506" y="165.8" font-size="8.5" font-weight="bold" text-anchor="middle" fill="#000" stroke="#000" stroke-width="0.18" stroke-linejoin="round">0.0</text>
<line x1="528.5" y1="154.5" x2="528.5" y2="157.1" stroke="#1a1a1a" stroke-width="1"/>
<text x="528.84" y="165.8" font-size="8.5" font-weight="bold" text-anchor="middle" fill="#000" stroke="#000" stroke-width="0.18" stroke-linejoin="round">0.2</text>
<line x1="551.5" y1="154.5" x2="551.5" y2="157.1" stroke="#1a1a1a" stroke-width="1"/>
<text x="551.68" y="165.8" font-size="8.5" font-weight="bold" text-anchor="middle" fill="#000" stroke="#000" stroke-width="0.18" stroke-linejoin="round">0.4</text>
<line x1="574.5" y1="154.5" x2="574.5" y2="157.1" stroke="#1a1a1a" stroke-width="1"/>
<text x="574.52" y="165.8" font-size="8.5" font-weight="bold" text-anchor="middle" fill="#000" stroke="#000" stroke-width="0.18" stroke-linejoin="round">0.6</text>
<line x1="597.5" y1="154.5" x2="597.5" y2="157.1" stroke="#1a1a1a" stroke-width="1"/>
<text x="597.36" y="165.8" font-size="8.5" font-weight="bold" text-anchor="middle" fill="#000" stroke="#000" stroke-width="0.18" stroke-linejoin="round">0.8</text>
<line x1="620.5" y1="154.5" x2="620.5" y2="157.1" stroke="#1a1a1a" stroke-width="1"/>
<text x="620.2" y="165.8" font-size="8.5" font-weight="bold" text-anchor="middle" fill="#000" stroke="#000" stroke-width="0.18" stroke-linejoin="round">1.0</text>
<line x1="643.5" y1="154.5" x2="643.5" y2="157.1" stroke="#1a1a1a" stroke-width="1"/>
<text x="643.04" y="165.8" font-size="8.5" font-weight="bold" text-anchor="middle" fill="#000" stroke="#000" stroke-width="0.18" stroke-linejoin="round">1.2</text>
<line x1="665.5" y1="154.5" x2="665.5" y2="157.1" stroke="#1a1a1a" stroke-width="1"/>
<text x="665.88" y="165.8" font-size="8.5" font-weight="bold" text-anchor="middle" fill="#000" stroke="#000" stroke-width="0.18" stroke-linejoin="round">1.4</text>
<line x1="517.5" y1="154.5" x2="517.5" y2="156.1" stroke="#1a1a1a" stroke-width="1"/>
<line x1="540.5" y1="154.5" x2="540.5" y2="156.1" stroke="#1a1a1a" stroke-width="1"/>
<line x1="563.5" y1="154.5" x2="563.5" y2="156.1" stroke="#1a1a1a" stroke-width="1"/>
<line x1="585.5" y1="154.5" x2="585.5" y2="156.1" stroke="#1a1a1a" stroke-width="1"/>
<line x1="608.5" y1="154.5" x2="608.5" y2="156.1" stroke="#1a1a1a" stroke-width="1"/>
<line x1="631.5" y1="154.5" x2="631.5" y2="156.1" stroke="#1a1a1a" stroke-width="1"/>
<line x1="654.5" y1="154.5" x2="654.5" y2="156.1" stroke="#1a1a1a" stroke-width="1"/>
<circle cx="636.4" cy="105.9" r="2.6" fill="#1a9cff"/>
<circle cx="635.8" cy="105.3" r="0.9880000000000001" fill="#fff" opacity="0.55"/>
<text x="646.5" y="109" font-size="8.8" font-weight="bold" text-anchor="start" fill="#000" stroke="#000" stroke-width="0.18" stroke-linejoin="round">650 <tspan font-size="0.7em" baseline-shift="3.0">o</tspan>C</text>
<circle cx="636.4" cy="117.9" r="2.6" fill="#9a33ff"/>
<circle cx="635.8" cy="117.3" r="0.9880000000000001" fill="#fff" opacity="0.55"/>
<text x="646.5" y="121" font-size="8.8" font-weight="bold" text-anchor="start" fill="#000" stroke="#000" stroke-width="0.18" stroke-linejoin="round">600 <tspan font-size="0.7em" baseline-shift="3.0">o</tspan>C</text>
<text x="591.7" y="176.5" font-size="9" font-weight="bold" text-anchor="middle" fill="#000" stroke="#000" stroke-width="0.18" stroke-linejoin="round">Z', Ω cm<tspan font-size="0.62em" baseline-shift="3.4">2</tspan></text>
<text x="484.5" y="81.5" font-size="9" font-weight="bold" text-anchor="middle" fill="#000" stroke="#000" stroke-width="0.18" stroke-linejoin="round" transform="rotate(-90 484.5 81.5)">-Z'', Ω cm<tspan font-size="0.62em" baseline-shift="3.4">2</tspan></text>
<text x="477.2" y="9.9" font-size="13.5" font-weight="bold" text-anchor="start" fill="#000" stroke="#000" stroke-width="0.18" stroke-linejoin="round">c</text>
<rect x="42.3" y="316.28" width="13.2" height="14.6" fill="url(#hG)"/>
<rect x="42.3" y="330.87" width="13.2" height="4.93" fill="url(#hC)"/>
<rect x="56" y="312.96" width="13.2" height="17.46" fill="url(#xG)"/>
<rect x="56" y="330.43" width="13.2" height="5.37" fill="url(#xC)"/>
<rect x="82.6" y="301.77" width="13.2" height="26.42" fill="url(#hG)"/>
<rect x="82.6" y="328.19" width="13.2" height="7.61" fill="url(#hC)"/>
<rect x="96.3" y="296.84" width="13.2" height="30.9" fill="url(#xG)"/>
<rect x="96.3" y="327.74" width="13.2" height="8.06" fill="url(#xC)"/>
<rect x="122.9" y="276.69" width="13.2" height="46.12" fill="url(#hG)"/>
<rect x="122.9" y="322.81" width="13.2" height="12.99" fill="url(#hC)"/>
<rect x="136.6" y="268.18" width="13.2" height="53.74" fill="url(#xG)"/>
<rect x="136.6" y="321.92" width="13.2" height="13.88" fill="url(#xC)"/>
<rect x="163.1" y="225.64" width="13.2" height="86.43" fill="url(#hG)"/>
<rect x="163.1" y="312.07" width="13.2" height="23.73" fill="url(#hC)"/>
<rect x="176.8" y="209.07" width="13.2" height="102.55" fill="url(#xG)"/>
<rect x="176.8" y="311.62" width="13.2" height="24.18" fill="url(#xC)"/>
<rect x="30.5" y="192.5" width="171" height="143.3" fill="none" stroke="#1a1a1a" stroke-width="1.0"/>
<rect x="31" y="335" width="170" height="1.6" fill="#fff"/><rect x="31" y="335" width="170" height="1.6" fill="#858585"/>
<line x1="27.9" y1="335.5" x2="30.5" y2="335.5" stroke="#1a1a1a" stroke-width="1"/>
<text x="26.4" y="338.75" font-size="8.9" font-weight="bold" text-anchor="end" fill="#000" stroke="#000" stroke-width="0.18" stroke-linejoin="round">0.0</text>
<line x1="27.9" y1="317.5" x2="30.5" y2="317.5" stroke="#1a1a1a" stroke-width="1"/>
<text x="26.4" y="320.84" font-size="8.9" font-weight="bold" text-anchor="end" fill="#000" stroke="#000" stroke-width="0.18" stroke-linejoin="round">0.2</text>
<line x1="27.9" y1="299.5" x2="30.5" y2="299.5" stroke="#1a1a1a" stroke-width="1"/>
<text x="26.4" y="302.93" font-size="8.9" font-weight="bold" text-anchor="end" fill="#000" stroke="#000" stroke-width="0.18" stroke-linejoin="round">0.4</text>
<line x1="27.9" y1="282.5" x2="30.5" y2="282.5" stroke="#1a1a1a" stroke-width="1"/>
<text x="26.4" y="285.01" font-size="8.9" font-weight="bold" text-anchor="end" fill="#000" stroke="#000" stroke-width="0.18" stroke-linejoin="round">0.6</text>
<line x1="27.9" y1="264.5" x2="30.5" y2="264.5" stroke="#1a1a1a" stroke-width="1"/>
<text x="26.4" y="267.1" font-size="8.9" font-weight="bold" text-anchor="end" fill="#000" stroke="#000" stroke-width="0.18" stroke-linejoin="round">0.8</text>
<line x1="27.9" y1="246.5" x2="30.5" y2="246.5" stroke="#1a1a1a" stroke-width="1"/>
<text x="26.4" y="249.19" font-size="8.9" font-weight="bold" text-anchor="end" fill="#000" stroke="#000" stroke-width="0.18" stroke-linejoin="round">1.0</text>
<line x1="27.9" y1="228.5" x2="30.5" y2="228.5" stroke="#1a1a1a" stroke-width="1"/>
<text x="26.4" y="231.28" font-size="8.9" font-weight="bold" text-anchor="end" fill="#000" stroke="#000" stroke-width="0.18" stroke-linejoin="round">1.2</text>
<line x1="27.9" y1="210.5" x2="30.5" y2="210.5" stroke="#1a1a1a" stroke-width="1"/>
<text x="26.4" y="213.37" font-size="8.9" font-weight="bold" text-anchor="end" fill="#000" stroke="#000" stroke-width="0.18" stroke-linejoin="round">1.4</text>
<line x1="27.9" y1="192.5" x2="30.5" y2="192.5" stroke="#1a1a1a" stroke-width="1"/>
<text x="26.4" y="195.45" font-size="8.9" font-weight="bold" text-anchor="end" fill="#000" stroke="#000" stroke-width="0.18" stroke-linejoin="round">1.6</text>
<line x1="28.9" y1="326.5" x2="30.5" y2="326.5" stroke="#1a1a1a" stroke-width="1"/>
<line x1="28.9" y1="308.5" x2="30.5" y2="308.5" stroke="#1a1a1a" stroke-width="1"/>
<line x1="28.9" y1="291.5" x2="30.5" y2="291.5" stroke="#1a1a1a" stroke-width="1"/>
<line x1="28.9" y1="273.5" x2="30.5" y2="273.5" stroke="#1a1a1a" stroke-width="1"/>
<line x1="28.9" y1="255.5" x2="30.5" y2="255.5" stroke="#1a1a1a" stroke-width="1"/>
<line x1="28.9" y1="237.5" x2="30.5" y2="237.5" stroke="#1a1a1a" stroke-width="1"/>
<line x1="28.9" y1="219.5" x2="30.5" y2="219.5" stroke="#1a1a1a" stroke-width="1"/>
<line x1="28.9" y1="201.5" x2="30.5" y2="201.5" stroke="#1a1a1a" stroke-width="1"/>
<line x1="55.5" y1="335.8" x2="55.5" y2="338.4" stroke="#1a1a1a" stroke-width="1"/>
<text x="55.7" y="347.1" font-size="8.7" font-weight="bold" text-anchor="middle" fill="#000" stroke="#000" stroke-width="0.18" stroke-linejoin="round">750</text>
<line x1="96.5" y1="335.8" x2="96.5" y2="338.4" stroke="#1a1a1a" stroke-width="1"/>
<text x="96" y="347.1" font-size="8.7" font-weight="bold" text-anchor="middle" fill="#000" stroke="#000" stroke-width="0.18" stroke-linejoin="round">700</text>
<line x1="136.5" y1="335.8" x2="136.5" y2="338.4" stroke="#1a1a1a" stroke-width="1"/>
<text x="136.3" y="347.1" font-size="8.7" font-weight="bold" text-anchor="middle" fill="#000" stroke="#000" stroke-width="0.18" stroke-linejoin="round">650</text>
<line x1="176.5" y1="335.8" x2="176.5" y2="338.4" stroke="#1a1a1a" stroke-width="1"/>
<text x="176.5" y="347.1" font-size="8.7" font-weight="bold" text-anchor="middle" fill="#000" stroke="#000" stroke-width="0.18" stroke-linejoin="round">600</text>
<rect x="37.3" y="197.2" width="20.5" height="9.8" fill="url(#hC)"/>
<text x="59.9" y="205.5" font-size="9" font-weight="bold" text-anchor="start" fill="#000" stroke="#000" stroke-width="0.18" stroke-linejoin="round">ME-PBSCC,<tspan font-style="italic">R</tspan><tspan font-size="0.65em" baseline-shift="-2.2">o</tspan></text>
<rect x="37.3" y="210.5" width="20.5" height="9.8" fill="url(#hG)"/>
<text x="59.9" y="218.8" font-size="9" font-weight="bold" text-anchor="start" fill="#000" stroke="#000" stroke-width="0.18" stroke-linejoin="round">ME-PBSCC,<tspan font-style="italic">R</tspan><tspan font-size="0.65em" baseline-shift="-2.2">p</tspan></text>
<rect x="37.3" y="223.8" width="20.5" height="9.8" fill="url(#xC)"/>
<text x="59.9" y="232.1" font-size="9" font-weight="bold" text-anchor="start" fill="#000" stroke="#000" stroke-width="0.18" stroke-linejoin="round">PBS32C,<tspan font-style="italic">R</tspan><tspan font-size="0.65em" baseline-shift="-2.2">o</tspan></text>
<rect x="37.3" y="237.1" width="20.5" height="9.8" fill="url(#xG)"/>
<text x="59.9" y="245.4" font-size="9" font-weight="bold" text-anchor="start" fill="#000" stroke="#000" stroke-width="0.18" stroke-linejoin="round">PBS32C,<tspan font-style="italic">R</tspan><tspan font-size="0.65em" baseline-shift="-2.2">p</tspan></text>
<text x="115.9" y="356.3" font-size="9" font-weight="bold" text-anchor="middle" fill="#000" stroke="#000" stroke-width="0.18" stroke-linejoin="round">Temperature, <tspan font-size="0.7em" baseline-shift="3.0">o</tspan>C</text>
<text x="10.7" y="264.3" font-size="9" font-weight="bold" text-anchor="middle" fill="#000" stroke="#000" stroke-width="0.18" stroke-linejoin="round" transform="rotate(-90 10.7 264.3)">Resistance, Ω cm<tspan font-size="0.62em" baseline-shift="3.4">2</tspan></text>
<text x="0.7" y="191.3" font-size="13.5" font-weight="bold" text-anchor="start" fill="#000" stroke="#000" stroke-width="0.18" stroke-linejoin="round">d</text>
<g fill="#fff" stroke="#3cb04c" stroke-width="1.1"><circle cx="263.5" cy="207.38" r="1.6"/><circle cx="265.98" cy="210.18" r="1.6"/><circle cx="268.46" cy="212.9" r="1.6"/><circle cx="270.94" cy="215.55" r="1.6"/><circle cx="273.42" cy="218.13" r="1.6"/><circle cx="275.9" cy="220.66" r="1.6"/><circle cx="278.38" cy="223.13" r="1.6"/><circle cx="280.86" cy="225.54" r="1.6"/><circle cx="283.34" cy="227.91" r="1.6"/><circle cx="285.82" cy="230.24" r="1.6"/><circle cx="288.3" cy="232.52" r="1.6"/><circle cx="290.77" cy="234.76" r="1.6"/><circle cx="293.25" cy="236.97" r="1.6"/><circle cx="295.73" cy="239.15" r="1.6"/><circle cx="298.21" cy="241.29" r="1.6"/><circle cx="300.69" cy="243.41" r="1.6"/><circle cx="303.17" cy="245.5" r="1.6"/><circle cx="305.65" cy="247.57" r="1.6"/><circle cx="308.13" cy="249.61" r="1.6"/><circle cx="310.61" cy="251.63" r="1.6"/><circle cx="313.09" cy="253.64" r="1.6"/><circle cx="315.57" cy="255.62" r="1.6"/><circle cx="318.05" cy="257.59" r="1.6"/><circle cx="320.53" cy="259.55" r="1.6"/><circle cx="323.01" cy="261.49" r="1.6"/><circle cx="325.49" cy="263.41" r="1.6"/><circle cx="327.97" cy="265.33" r="1.6"/><circle cx="330.45" cy="267.23" r="1.6"/><circle cx="332.93" cy="269.12" r="1.6"/><circle cx="335.41" cy="271" r="1.6"/><circle cx="337.88" cy="272.88" r="1.6"/><circle cx="340.36" cy="274.74" r="1.6"/><circle cx="342.84" cy="276.6" r="1.6"/><circle cx="345.32" cy="278.45" r="1.6"/><circle cx="347.8" cy="280.29" r="1.6"/><circle cx="350.28" cy="282.13" r="1.6"/><circle cx="352.76" cy="283.96" r="1.6"/><circle cx="355.24" cy="285.79" r="1.6"/><circle cx="357.72" cy="287.61" r="1.6"/><circle cx="360.2" cy="289.42" r="1.6"/><circle cx="362.68" cy="291.24" r="1.6"/><circle cx="365.16" cy="293.05" r="1.6"/><circle cx="365.67" cy="293.42" r="1.6"/></g>
<path d="M263.5,203.4L265.8,205.7L263.5,208L261.2,205.7ZM266.83,206.86L269.13,209.16L266.83,211.46L264.53,209.16ZM270.17,210.13L272.47,212.43L270.17,214.73L267.87,212.43ZM273.5,213.21L275.8,215.51L273.5,217.81L271.2,215.51ZM276.84,216.14L279.14,218.44L276.84,220.74L274.54,218.44ZM280.17,218.94L282.47,221.24L280.17,223.54L277.87,221.24ZM283.51,221.61L285.81,223.91L283.51,226.21L281.21,223.91ZM286.84,224.17L289.14,226.47L286.84,228.77L284.54,226.47ZM290.18,226.63L292.48,228.93L290.18,231.23L287.88,228.93ZM293.51,229.01L295.81,231.31L293.51,233.61L291.21,231.31ZM296.85,231.32L299.15,233.62L296.85,235.92L294.55,233.62ZM300.18,233.56L302.48,235.86L300.18,238.16L297.88,235.86ZM303.51,235.74L305.81,238.04L303.51,240.34L301.21,238.04ZM306.85,237.87L309.15,240.17L306.85,242.47L304.55,240.17ZM310.18,239.95L312.48,242.25L310.18,244.55L307.88,242.25ZM313.52,241.99L315.82,244.29L313.52,246.59L311.22,244.29ZM316.85,244L319.15,246.3L316.85,248.6L314.55,246.3ZM320.19,245.97L322.49,248.27L320.19,250.57L317.89,248.27ZM323.52,247.92L325.82,250.22L323.52,252.52L321.22,250.22ZM326.86,249.84L329.16,252.14L326.86,254.44L324.56,252.14ZM330.19,251.74L332.49,254.04L330.19,256.34L327.89,254.04ZM333.52,253.62L335.82,255.92L333.52,258.22L331.22,255.92ZM336.86,255.48L339.16,257.78L336.86,260.08L334.56,257.78ZM340.19,257.33L342.49,259.63L340.19,261.93L337.89,259.63ZM343.53,259.16L345.83,261.46L343.53,263.76L341.23,261.46ZM346.86,260.99L349.16,263.29L346.86,265.59L344.56,263.29ZM350.2,262.8L352.5,265.1L350.2,267.4L347.9,265.1ZM353.53,264.6L355.83,266.9L353.53,269.2L351.23,266.9ZM356.87,266.39L359.17,268.69L356.87,270.99L354.57,268.69ZM360.2,268.18L362.5,270.48L360.2,272.78L357.9,270.48ZM363.53,269.96L365.83,272.26L363.53,274.56L361.23,272.26ZM366.87,271.73L369.17,274.03L366.87,276.33L364.57,274.03ZM370.2,273.5L372.5,275.8L370.2,278.1L367.9,275.8ZM373.54,275.26L375.84,277.56L373.54,279.86L371.24,277.56ZM376.87,277.02L379.17,279.32L376.87,281.62L374.57,279.32ZM380.21,278.78L382.51,281.08L380.21,283.38L377.91,281.08ZM383.54,280.53L385.84,282.83L383.54,285.13L381.24,282.83ZM386.88,282.29L389.18,284.59L386.88,286.89L384.58,284.59ZM390.21,284.03L392.51,286.33L390.21,288.63L387.91,286.33ZM393.55,285.78L395.85,288.08L393.55,290.38L391.25,288.08ZM396.88,287.52L399.18,289.82L396.88,292.12L394.58,289.82ZM400.21,289.27L402.51,291.57L400.21,293.87L397.91,291.57ZM403.55,291.01L405.85,293.31L403.55,295.61L401.25,293.31ZM404.57,291.54L406.88,293.84L404.57,296.14L402.27,293.84Z" fill="none" stroke="#ff0000" stroke-width="1.1"/>
<path d="M263.5,334.2L265.8,336.5L263.5,338.8L261.2,336.5ZM266.83,328.75L269.13,331.05L266.83,333.35L264.53,331.05ZM270.17,323.57L272.47,325.87L270.17,328.17L267.87,325.87ZM273.5,318.65L275.8,320.95L273.5,323.25L271.2,320.95ZM276.84,313.97L279.14,316.27L276.84,318.57L274.54,316.27ZM280.17,309.51L282.47,311.81L280.17,314.11L277.87,311.81ZM283.51,305.26L285.81,307.56L283.51,309.86L281.21,307.56ZM286.84,301.21L289.14,303.51L286.84,305.81L284.54,303.51ZM290.18,297.34L292.48,299.64L290.18,301.94L287.88,299.64ZM293.51,293.65L295.81,295.95L293.51,298.25L291.21,295.95ZM296.85,290.13L299.15,292.43L296.85,294.73L294.55,292.43ZM300.18,286.78L302.48,289.08L300.18,291.38L297.88,289.08ZM303.51,283.59L305.81,285.89L303.51,288.19L301.21,285.89ZM306.85,280.56L309.15,282.86L306.85,285.16L304.55,282.86ZM310.18,277.68L312.48,279.98L310.18,282.28L307.88,279.98ZM313.52,274.95L315.82,277.25L313.52,279.55L311.22,277.25ZM316.85,272.38L319.15,274.68L316.85,276.98L314.55,274.68ZM320.19,269.95L322.49,272.25L320.19,274.55L317.89,272.25ZM323.52,267.68L325.82,269.98L323.52,272.28L321.22,269.98ZM326.86,265.54L329.16,267.84L326.86,270.14L324.56,267.84ZM330.19,263.56L332.49,265.86L330.19,268.16L327.89,265.86ZM333.52,261.72L335.82,264.02L333.52,266.32L331.22,264.02ZM336.86,260.02L339.16,262.32L336.86,264.62L334.56,262.32ZM340.19,258.47L342.49,260.77L340.19,263.07L337.89,260.77ZM343.53,257.06L345.83,259.36L343.53,261.66L341.23,259.36ZM346.86,255.8L349.16,258.1L346.86,260.4L344.56,258.1ZM350.2,254.68L352.5,256.98L350.2,259.28L347.9,256.98ZM353.53,253.7L355.83,256L353.53,258.3L351.23,256ZM356.87,252.87L359.17,255.17L356.87,257.47L354.57,255.17ZM360.2,252.19L362.5,254.49L360.2,256.79L357.9,254.49ZM363.53,251.64L365.83,253.94L363.53,256.24L361.23,253.94ZM366.87,251.25L369.17,253.55L366.87,255.85L364.57,253.55ZM370.2,251L372.5,253.3L370.2,255.6L367.9,253.3ZM373.54,250.89L375.84,253.19L373.54,255.49L371.24,253.19ZM376.87,250.93L379.17,253.23L376.87,255.53L374.57,253.23ZM380.21,251.11L382.51,253.41L380.21,255.71L377.91,253.41ZM383.54,251.44L385.84,253.74L383.54,256.04L381.24,253.74ZM386.88,251.92L389.18,254.22L386.88,256.52L384.58,254.22ZM390.21,252.54L392.51,254.84L390.21,257.14L387.91,254.84ZM393.55,253.31L395.85,255.61L393.55,257.91L391.25,255.61ZM396.88,254.23L399.18,256.53L396.88,258.83L394.58,256.53ZM400.21,255.29L402.51,257.59L400.21,259.89L397.91,257.59ZM403.55,256.5L405.85,258.8L403.55,261.1L401.25,258.8ZM404.57,256.9L406.88,259.2L404.57,261.5L402.27,259.2Z" fill="none" stroke="#ff0000" stroke-width="1.1"/>
<g fill="#fff" stroke="#3cb04c" stroke-width="1.1"><circle cx="263.5" cy="336.5" r="1.6"/><circle cx="265.98" cy="332.48" r="1.6"/><circle cx="268.46" cy="328.63" r="1.6"/><circle cx="270.94" cy="324.94" r="1.6"/><circle cx="273.42" cy="321.42" r="1.6"/><circle cx="275.9" cy="318.05" r="1.6"/><circle cx="278.38" cy="314.83" r="1.6"/><circle cx="280.86" cy="311.76" r="1.6"/><circle cx="283.34" cy="308.83" r="1.6"/><circle cx="285.82" cy="306.04" r="1.6"/><circle cx="288.3" cy="303.38" r="1.6"/><circle cx="290.77" cy="300.85" r="1.6"/><circle cx="293.25" cy="298.46" r="1.6"/><circle cx="295.73" cy="296.19" r="1.6"/><circle cx="298.21" cy="294.04" r="1.6"/><circle cx="300.69" cy="292.02" r="1.6"/><circle cx="303.17" cy="290.12" r="1.6"/><circle cx="305.65" cy="288.34" r="1.6"/><circle cx="308.13" cy="286.68" r="1.6"/><circle cx="310.61" cy="285.14" r="1.6"/><circle cx="313.09" cy="283.71" r="1.6"/><circle cx="315.57" cy="282.4" r="1.6"/><circle cx="318.05" cy="281.21" r="1.6"/><circle cx="320.53" cy="280.12" r="1.6"/><circle cx="323.01" cy="279.16" r="1.6"/><circle cx="325.49" cy="278.3" r="1.6"/><circle cx="327.97" cy="277.56" r="1.6"/><circle cx="330.45" cy="276.93" r="1.6"/><circle cx="332.93" cy="276.41" r="1.6"/><circle cx="335.41" cy="276" r="1.6"/><circle cx="337.88" cy="275.7" r="1.6"/><circle cx="340.36" cy="275.52" r="1.6"/><circle cx="342.84" cy="275.45" r="1.6"/><circle cx="345.32" cy="275.48" r="1.6"/><circle cx="347.8" cy="275.63" r="1.6"/><circle cx="350.28" cy="275.89" r="1.6"/><circle cx="352.76" cy="276.26" r="1.6"/><circle cx="355.24" cy="276.73" r="1.6"/><circle cx="357.72" cy="277.32" r="1.6"/><circle cx="360.2" cy="278.02" r="1.6"/><circle cx="362.68" cy="278.83" r="1.6"/><circle cx="365.16" cy="279.75" r="1.6"/><circle cx="365.67" cy="279.96" r="1.6"/></g>
<rect x="263.5" y="192.5" width="171" height="144" fill="none" stroke="#1a1a1a" stroke-width="1.0"/>
<line x1="260.9" y1="336.5" x2="263.5" y2="336.5" stroke="#1a1a1a" stroke-width="1"/>
<text x="258.7" y="338.9" font-size="8.5" font-weight="bold" text-anchor="end" fill="#000" stroke="#000" stroke-width="0.18" stroke-linejoin="round">0.0</text>
<line x1="260.9" y1="312.5" x2="263.5" y2="312.5" stroke="#1a1a1a" stroke-width="1"/>
<text x="258.7" y="314.9" font-size="8.5" font-weight="bold" text-anchor="end" fill="#000" stroke="#000" stroke-width="0.18" stroke-linejoin="round">0.2</text>
<line x1="260.9" y1="288.5" x2="263.5" y2="288.5" stroke="#1a1a1a" stroke-width="1"/>
<text x="258.7" y="290.9" font-size="8.5" font-weight="bold" text-anchor="end" fill="#000" stroke="#000" stroke-width="0.18" stroke-linejoin="round">0.4</text>
<line x1="260.9" y1="264.5" x2="263.5" y2="264.5" stroke="#1a1a1a" stroke-width="1"/>
<text x="258.7" y="266.9" font-size="8.5" font-weight="bold" text-anchor="end" fill="#000" stroke="#000" stroke-width="0.18" stroke-linejoin="round">0.6</text>
<line x1="260.9" y1="240.5" x2="263.5" y2="240.5" stroke="#1a1a1a" stroke-width="1"/>
<text x="258.7" y="242.9" font-size="8.5" font-weight="bold" text-anchor="end" fill="#000" stroke="#000" stroke-width="0.18" stroke-linejoin="round">0.8</text>
<line x1="260.9" y1="216.5" x2="263.5" y2="216.5" stroke="#1a1a1a" stroke-width="1"/>
<text x="258.7" y="218.9" font-size="8.5" font-weight="bold" text-anchor="end" fill="#000" stroke="#000" stroke-width="0.18" stroke-linejoin="round">1.0</text>
<line x1="260.9" y1="192.5" x2="263.5" y2="192.5" stroke="#1a1a1a" stroke-width="1"/>
<text x="258.7" y="194.9" font-size="8.5" font-weight="bold" text-anchor="end" fill="#000" stroke="#000" stroke-width="0.18" stroke-linejoin="round">1.2</text>
<line x1="261.9" y1="324.5" x2="263.5" y2="324.5" stroke="#1a1a1a" stroke-width="1"/>
<line x1="261.9" y1="300.5" x2="263.5" y2="300.5" stroke="#1a1a1a" stroke-width="1"/>
<line x1="261.9" y1="276.5" x2="263.5" y2="276.5" stroke="#1a1a1a" stroke-width="1"/>
<line x1="261.9" y1="252.5" x2="263.5" y2="252.5" stroke="#1a1a1a" stroke-width="1"/>
<line x1="261.9" y1="228.5" x2="263.5" y2="228.5" stroke="#1a1a1a" stroke-width="1"/>
<line x1="261.9" y1="204.5" x2="263.5" y2="204.5" stroke="#1a1a1a" stroke-width="1"/>
<line x1="434.5" y1="336.5" x2="437.1" y2="336.5" stroke="#1a1a1a" stroke-width="1"/>
<text x="439.3" y="338.9" font-size="8.5" font-weight="bold" text-anchor="start" fill="#000" stroke="#000" stroke-width="0.18" stroke-linejoin="round">0.0</text>
<line x1="434.5" y1="303.5" x2="437.1" y2="303.5" stroke="#1a1a1a" stroke-width="1"/>
<text x="439.3" y="305.95" font-size="8.5" font-weight="bold" text-anchor="start" fill="#000" stroke="#000" stroke-width="0.18" stroke-linejoin="round">0.5</text>
<line x1="434.5" y1="270.5" x2="437.1" y2="270.5" stroke="#1a1a1a" stroke-width="1"/>
<text x="439.3" y="273" font-size="8.5" font-weight="bold" text-anchor="start" fill="#000" stroke="#000" stroke-width="0.18" stroke-linejoin="round">1.0</text>
<line x1="434.5" y1="237.5" x2="437.1" y2="237.5" stroke="#1a1a1a" stroke-width="1"/>
<text x="439.3" y="240.05" font-size="8.5" font-weight="bold" text-anchor="start" fill="#000" stroke="#000" stroke-width="0.18" stroke-linejoin="round">1.5</text>
<line x1="434.5" y1="204.5" x2="437.1" y2="204.5" stroke="#1a1a1a" stroke-width="1"/>
<text x="439.3" y="207.1" font-size="8.5" font-weight="bold" text-anchor="start" fill="#000" stroke="#000" stroke-width="0.18" stroke-linejoin="round">2.0</text>
<line x1="434.5" y1="320.5" x2="436.1" y2="320.5" stroke="#1a1a1a" stroke-width="1"/>
<line x1="434.5" y1="287.5" x2="436.1" y2="287.5" stroke="#1a1a1a" stroke-width="1"/>
<line x1="434.5" y1="254.5" x2="436.1" y2="254.5" stroke="#1a1a1a" stroke-width="1"/>
<line x1="434.5" y1="221.5" x2="436.1" y2="221.5" stroke="#1a1a1a" stroke-width="1"/>
<line x1="263.5" y1="336.5" x2="263.5" y2="339.1" stroke="#1a1a1a" stroke-width="1"/>
<text x="263.5" y="348.1" font-size="8.5" font-weight="bold" text-anchor="middle" fill="#000" stroke="#000" stroke-width="0.18" stroke-linejoin="round">0</text>
<line x1="306.5" y1="336.5" x2="306.5" y2="339.1" stroke="#1a1a1a" stroke-width="1"/>
<text x="306.25" y="348.1" font-size="8.5" font-weight="bold" text-anchor="middle" fill="#000" stroke="#000" stroke-width="0.18" stroke-linejoin="round">1</text>
<line x1="349.5" y1="336.5" x2="349.5" y2="339.1" stroke="#1a1a1a" stroke-width="1"/>
<text x="349" y="348.1" font-size="8.5" font-weight="bold" text-anchor="middle" fill="#000" stroke="#000" stroke-width="0.18" stroke-linejoin="round">2</text>
<line x1="391.5" y1="336.5" x2="391.5" y2="339.1" stroke="#1a1a1a" stroke-width="1"/>
<text x="391.75" y="348.1" font-size="8.5" font-weight="bold" text-anchor="middle" fill="#000" stroke="#000" stroke-width="0.18" stroke-linejoin="round">3</text>
<line x1="434.5" y1="336.5" x2="434.5" y2="339.1" stroke="#1a1a1a" stroke-width="1"/>
<text x="434.5" y="348.1" font-size="8.5" font-weight="bold" text-anchor="middle" fill="#000" stroke="#000" stroke-width="0.18" stroke-linejoin="round">4</text>
<line x1="284.5" y1="336.5" x2="284.5" y2="338.1" stroke="#1a1a1a" stroke-width="1"/>
<line x1="327.5" y1="336.5" x2="327.5" y2="338.1" stroke="#1a1a1a" stroke-width="1"/>
<line x1="370.5" y1="336.5" x2="370.5" y2="338.1" stroke="#1a1a1a" stroke-width="1"/>
<line x1="413.5" y1="336.5" x2="413.5" y2="338.1" stroke="#1a1a1a" stroke-width="1"/>
<text x="349" y="358.4" font-size="9" font-weight="bold" text-anchor="middle" fill="#000" stroke="#000" stroke-width="0.18" stroke-linejoin="round">Current density, A cm<tspan font-size="0.62em" baseline-shift="3.4">-2</tspan></text>
<text x="242.3" y="264.7" font-size="9" font-weight="bold" text-anchor="middle" fill="#000" stroke="#000" stroke-width="0.18" stroke-linejoin="round" transform="rotate(-90 242.3 264.7)">Voltage, V</text>
<text x="460.1" y="264.2" font-size="9" font-weight="bold" text-anchor="middle" fill="#000" stroke="#000" stroke-width="0.18" stroke-linejoin="round" transform="rotate(-90 460.1 264.2)">Power density, W cm<tspan font-size="0.62em" baseline-shift="3.4">-2</tspan></text>
<text x="268.6" y="204.2" font-size="8.8" font-weight="bold" text-anchor="start" fill="#000" stroke="#000" stroke-width="0.18" stroke-linejoin="round">700 <tspan font-size="0.7em" baseline-shift="3.0">o</tspan>C</text>
<path d="M372.7,300.9L375.1,303.3L372.7,305.7L370.3,303.3Z" fill="none" stroke="#ff0000" stroke-width="1.1"/>
<text x="382.2" y="306.5" font-size="8.8" font-weight="bold" text-anchor="start" fill="#000" stroke="#000" stroke-width="0.18" stroke-linejoin="round">ME-PBSCC</text>
<circle cx="372.7" cy="313.9" r="2.1" fill="none" stroke="#3cb04c" stroke-width="1.1"/>
<text x="382.2" y="317.1" font-size="8.8" font-weight="bold" text-anchor="start" fill="#000" stroke="#000" stroke-width="0.18" stroke-linejoin="round">PBS32C</text>
<text x="288" y="330.9" font-size="8.5" font-weight="bold" text-anchor="start" fill="#000" stroke="#000" stroke-width="0.18" stroke-linejoin="round">Oxygen electrode: air+3% H<tspan font-size="0.65em" baseline-shift="-2.2">2</tspan>O+Cr</text>
<g fill="#fff" stroke="#3cb04c" stroke-width="0.9"><circle cx="332.94" cy="230.9" r="1.15"/><circle cx="333.17" cy="228.27" r="1.15"/><circle cx="333.86" cy="225.67" r="1.15"/><circle cx="335.01" cy="223.14" r="1.15"/><circle cx="336.6" cy="220.69" r="1.15"/><circle cx="338.62" cy="218.37" r="1.15"/><circle cx="341.03" cy="216.19" r="1.15"/><circle cx="343.81" cy="214.18" r="1.15"/><circle cx="346.93" cy="212.37" r="1.15"/><circle cx="350.35" cy="210.78" r="1.15"/><circle cx="354.03" cy="209.42" r="1.15"/><circle cx="357.93" cy="208.32" r="1.15"/><circle cx="362" cy="207.48" r="1.15"/><circle cx="366.19" cy="206.91" r="1.15"/><circle cx="370.46" cy="206.63" r="1.15"/><circle cx="374.76" cy="206.63" r="1.15"/><circle cx="379.03" cy="206.91" r="1.15"/><circle cx="383.22" cy="207.48" r="1.15"/><circle cx="387.29" cy="208.32" r="1.15"/><circle cx="391.19" cy="209.42" r="1.15"/><circle cx="394.87" cy="210.78" r="1.15"/><circle cx="398.29" cy="212.37" r="1.15"/><circle cx="401.41" cy="214.18" r="1.15"/><circle cx="404.19" cy="216.19" r="1.15"/><circle cx="406.6" cy="218.37" r="1.15"/><circle cx="408.62" cy="220.69" r="1.15"/><circle cx="410.21" cy="223.14" r="1.15"/><circle cx="411.36" cy="225.67" r="1.15"/><circle cx="412.05" cy="228.27" r="1.15"/><circle cx="412.28" cy="230.9" r="1.15"/><circle cx="412.87" cy="229.49" r="1.15"/><circle cx="414.28" cy="228.9" r="1.15"/><circle cx="415.68" cy="229.49" r="1.15"/><circle cx="416.27" cy="230.9" r="1.15"/><circle cx="403.32" cy="224.24" r="1.15"/><circle cx="410.96" cy="227.57" r="1.15"/><circle cx="413.28" cy="229.57" r="1.15"/><circle cx="414.94" cy="228.24" r="1.15"/></g>
<path d="M336.09,229.2L337.79,230.9L336.09,232.6L334.39,230.9ZM336.26,227.22L337.96,228.92L336.26,230.62L334.56,228.92ZM336.78,225.26L338.48,226.96L336.78,228.66L335.08,226.96ZM337.63,223.35L339.33,225.05L337.63,226.75L335.93,225.05ZM338.81,221.51L340.51,223.21L338.81,224.91L337.11,223.21ZM340.31,219.76L342.01,221.46L340.31,223.16L338.61,221.46ZM342.1,218.12L343.8,219.82L342.1,221.52L340.4,219.82ZM344.16,216.6L345.86,218.3L344.16,220L342.46,218.3ZM346.48,215.24L348.18,216.94L346.48,218.64L344.78,216.94ZM349.02,214.04L350.72,215.74L349.02,217.44L347.32,215.74ZM351.75,213.02L353.45,214.72L351.75,216.42L350.05,214.72ZM354.65,212.19L356.35,213.89L354.65,215.59L352.95,213.89ZM357.67,211.55L359.37,213.25L357.67,214.95L355.97,213.25ZM360.79,211.13L362.49,212.83L360.79,214.53L359.09,212.83ZM363.96,210.91L365.66,212.61L363.96,214.31L362.26,212.61ZM367.15,210.91L368.85,212.61L367.15,214.31L365.45,212.61ZM370.32,211.13L372.02,212.83L370.32,214.53L368.62,212.83ZM373.44,211.55L375.14,213.25L373.44,214.95L371.74,213.25ZM376.46,212.19L378.16,213.89L376.46,215.59L374.76,213.89ZM379.36,213.02L381.06,214.72L379.36,216.42L377.66,214.72ZM382.09,214.04L383.79,215.74L382.09,217.44L380.39,215.74ZM384.63,215.24L386.33,216.94L384.63,218.64L382.93,216.94ZM386.95,216.6L388.65,218.3L386.95,220L385.25,218.3ZM389.01,218.12L390.71,219.82L389.01,221.52L387.31,219.82ZM390.8,219.76L392.5,221.46L390.8,223.16L389.1,221.46ZM392.3,221.51L394,223.21L392.3,224.91L390.6,223.21ZM393.48,223.35L395.18,225.05L393.48,226.75L391.78,225.05ZM394.33,225.26L396.03,226.96L394.33,228.66L392.63,226.96ZM394.85,227.22L396.55,228.92L394.85,230.62L393.15,228.92ZM395.02,229.2L396.72,230.9L395.02,232.6L393.32,230.9ZM395.77,228.05L397.47,229.75L395.77,231.45L394.07,229.75ZM397.26,228.05L398.96,229.75L397.26,231.45L395.56,229.75ZM398.01,229.2L399.71,230.9L398.01,232.6L396.31,230.9ZM394.36,225.2L396.06,226.9L394.36,228.6L392.66,226.9ZM396.68,222.54L398.38,224.24L396.68,225.94L394.98,224.24ZM396.02,227.2L397.72,228.9L396.02,230.6L394.32,228.9ZM397.34,224.21L399.04,225.91L397.34,227.6L395.64,225.91Z" fill="none" stroke="#ff0000" stroke-width="0.9"/>
<line x1="327.2" y1="230.9" x2="426.8" y2="230.9" stroke="#999" stroke-width="1.2"/>
<line x1="327.2" y1="231.5" x2="327.2" y2="195.3" stroke="#333" stroke-width="0.9"/>
<line x1="325.4" y1="230.9" x2="327.2" y2="230.9" stroke="#333" stroke-width="0.8"/>
<text x="325.3" y="233.3" font-size="6.8" font-weight="bold" text-anchor="end" fill="#000" stroke="#000" stroke-width="0.18" stroke-linejoin="round">0.00</text>
<line x1="325.4" y1="214.25" x2="327.2" y2="214.25" stroke="#333" stroke-width="0.8"/>
<text x="325.3" y="216.65" font-size="6.8" font-weight="bold" text-anchor="end" fill="#000" stroke="#000" stroke-width="0.18" stroke-linejoin="round">0.05</text>
<line x1="325.4" y1="197.6" x2="327.2" y2="197.6" stroke="#333" stroke-width="0.8"/>
<text x="325.3" y="200" font-size="6.8" font-weight="bold" text-anchor="end" fill="#000" stroke="#000" stroke-width="0.18" stroke-linejoin="round">0.10</text>
<line x1="326" y1="222.58" x2="327.2" y2="222.58" stroke="#333" stroke-width="0.7"/>
<line x1="326" y1="205.93" x2="327.2" y2="205.93" stroke="#333" stroke-width="0.7"/>
<line x1="333.6" y1="230.9" x2="333.6" y2="232.5" stroke="#555" stroke-width="0.8"/>
<text x="333.6" y="238.6" font-size="6.8" font-weight="bold" text-anchor="middle" fill="#000" stroke="#000" stroke-width="0.18" stroke-linejoin="round">0.1</text>
<line x1="366.8" y1="230.9" x2="366.8" y2="232.5" stroke="#555" stroke-width="0.8"/>
<text x="366.8" y="238.6" font-size="6.8" font-weight="bold" text-anchor="middle" fill="#000" stroke="#000" stroke-width="0.18" stroke-linejoin="round">0.2</text>
<line x1="400" y1="230.9" x2="400" y2="232.5" stroke="#555" stroke-width="0.8"/>
<text x="400" y="238.6" font-size="6.8" font-weight="bold" text-anchor="middle" fill="#000" stroke="#000" stroke-width="0.18" stroke-linejoin="round">0.3</text>
<line x1="350.2" y1="230.9" x2="350.2" y2="232" stroke="#555" stroke-width="0.7"/>
<line x1="383.4" y1="230.9" x2="383.4" y2="232" stroke="#555" stroke-width="0.7"/>
<line x1="416.6" y1="230.9" x2="416.6" y2="232" stroke="#555" stroke-width="0.7"/>
<text x="377.4" y="245.4" font-size="7.5" font-weight="bold" text-anchor="middle" fill="#000" stroke="#000" stroke-width="0.18" stroke-linejoin="round">Z', Ω cm<tspan font-size="0.62em" baseline-shift="2.8">2</tspan></text>
<text x="307.6" y="214.5" font-size="7.5" font-weight="bold" text-anchor="middle" fill="#000" stroke="#000" stroke-width="0.18" stroke-linejoin="round" transform="rotate(-90 307.6 214.5)">-Z'', Ω cm<tspan font-size="0.62em" baseline-shift="2.8">2</tspan></text>
<text x="329.5" y="204" font-size="7.5" font-weight="bold" text-anchor="start" fill="#000" stroke="#000" stroke-width="0.18" stroke-linejoin="round">0.5 A cm<tspan font-size="0.62em" baseline-shift="2.8">-2</tspan></text>
<text x="235.6" y="191.1" font-size="13.5" font-weight="bold" text-anchor="start" fill="#000" stroke="#000" stroke-width="0.18" stroke-linejoin="round">e</text>
<rect x="520.9" y="236.71" width="11.8" height="99.19" fill="url(#hR)" stroke="#ff0000" stroke-width="1"/>
<rect x="535.4" y="249.86" width="12" height="86.04" fill="url(#xG2)" stroke="#3cb44b" stroke-width="1"/>
<text x="527.2" y="234.81" font-size="7.9" font-weight="bold" text-anchor="middle" fill="#ff0000" stroke="#ff0000" stroke-width="0.18" stroke-linejoin="round">0.83</text>
<text x="542.2" y="247.96" font-size="7.9" font-weight="bold" text-anchor="middle" fill="#3cb44b" stroke="#3cb44b" stroke-width="0.18" stroke-linejoin="round">0.72</text>
<rect x="559.2" y="228.35" width="11.8" height="107.55" fill="url(#hR)" stroke="#ff0000" stroke-width="1"/>
<rect x="573.7" y="249.86" width="12" height="86.04" fill="url(#xG2)" stroke="#3cb44b" stroke-width="1"/>
<text x="565.5" y="226.45" font-size="7.9" font-weight="bold" text-anchor="middle" fill="#ff0000" stroke="#ff0000" stroke-width="0.18" stroke-linejoin="round">0.90</text>
<text x="580.5" y="247.96" font-size="7.9" font-weight="bold" text-anchor="middle" fill="#3cb44b" stroke="#3cb44b" stroke-width="0.18" stroke-linejoin="round">0.72</text>
<rect x="597.4" y="223.57" width="11.8" height="112.33" fill="url(#hR)" stroke="#ff0000" stroke-width="1"/>
<rect x="611.9" y="251.05" width="12" height="84.84" fill="url(#xG2)" stroke="#3cb44b" stroke-width="1"/>
<text x="603.7" y="221.67" font-size="7.9" font-weight="bold" text-anchor="middle" fill="#ff0000" stroke="#ff0000" stroke-width="0.18" stroke-linejoin="round">0.94</text>
<text x="618.7" y="249.15" font-size="7.9" font-weight="bold" text-anchor="middle" fill="#3cb44b" stroke="#3cb44b" stroke-width="0.18" stroke-linejoin="round">0.71</text>
<rect x="635.7" y="219.98" width="11.8" height="115.91" fill="url(#hR)" stroke="#ff0000" stroke-width="1"/>
<rect x="650.2" y="252.25" width="12" height="83.65" fill="url(#xG2)" stroke="#3cb44b" stroke-width="1"/>
<text x="642" y="218.08" font-size="7.9" font-weight="bold" text-anchor="middle" fill="#ff0000" stroke="#ff0000" stroke-width="0.18" stroke-linejoin="round">0.97</text>
<text x="657" y="250.35" font-size="7.9" font-weight="bold" text-anchor="middle" fill="#3cb44b" stroke="#3cb44b" stroke-width="0.18" stroke-linejoin="round">0.70</text>
<rect x="505.5" y="192.5" width="172" height="143.4" fill="none" stroke="#1a1a1a" stroke-width="1.0"/>
<line x1="502.9" y1="335.5" x2="505.5" y2="335.5" stroke="#1a1a1a" stroke-width="1"/>
<text x="501.4" y="339" font-size="8.9" font-weight="bold" text-anchor="end" fill="#000" stroke="#000" stroke-width="0.18" stroke-linejoin="round">0.0</text>
<line x1="502.9" y1="312.5" x2="505.5" y2="312.5" stroke="#1a1a1a" stroke-width="1"/>
<text x="501.4" y="315.1" font-size="8.9" font-weight="bold" text-anchor="end" fill="#000" stroke="#000" stroke-width="0.18" stroke-linejoin="round">0.2</text>
<line x1="502.9" y1="288.5" x2="505.5" y2="288.5" stroke="#1a1a1a" stroke-width="1"/>
<text x="501.4" y="291.2" font-size="8.9" font-weight="bold" text-anchor="end" fill="#000" stroke="#000" stroke-width="0.18" stroke-linejoin="round">0.4</text>
<line x1="502.9" y1="264.5" x2="505.5" y2="264.5" stroke="#1a1a1a" stroke-width="1"/>
<text x="501.4" y="267.3" font-size="8.9" font-weight="bold" text-anchor="end" fill="#000" stroke="#000" stroke-width="0.18" stroke-linejoin="round">0.6</text>
<line x1="502.9" y1="240.5" x2="505.5" y2="240.5" stroke="#1a1a1a" stroke-width="1"/>
<text x="501.4" y="243.4" font-size="8.9" font-weight="bold" text-anchor="end" fill="#000" stroke="#000" stroke-width="0.18" stroke-linejoin="round">0.8</text>
<line x1="502.9" y1="216.5" x2="505.5" y2="216.5" stroke="#1a1a1a" stroke-width="1"/>
<text x="501.4" y="219.5" font-size="8.9" font-weight="bold" text-anchor="end" fill="#000" stroke="#000" stroke-width="0.18" stroke-linejoin="round">1.0</text>
<line x1="502.9" y1="192.5" x2="505.5" y2="192.5" stroke="#1a1a1a" stroke-width="1"/>
<text x="501.4" y="195.6" font-size="8.9" font-weight="bold" text-anchor="end" fill="#000" stroke="#000" stroke-width="0.18" stroke-linejoin="round">1.2</text>
<line x1="503.9" y1="323.5" x2="505.5" y2="323.5" stroke="#1a1a1a" stroke-width="1"/>
<line x1="503.9" y1="300.5" x2="505.5" y2="300.5" stroke="#1a1a1a" stroke-width="1"/>
<line x1="503.9" y1="276.5" x2="505.5" y2="276.5" stroke="#1a1a1a" stroke-width="1"/>
<line x1="503.9" y1="252.5" x2="505.5" y2="252.5" stroke="#1a1a1a" stroke-width="1"/>
<line x1="503.9" y1="228.5" x2="505.5" y2="228.5" stroke="#1a1a1a" stroke-width="1"/>
<line x1="503.9" y1="204.5" x2="505.5" y2="204.5" stroke="#1a1a1a" stroke-width="1"/>
<line x1="534.5" y1="335.9" x2="534.5" y2="338.5" stroke="#1a1a1a" stroke-width="1"/>
<text x="534" y="347.4" font-size="8.7" font-weight="bold" text-anchor="middle" fill="#000" stroke="#000" stroke-width="0.18" stroke-linejoin="round">750</text>
<line x1="572.5" y1="335.9" x2="572.5" y2="338.5" stroke="#1a1a1a" stroke-width="1"/>
<text x="572.3" y="347.4" font-size="8.7" font-weight="bold" text-anchor="middle" fill="#000" stroke="#000" stroke-width="0.18" stroke-linejoin="round">700</text>
<line x1="610.5" y1="335.9" x2="610.5" y2="338.5" stroke="#1a1a1a" stroke-width="1"/>
<text x="610.5" y="347.4" font-size="8.7" font-weight="bold" text-anchor="middle" fill="#000" stroke="#000" stroke-width="0.18" stroke-linejoin="round">650</text>
<line x1="648.5" y1="335.9" x2="648.5" y2="338.5" stroke="#1a1a1a" stroke-width="1"/>
<text x="648.8" y="347.4" font-size="8.7" font-weight="bold" text-anchor="middle" fill="#000" stroke="#000" stroke-width="0.18" stroke-linejoin="round">600</text>
<rect x="509.4" y="195.7" width="19.6" height="9.4" fill="url(#hR)" stroke="#ff0000" stroke-width="1"/>
<text x="531.5" y="203.9" font-size="9" font-weight="bold" text-anchor="start" fill="#000" stroke="#000" stroke-width="0.18" stroke-linejoin="round">ME-PBSCC</text>
<rect x="509.4" y="208" width="19.6" height="9.4" fill="url(#xG2)" stroke="#3cb44b" stroke-width="1"/>
<text x="531.5" y="216.2" font-size="9" font-weight="bold" text-anchor="start" fill="#000" stroke="#000" stroke-width="0.18" stroke-linejoin="round">PBS32C</text>
<text x="591.3" y="357.3" font-size="9" font-weight="bold" text-anchor="middle" fill="#000" stroke="#000" stroke-width="0.18" stroke-linejoin="round">Temperature, <tspan font-size="0.7em" baseline-shift="3.0">o</tspan>C</text>
<text x="484" y="264" font-size="9" font-weight="bold" text-anchor="middle" fill="#000" stroke="#000" stroke-width="0.18" stroke-linejoin="round" transform="rotate(-90 484 264)">(<tspan font-style="italic">P</tspan><tspan font-size="0.65em" baseline-shift="-2.2">max</tspan>, Cr)/(<tspan font-style="italic">P</tspan><tspan font-size="0.65em" baseline-shift="-2.2">max</tspan>, air)</text>
<text x="478.6" y="191.2" font-size="13.5" font-weight="bold" text-anchor="start" fill="#000" stroke="#000" stroke-width="0.18" stroke-linejoin="round">f</text>
<polyline points="30,425.2 31.13,425.84 32.27,426.76 33.4,428 34.53,428.15 35.67,429.05 36.8,430.11 37.93,430.38 39.06,430.8 40.2,431.17 41.33,431.59 42.46,431.79 43.6,432.51 44.73,432.7 45.86,433.14 47,433.18 48.13,433.45 49.26,433.62 50.4,433.83 51.53,433.75 52.66,433.75 53.8,433.9 54.93,433.53 56.06,433.68 57.19,434.82 58.33,434.65 59.46,434.24 60.59,434.38 61.73,434.27 62.86,434.34 63.99,433.87 65.13,434.87 66.26,434.73 67.39,434.11 68.53,434.58 69.66,434.65 70.79,435.06 71.93,435.45 73.06,435.01 74.19,435.1 75.33,435.55 76.46,435.4 77.59,435.23 78.72,435.48 79.86,435.25 80.99,435.2 82.12,435.22 83.26,435.38 84.39,435.07 85.52,434.99 86.66,435.15 87.79,435.48 88.92,435.05 90.06,435.4 91.19,435.01 92.32,435.58 93.45,435.01 94.59,435.28 95.72,435.64 96.85,435.38 97.99,435.28 99.12,435.22 100.25,435.58 101.39,435.62 102.52,435.25 103.65,435.45 104.79,435.25 105.92,435.11 107.05,435.8 108.19,435.26 109.32,434.99 110.45,435.43 111.58,435.58 112.72,435.14 113.85,435.28 114.98,435.11 116.12,435.46 117.25,435.79 118.38,435.41 119.52,435.51 120.65,435.16 121.78,435.33 122.92,435.86 124.05,435.74 125.18,435.15 126.32,435.21 127.45,435.59 128.58,435.42 129.71,435.29 130.85,435.29 131.98,435.18 133.11,435.36 134.25,435.47 135.38,435.52 136.51,435.15 137.65,436.1 138.78,435.5 139.91,435.45 141.05,435.87 142.18,435.38 143.31,435.66 144.45,435.23 145.58,435.52 146.71,435.3 147.84,435.15 148.98,435.39 150.11,435.75 151.24,435.94 152.38,435.01 153.51,435.55 154.64,435.72 155.78,435.49 156.91,435.59 158.04,435.29 159.18,435.53 160.31,435.54 161.44,435.75 162.58,435.42 163.71,435.85 164.84,435.37 165.97,435.13 167.11,436.01 168.24,436.28 169.37,435.41 170.51,434.86 171.64,435.88 172.77,435.95 173.91,435.43 175.04,435.85 176.17,435.75 177.31,435.71 178.44,435.47 179.57,435.74 180.71,435.55 181.84,435.68 182.97,435.88 184.1,435.73 185.24,435.92 186.37,435.65 187.5,435.98 188.64,435.97 189.77,435.25 190.9,435.68 192.04,435.69 193.17,435.53 194.3,435.8 195.44,435.75 196.57,435.57 197.7,435.62 198.84,436.04 199.97,435.49 201.1,435.92 202.24,436.08 203.37,436.06 204.5,435.93 205.63,435.38 206.77,436.2 207.9,435.84 209.03,436.52 210.17,435.94 211.3,435.7 212.43,436.05 213.57,436.18 214.7,435.96 215.83,435.85 216.97,435.88 218.1,435.53 219.23,436.05 220.37,436.31 221.5,436.2 222.63,436.2 223.76,436.17 224.9,436.24 226.03,436.2 227.16,436.75 228.3,436.06 229.43,436.48 230.56,436.67 231.7,436.18 232.83,436.01 233.96,436.27 235.1,436.38 236.23,436.72 237.36,435.65 238.49,436.25 239.63,436.85 240.76,436.76 241.89,436.54 243.03,437.03 244.16,436.56 245.29,436.76 246.43,436.3 247.56,436.4 248.69,437.47 249.83,436.71 250.96,437.21 252.09,436.45 253.23,436.74 254.36,436.66 255.49,437.14 256.62,436.33 257.76,436.3 258.89,437.21 260.02,436.82 261.16,437.14 262.29,436.98 263.42,437.35 264.56,436.48 265.69,437.31 266.82,437.14 267.96,436.94 269.09,437.29 270.22,437.2 271.36,437.31 272.49,437.21 273.62,437.53 274.75,437.34 275.89,437.3 277.02,437.36 278.15,437.27 279.29,437.39 280.42,437.11 281.55,437.44 282.69,437.41 283.82,437.59 284.95,437.57 286.09,437.8 287.22,437.32 288.35,437.81 289.49,437.73 290.62,437.46 291.75,437.49 292.88,437.76 294.02,438.27 295.15,437.61 296.28,437.7 297.42,438.22 298.55,437.64 299.68,438.11 300.82,438.27 301.95,437.97 303.08,438.09 304.22,438.02 305.35,438.58 306.48,437.65 307.62,438.38 308.75,438.69 309.88,438.12 311.01,438.44 312.15,438.29 313.28,438.52 314.41,438.49 315.55,438.44 316.68,438.77 317.81,438.41 318.95,438.78 320.08,438.93 321.21,438.71 322.35,438.65 323.48,438.88 324.61,439.11 325.75,438.72 326.88,439.45 328.01,439.28 329.14,439.02 330.28,439.46 331.41,439.11 332.54,439.18 333.68,438.95 334.81,439.51 335.94,439.47 337.08,439.24 338.21,440.08 339.34,438.54 340.48,439.66 341.61,439.72 342.74,439.3 343.88,439.61 345.01,440.15 346.14,439.5 347.27,439.48 348.41,439.9 349.54,439.89 350.67,439.71 351.81,440.16 352.94,439.81 354.07,439.93 355.21,440.22 356.34,440.47 357.47,440.18 358.61,440.41 359.74,439.91 360.87,440.2 362.01,440.06 363.14,440.29 364.27,440.3 365.4,440.64 366.54,440.27 367.67,439.99 368.8,440.63 369.94,440.76 371.07,440.68 372.2,440.81 373.34,440.92 374.47,440.72 375.6,440.89 376.74,440.44 377.87,440.89 379,440.84 380.14,440.71 381.27,441.11 382.4,440.65 383.53,441.29 384.67,441.38 385.8,441.3 386.93,441.27 388.07,441.68 389.2,441.33 390.33,441.84 391.47,441.01 392.6,441.48 393.73,441.68 394.87,441.8 396,441.69 397.13,441.69 398.27,441.97 399.4,441.97 400.53,441.81 401.67,441.94 402.8,441.56 403.93,441.55 405.06,441.91 406.2,441.82 407.33,442.37 408.46,441.85 409.6,442.08 410.73,441.97 411.86,441.7 413,442.84 414.13,442.16 415.26,442.59 416.4,442.14 417.53,442.73 418.66,442.53 419.8,442.37 420.93,442.3 422.06,442.49 423.19,442.78 424.33,442.75 425.46,442.38 426.59,442.67 427.73,443.19 428.86,442.51 429.99,442.67 431.13,442.58 432.26,442.97 433.39,442.68 434.53,443.26 435.66,442.83 436.79,443.17 437.92,442.88 439.06,442.83 440.19,443.36 441.32,443.21 442.46,443.22 443.59,442.93 444.72,443.11 445.86,443.7 446.99,443.26 448.12,443.22 449.26,442.87 450.39,443.99 451.52,443.71 452.66,443.21 453.79,444.02 454.92,444.02 456.06,443.57 457.19,443.46 458.32,443.99 459.45,443.68 460.59,443.84 461.72,443.48 462.85,443.96 463.99,443.71 465.12,444.29 466.25,444.13 467.39,444.14 468.52,443.83 469.65,444.03 470.79,444.45 471.92,444.08 473.05,444.1 474.18,444.39 475.32,444.47 476.45,444.49 477.58,444.96 478.72,444.46 479.85,444.49 480.98,444.84 482.12,444.43 483.25,445.07 484.38,444.88 485.52,444.89 486.65,444.23 487.78,445.29 488.92,444.72 490.05,444.65 491.18,444.85 492.31,444.66 493.45,445.32 494.58,445.73 495.71,444.9 496.85,445.5 497.98,445.29 499.11,445.58 500.25,444.98 501.38,445.07 502.51,445.56 503.65,445.14 504.78,445.4 505.91,445.52 507.05,445.5 508.18,445.62 509.31,445.42 510.44,445.55 511.58,445.78 512.71,445.43 513.84,445.93 514.98,445.72 516.11,445.72 517.24,445.46 518.38,446.06 519.51,445.46 520.64,445.95 521.78,446.1 522.91,446.27 524.04,445.95 525.18,446.15 526.31,446.52 527.44,446.56 528.58,446.44 529.71,446.51 530.84,446.05 531.97,446.01 533.11,446.19 534.24,446.38 535.37,446.64 536.51,446.55 537.64,446.35 538.77,446.03 539.91,446.42 541.04,446.8 542.17,446.75 543.31,446.94 544.44,447.07 545.57,446.93 546.71,446.87 547.84,446.44 548.97,446.99 550.1,446.65 551.24,446.58 552.37,447.1 553.5,446.7 554.64,447 555.77,447.36 556.9,447.21 558.04,447.32 559.17,447.43 560.3,447.46 561.44,447.4 562.57,447.36 563.7,447.78 564.83,447.57 565.97,448.04 567.1,447.57 568.23,447.51 569.37,447.68 570.5,447.68 571.63,447.64 572.77,448.03 573.9,447.95 575.03,447.78 576.17,447.68 577.3,447.89 578.43,447.31 579.57,448.11 580.7,447.84 581.83,447.8 582.96,448.24 584.1,448.48 585.23,448.62 586.36,448.28 587.5,448.05 588.63,448.33 589.76,448.4 590.9,448.59 592.03,448.36 593.16,449.18 594.3,448.54 595.43,448.64 596.56,449.08 597.7,448.1 598.83,449.16 599.96,449.11 601.09,449.17 602.23,448.54 603.36,449.14 604.49,448.72 605.63,448.77 606.76,448.89 607.89,449.36 609.03,449.19 610.16,448.56 611.29,449.44 612.43,449.33 613.56,449.17 614.69,448.91 615.83,449.1 616.96,448.99 618.09,449.53 619.23,448.98 620.36,449.11 621.49,449.76 622.62,448.89 623.76,448.7 624.89,449.6 626.02,449.39 627.16,449.03 628.29,449.88 629.42,450.05 630.56,449.88 631.69,449.7 632.82,449.73 633.96,449.42 635.09,449.54 636.22,450 637.36,449.51 638.49,449.16 639.62,449.38 640.75,449.47 641.89,449.77 643.02,449.52 644.15,450.1 645.29,449.64 646.42,449.9 647.55,449.58 648.69,449.8 649.82,450.27 650.95,449.95 652.09,449.66 653.22,450.36 654.35,450.22 655.48,450.31 656.62,450.54 657.75,449.87 658.88,449.79 660.02,449.97 661.15,450.15 662.28,450.26 663.42,450.21 664.55,450.51 665.68,450.07 666.82,450.05 667.95,450.11 669.08,450.56 670.22,450.41 671.35,450.5 672.48,449.97 673.61,450.46 674.75,451.07 675.88,450.45 677.01,450.05" fill="none" stroke="#1a9cff" stroke-width="1.6" stroke-linejoin="round"/>
<polyline points="30,419.39 31.13,419.5 32.27,419.77 33.4,420.23 34.53,420.35 35.67,420.4 36.8,420.36 37.93,420.43 39.06,420.51 40.2,420.81 41.33,420.75 42.46,421.08 43.6,421.29 44.73,421.18 45.86,421.61 47,422.03 48.13,421.91 49.26,421.87 50.4,422.51 51.53,422.22 52.66,422.35 53.8,422.67 54.93,422.82 56.06,422.79 57.19,422.95 58.33,422.8 59.46,423.08 60.59,423.53 61.73,423.56 62.86,423.4 63.99,423.24 65.13,423.51 66.26,423.55 67.39,423.33 68.53,423.66 69.66,423.74 70.79,423.94 71.93,423.83 73.06,423.43 74.19,424.03 75.33,423.83 76.46,424.09 77.59,423.87 78.72,423.78 79.86,423.99 80.99,423.86 82.12,423.89 83.26,423.97 84.39,423.79 85.52,423.97 86.66,424.17 87.79,424.26 88.92,424.32 90.06,424.14 91.19,424.29 92.32,423.84 93.45,424.01 94.59,424.36 95.72,424.41 96.85,424.12 97.99,424.72 99.12,424.52 100.25,424.32 101.39,424.65 102.52,424.61 103.65,424.62 104.79,424.49 105.92,424.6 107.05,424.59 108.19,424.58 109.32,424.7 110.45,424.56 111.58,424.88 112.72,425.02 113.85,425.11 114.98,425.11 116.12,424.97 117.25,424.75 118.38,424.91 119.52,425.07 120.65,425.17 121.78,425.11 122.92,425.12 124.05,425.18 125.18,425.34 126.32,425.22 127.45,425.01 128.58,425.55 129.71,425.27 130.85,425.6 131.98,425.26 133.11,425.44 134.25,425.68 135.38,425.36 136.51,425.12 137.65,425.42 138.78,425.28 139.91,425.51 141.05,425.87 142.18,425.48 143.31,425.65 144.45,425.84 145.58,425.52 146.71,425.63 147.84,425.78 148.98,425.59 150.11,425.9 151.24,425.69 152.38,425.97 153.51,425.76 154.64,426.05 155.78,425.67 156.91,425.89 158.04,425.74 159.18,426.12 160.31,426.1 161.44,425.92 162.58,426.51 163.71,426.28 164.84,425.97 165.97,426.09 167.11,426.04 168.24,426.27 169.37,426.16 170.51,426.4 171.64,426.53 172.77,426.61 173.91,426.46 175.04,426.49 176.17,426.53 177.31,427.02 178.44,426.8 179.57,426.6 180.71,426.5 181.84,426.67 182.97,426.74 184.1,427 185.24,426.34 186.37,426.87 187.5,426.45 188.64,426.5 189.77,426.74 190.9,426.9 192.04,426.82 193.17,427.05 194.3,426.85 195.44,426.92 196.57,426.87 197.7,426.83 198.84,426.74 199.97,427.11 201.1,426.91 202.24,427.24 203.37,427.29 204.5,427.27 205.63,427.37 206.77,427.09 207.9,427.13 209.03,427.1 210.17,427.34 211.3,427.33 212.43,427.5 213.57,427.62 214.7,427.4 215.83,427.46 216.97,427.71 218.1,427.47 219.23,427.88 220.37,427.66 221.5,427.76 222.63,427.78 223.76,427.9 224.9,427.61 226.03,427.71 227.16,427.64 228.3,427.84 229.43,428.1 230.56,427.99 231.7,428.15 232.83,427.92 233.96,427.83 235.1,428.01 236.23,428.19 237.36,428.18 238.49,428.12 239.63,428.42 240.76,428.2 241.89,428.22 243.03,428.37 244.16,428.38 245.29,428.32 246.43,428.51 247.56,428.55 248.69,428.33 249.83,428.45 250.96,428.25 252.09,428.7 253.23,428.86 254.36,428.46 255.49,428.49 256.62,428.79 257.76,428.94 258.89,428.75 260.02,429.05 261.16,428.86 262.29,429.19 263.42,428.91 264.56,429.24 265.69,428.98 266.82,428.73 267.96,429.05 269.09,428.91 270.22,429.17 271.36,429.24 272.49,429.37 273.62,429 274.75,429.21 275.89,428.98 277.02,429.45 278.15,429.33 279.29,429.32 280.42,429.14 281.55,429.11 282.69,429.53 283.82,429.64 284.95,429.77 286.09,429.32 287.22,429.57 288.35,429.7 289.49,429.63 290.62,430.06 291.75,429.96 292.88,429.57 294.02,429.69 295.15,429.76 296.28,429.98 297.42,429.76 298.55,429.6 299.68,430.11 300.82,429.95 301.95,430.05 303.08,429.96 304.22,430.05 305.35,430.1 306.48,430.25 307.62,430.15 308.75,430.28 309.88,430.23 311.01,430.25 312.15,430.17 313.28,430.4 314.41,430.39 315.55,430.2 316.68,430.44 317.81,430.48 318.95,430.33 320.08,430.46 321.21,430.52 322.35,430.53 323.48,430.8 324.61,430.56 325.75,430.46 326.88,430.61 328.01,430.98 329.14,430.72 330.28,430.94 331.41,430.86 332.54,430.84 333.68,431.08 334.81,430.71 335.94,430.97 337.08,430.87 338.21,430.92 339.34,430.84 340.48,430.9 341.61,431.35 342.74,431.15 343.88,431.52 345.01,431.29 346.14,431.14 347.27,431.14 348.41,431.11 349.54,431.41 350.67,431.33 351.81,431.4 352.94,431.24 354.07,431.23 355.21,431.57 356.34,430.94 357.47,431.58 358.61,431.67 359.74,431.54 360.87,431.55 362.01,431.62 363.14,431.84 364.27,431.54 365.4,431.79 366.54,431.59 367.67,431.65 368.8,432.1" fill="none" stroke="#ff00ff" stroke-width="1.6" stroke-linejoin="round"/>
<polyline points="30,419.13 31.13,419.25 32.27,419.22 33.4,419.36 34.53,419.46 35.67,419.72 36.8,419.68 37.93,419.68 39.06,420.15 40.2,420.13 41.33,420.2 42.46,420.37 43.6,420.5 44.73,420.37 45.86,420.55 47,420.73 48.13,421.06 49.26,420.8 50.4,421.16 51.53,421.4 52.66,421.49 53.8,421.64 54.93,421.43 56.06,421.79 57.19,421.93 58.33,422.34 59.46,422.09 60.59,422.44 61.73,422.58 62.86,422.44 63.99,422.65 65.13,422.47 66.26,422.46 67.39,422.86 68.53,422.68 69.66,422.89 70.79,422.73 71.93,422.63 73.06,422.95 74.19,422.58 75.33,422.87 76.46,423.01 77.59,422.91 78.72,422.82 79.86,423.13 80.99,422.98 82.12,423.18 83.26,422.89 84.39,423.05 85.52,423.15 86.66,423 87.79,423.32 88.92,423.24 90.06,422.98 91.19,423.26 92.32,423.1 93.45,423.28 94.59,423.42 95.72,423.39 96.85,423.38 97.99,423.47 99.12,423.55 100.25,423.58 101.39,423.7 102.52,423.52 103.65,423.52 104.79,423.5 105.92,423.85 107.05,423.55 108.19,423.68 109.32,423.89 110.45,423.73 111.58,423.67 112.72,423.73 113.85,423.74 114.98,423.74 116.12,423.77 117.25,423.92 118.38,424.21 119.52,424.07 120.65,423.96 121.78,424.09 122.92,423.97 124.05,423.99 125.18,424.11 126.32,423.91 127.45,424.3 128.58,424.09 129.71,424.3 130.85,424.36 131.98,424.22 133.11,424.4 134.25,424.24 135.38,424.53 136.51,424.41 137.65,424.55 138.78,424.5 139.91,424.55 141.05,424.67 142.18,424.47 143.31,424.74 144.45,424.74 145.58,424.53 146.71,424.55 147.84,424.62 148.98,424.69 150.11,424.47 151.24,424.94 152.38,424.91 153.51,424.97 154.64,424.76 155.78,424.87 156.91,424.79 158.04,424.84 159.18,425.02 160.31,425.13 161.44,425.18 162.58,424.8 163.71,424.99 164.84,425.06 165.97,425.21 167.11,425.22 168.24,425.27 169.37,425.3 170.51,425.59 171.64,425.32 172.77,425.39 173.91,425.34 175.04,425.38 176.17,425.32 177.31,425.46 178.44,425.39 179.57,425.84 180.71,425.69 181.84,425.36 182.97,425.76 184.1,425.67 185.24,425.57 186.37,425.81 187.5,425.63 188.64,425.93 189.77,426.02 190.9,425.98 192.04,426.05 193.17,425.87 194.3,425.94 195.44,425.89 196.57,426.09 197.7,425.66 198.84,426.02 199.97,426.02 201.1,425.97 202.24,426.07 203.37,426.13 204.5,426.05 205.63,425.95 206.77,425.99 207.9,425.97 209.03,426.17 210.17,426.21 211.3,425.86 212.43,426.16 213.57,426.08 214.7,426.05 215.83,425.98 216.97,426.34 218.1,426.24 219.23,426.24 220.37,426.24 221.5,426.52 222.63,426.23 223.76,426.6 224.9,426.2 226.03,426.18 227.16,426.18 228.3,426.42 229.43,426.16 230.56,426.4 231.7,426.46 232.83,426.43 233.96,426.43 235.1,426.31 236.23,426.24 237.36,426.62 238.49,426.43 239.63,426.26 240.76,426.36 241.89,426.33 243.03,426.59 244.16,426.29 245.29,426.62 246.43,426.41 247.56,426.27 248.69,426.21 249.83,426.4 250.96,426.36 252.09,426.56 253.23,426.55 254.36,426.35 255.49,426.51 256.62,426.54 257.76,426.71 258.89,426.52 260.02,426.47 261.16,426.66 262.29,426.64 263.42,426.38 264.56,426.57 265.69,426.64 266.82,426.76 267.96,426.7 269.09,426.67 270.22,426.47 271.36,426.73 272.49,426.44 273.62,426.79 274.75,426.73 275.89,426.59 277.02,426.74 278.15,426.82 279.29,426.74 280.42,426.68 281.55,426.96 282.69,426.79 283.82,426.78 284.95,426.83 286.09,426.69 287.22,426.87 288.35,426.85 289.49,426.81 290.62,426.73 291.75,426.87 292.88,426.66 294.02,426.97 295.15,426.7 296.28,426.99 297.42,426.91 298.55,426.85 299.68,426.65 300.82,426.81 301.95,426.98 303.08,426.77 304.22,426.98 305.35,427.06 306.48,426.91 307.62,426.97 308.75,426.87 309.88,427.07 311.01,426.96 312.15,426.94 313.28,427 314.41,427.04 315.55,427.14 316.68,426.95 317.81,427.05 318.95,427.02 320.08,427.14 321.21,427.1 322.35,427.24 323.48,427.11 324.61,427.04 325.75,427.13 326.88,427.04 328.01,427.12 329.14,427 330.28,427.21 331.41,427.4 332.54,427.15 333.68,427.23 334.81,427.35 335.94,427.15 337.08,427.21 338.21,427.2 339.34,427.31 340.48,427.25 341.61,427.25 342.74,427.07 343.88,427.39 345.01,427.32 346.14,427.28 347.27,427.55 348.41,427.55 349.54,427.08 350.67,427.59 351.81,427.3 352.94,427.49 354.07,427.49 355.21,427.66 356.34,427.53 357.47,427.33 358.61,427.61 359.74,427.37 360.87,427.42 362.01,427.21 363.14,427.54 364.27,427.33 365.4,427.39 366.54,427.54 367.67,427.73 368.8,427.34 369.94,427.71 371.07,427.61 372.2,427.45 373.34,427.43 374.47,427.69 375.6,427.59 376.74,427.63 377.87,427.46 379,427.3 380.14,427.86 381.27,427.52 382.4,428.01 383.53,427.66 384.67,427.81 385.8,427.43 386.93,427.67 388.07,427.79 389.2,427.77 390.33,427.79 391.47,427.71 392.6,427.76 393.73,427.67 394.87,427.57 396,427.68 397.13,427.94 398.27,428 399.4,427.9 400.53,427.7 401.67,427.9 402.8,427.97 403.93,427.89 405.06,428.11 406.2,428.1 407.33,427.92 408.46,428.04 409.6,428.09 410.73,428.02 411.86,428.15 413,428.19 414.13,428.19 415.26,428.08 416.4,428.17 417.53,428.36 418.66,428.27 419.8,428.17 420.93,428.04 422.06,428.45 423.19,428.29 424.33,428.39 425.46,428.27 426.59,428.35 427.73,428.24 428.86,428.39 429.99,428.55 431.13,428.57 432.26,428.48 433.39,428.5 434.53,428.27 435.66,428.39 436.79,428.78 437.92,428.61 439.06,428.85 440.19,428.91 441.32,428.63 442.46,428.68 443.59,428.91 444.72,428.59 445.86,428.95 446.99,429 448.12,428.79 449.26,428.87 450.39,428.95 451.52,428.96 452.66,428.95 453.79,429.02 454.92,429.05 456.06,429.29 457.19,429.24 458.32,429.02 459.45,429.21 460.59,429.08 461.72,429.02 462.85,429.24 463.99,429.19 465.12,428.98 466.25,429.18 467.39,429.06 468.52,429.13 469.65,429.25 470.79,429.39 471.92,429.5 473.05,429.56 474.18,429.38 475.32,429.41 476.45,429.52 477.58,429.41 478.72,429.62 479.85,429.43 480.98,429.59 482.12,429.62 483.25,429.65 484.38,429.68 485.52,429.38 486.65,429.92 487.78,429.72 488.92,429.61 490.05,429.7 491.18,429.86 492.31,429.62 493.45,430 494.58,430.06 495.71,429.85 496.85,430.13 497.98,430.27 499.11,429.88 500.25,429.92 501.38,429.95 502.51,430.13 503.65,430.07 504.78,430.24 505.91,429.92 507.05,430.07 508.18,430.1 509.31,430.46 510.44,430.14 511.58,430.08 512.71,430.14 513.84,430.22 514.98,430.34 516.11,430.41 517.24,430.31 518.38,430.37 519.51,430.41 520.64,430.5 521.78,430.28 522.91,430.66 524.04,430.54 525.18,430.64 526.31,430.46 527.44,430.43 528.58,430.48 529.71,430.57 530.84,430.87 531.97,430.45 533.11,430.67 534.24,430.78 535.37,430.79 536.51,430.86 537.64,430.78 538.77,430.82 539.91,430.93 541.04,431.24 542.17,430.94 543.31,430.9 544.44,430.92 545.57,431.03 546.71,430.98 547.84,430.93 548.97,431.15 550.1,430.92 551.24,431.38 552.37,431.32 553.5,431.3 554.64,431.52 555.77,431.36 556.9,431.1 558.04,431.13 559.17,431.3 560.3,431.12 561.44,431.33 562.57,431.45 563.7,431.38 564.83,431.45 565.97,431.36 567.1,431.67 568.23,431.38 569.37,431.59 570.5,431.45 571.63,431.78 572.77,431.66 573.9,431.62 575.03,431.54 576.17,431.84 577.3,431.5 578.43,431.67 579.57,431.82 580.7,431.63 581.83,431.79 582.96,431.68 584.1,431.56 585.23,431.78 586.36,431.97 587.5,431.98 588.63,431.88 589.76,431.94 590.9,432.11 592.03,432.11 593.16,431.97 594.3,431.78 595.43,432.44 596.56,432.04 597.7,432.18 598.83,432.08 599.96,432.09 601.09,432.21 602.23,432.35 603.36,432.41 604.49,432.49 605.63,432.1 606.76,432.3 607.89,432.35 609.03,432.33 610.16,432.48 611.29,432.28 612.43,432.16 613.56,432.2 614.69,432.55 615.83,432.19 616.96,432.47 618.09,432.63 619.23,432.56 620.36,432.53 621.49,432.42 622.62,432.57 623.76,432.64 624.89,432.49 626.02,432.23 627.16,432.57 628.29,432.43 629.42,432.49 630.56,432.18 631.69,432.77 632.82,432.4 633.96,432.71 635.09,432.64 636.22,432.59 637.36,432.18 638.49,432.7 639.62,432.85 640.75,432.46 641.89,432.74 643.02,432.68 644.15,432.66 645.29,432.66 646.42,432.7 647.55,432.66 648.69,432.65 649.82,432.61 650.95,432.78 652.09,432.83 653.22,432.89 654.35,432.69 655.48,432.78 656.62,432.71 657.75,432.73 658.88,432.59 660.02,432.79 661.15,432.74 662.28,433 663.42,432.99 664.55,432.91 665.68,433.03 666.82,432.8 667.95,433.07 669.08,432.9 670.22,433.24 671.35,433.08 672.48,432.99 673.61,432.99 674.75,433.2 675.88,432.97 677.01,432.87" fill="none" stroke="#3cb04c" stroke-width="1.6" stroke-linejoin="round"/>
<polyline points="30,418.52 31.13,418.79 32.27,418.88 33.4,419.06 34.53,418.93 35.67,418.92 36.8,419.28 37.93,419.53 39.06,419.39 40.2,419.42 41.33,419.96 42.46,419.7 43.6,419.54 44.73,419.82 45.86,419.95 47,420.07 48.13,420.09 49.26,420.45 50.4,420.53 51.53,420.48 52.66,420.72 53.8,420.7 54.93,421.08 56.06,420.84 57.19,420.93 58.33,421.13 59.46,421.22 60.59,421.13 61.73,421.58 62.86,421.62 63.99,421.67 65.13,421.6 66.26,421.7 67.39,421.59 68.53,421.7 69.66,421.82 70.79,421.85 71.93,421.52 73.06,421.71 74.19,421.75 75.33,421.73 76.46,421.77 77.59,421.68 78.72,421.73 79.86,421.9 80.99,421.95 82.12,422 83.26,422.04 84.39,421.73 85.52,422.04 86.66,422.2 87.79,422.07 88.92,422.09 90.06,421.97 91.19,422.14 92.32,421.98 93.45,422.02 94.59,421.93 95.72,421.84 96.85,421.77 97.99,421.98 99.12,422.32 100.25,422.25 101.39,422.19 102.52,421.98 103.65,422.17 104.79,422.13 105.92,422.32 107.05,422.25 108.19,422.25 109.32,422.42 110.45,422.29 111.58,422.27 112.72,422.45 113.85,422.32 114.98,422.26 116.12,422.48 117.25,422.51 118.38,422.57 119.52,422.63 120.65,422.55 121.78,422.64 122.92,422.65 124.05,422.73 125.18,422.85 126.32,422.79 127.45,422.65 128.58,422.87 129.71,422.82 130.85,422.55 131.98,422.64 133.11,422.89 134.25,422.74 135.38,422.92 136.51,422.66 137.65,422.96 138.78,422.89 139.91,422.75 141.05,423.05 142.18,422.8 143.31,423.09 144.45,422.98 145.58,423.07 146.71,423.06 147.84,423.05 148.98,423.1 150.11,423.24 151.24,423.02 152.38,423.06 153.51,423.01 154.64,423.02 155.78,423.39 156.91,423.07 158.04,423.09 159.18,423.35 160.31,423.17 161.44,423.13 162.58,423.41 163.71,423.54 164.84,423.43 165.97,423.05 167.11,423.4 168.24,423.6 169.37,423.5 170.51,423.61 171.64,423.56 172.77,423.52 173.91,423.88 175.04,423.53 176.17,423.41 177.31,423.64 178.44,423.68 179.57,423.52 180.71,423.84 181.84,423.85 182.97,423.89 184.1,423.76 185.24,423.71 186.37,423.79 187.5,423.73 188.64,423.72 189.77,423.78 190.9,423.97 192.04,423.92 193.17,423.75 194.3,424.06 195.44,423.98 196.57,424.02 197.7,424.01 198.84,424.14 199.97,424.19 201.1,423.71 202.24,423.93 203.37,424.15 204.5,424.08 205.63,424 206.77,424.15 207.9,424.04 209.03,424.21 210.17,424.19 211.3,424.17 212.43,424.23 213.57,424.5 214.7,424.2 215.83,424.18 216.97,424.17 218.1,424.37 219.23,424.22 220.37,424.25 221.5,424.51 222.63,424.58 223.76,424.26 224.9,424.45 226.03,424.22 227.16,424.09 228.3,424.45 229.43,424.47 230.56,424.4 231.7,424.33 232.83,424.57 233.96,424.29 235.1,424.33 236.23,424.39 237.36,424.55 238.49,424.38 239.63,424.41 240.76,424.68 241.89,424.28 243.03,424.59 244.16,424.52 245.29,424.65 246.43,424.55 247.56,424.47 248.69,424.73 249.83,424.85 250.96,424.71 252.09,424.84 253.23,424.78 254.36,424.71 255.49,424.72 256.62,424.56 257.76,424.87 258.89,424.71 260.02,424.83 261.16,424.61 262.29,424.48 263.42,424.77 264.56,424.61 265.69,424.91 266.82,425.06 267.96,425.03 269.09,425.08 270.22,425.02 271.36,424.94 272.49,424.78 273.62,424.85 274.75,424.89 275.89,425.02 277.02,425.07 278.15,424.99 279.29,424.99 280.42,424.99 281.55,424.99 282.69,425.07 283.82,425.31 284.95,425.22 286.09,425.2 287.22,424.89 288.35,425.18 289.49,425.05 290.62,424.96 291.75,425.12 292.88,425.23 294.02,425.23 295.15,425.34 296.28,425.18 297.42,425.09 298.55,425.18 299.68,425.16 300.82,425.19 301.95,425.04 303.08,425.38 304.22,425.3 305.35,425.24 306.48,425.19 307.62,425.67 308.75,425.44 309.88,425.42 311.01,425.53 312.15,425.31 313.28,425.4 314.41,425.5 315.55,425.67 316.68,425.64 317.81,425.61 318.95,425.44 320.08,425.67 321.21,425.79 322.35,425.73 323.48,425.63 324.61,425.36 325.75,425.27 326.88,425.66 328.01,425.5 329.14,425.45 330.28,425.48 331.41,425.67 332.54,425.84 333.68,425.75 334.81,425.94 335.94,425.68 337.08,425.63 338.21,425.98 339.34,425.76 340.48,425.73 341.61,425.63 342.74,425.62 343.88,425.71 345.01,425.91 346.14,425.89 347.27,425.7 348.41,425.95 349.54,425.89 350.67,425.7 351.81,425.9 352.94,426.1 354.07,425.98 355.21,425.87 356.34,425.99 357.47,425.83 358.61,425.83 359.74,426.09 360.87,426.09 362.01,426.05 363.14,426.21 364.27,426.02 365.4,426.1 366.54,426 367.67,426.19 368.8,426.23 369.94,425.9 371.07,426.26 372.2,426.24 373.34,426.27 374.47,426.23 375.6,426.32 376.74,426.23 377.87,426.33 379,426.3 380.14,426.22 381.27,426.19 382.4,426.23 383.53,426.4 384.67,426.27 385.8,426.35 386.93,426.36 388.07,426.58 389.2,426.29 390.33,426.41 391.47,426.19 392.6,426.34 393.73,426.58 394.87,426.62 396,426.32 397.13,426.59 398.27,426.4 399.4,426.55 400.53,426.27 401.67,426.55 402.8,426.39 403.93,426.44 405.06,426.69 406.2,426.7 407.33,426.5 408.46,426.71 409.6,426.84 410.73,426.61 411.86,426.46 413,426.81 414.13,426.66 415.26,426.88 416.4,426.71 417.53,426.94 418.66,426.76 419.8,426.89 420.93,427.01 422.06,426.98 423.19,427.1 424.33,427.2 425.46,427.22 426.59,427.12 427.73,427.27 428.86,427.1 429.99,427.12 431.13,427.15 432.26,427.3 433.39,427.25 434.53,427.29 435.66,427.14 436.79,427.44 437.92,427.41 439.06,427.41 440.19,427.43 441.32,427.53 442.46,427.54 443.59,427.36 444.72,427.59 445.86,427.42 446.99,427.3 448.12,427.42 449.26,427.84 450.39,427.54 451.52,427.6 452.66,427.62 453.79,427.92 454.92,427.64 456.06,427.9 457.19,427.62 458.32,427.68 459.45,427.52 460.59,427.91 461.72,428.08 462.85,427.78 463.99,427.83 465.12,428.02 466.25,427.82 467.39,427.93 468.52,428.21 469.65,428.11 470.79,428.15 471.92,428.13 473.05,428.12 474.18,428.26 475.32,428.22 476.45,428.14 477.58,428.25 478.72,428.3 479.85,428.33 480.98,428.33 482.12,428.59 483.25,428.35 484.38,428.53 485.52,428.41 486.65,428.63 487.78,428.36 488.92,428.47 490.05,428.7 491.18,428.52 492.31,428.67 493.45,428.37 494.58,428.56 495.71,428.75 496.85,428.65 497.98,428.7 499.11,428.57 500.25,428.71 501.38,428.71 502.51,428.94 503.65,428.73 504.78,428.59 505.91,428.8 507.05,428.91 508.18,428.91 509.31,429.07 510.44,428.95 511.58,429.14 512.71,429.02 513.84,429.1 514.98,429.18 516.11,429.03 517.24,429.32 518.38,429.16 519.51,429.35 520.64,428.97 521.78,428.98 522.91,429.15 524.04,429.04 525.18,429.23 526.31,429.26 527.44,429.41 528.58,429.5 529.71,429.39 530.84,429.5 531.97,429.51 533.11,429.39 534.24,429.53 535.37,429.73 536.51,429.59 537.64,429.68 538.77,429.65 539.91,429.78 541.04,429.51 542.17,429.45 543.31,429.85 544.44,429.66 545.57,429.69 546.71,429.92 547.84,429.8 548.97,429.66 550.1,429.76 551.24,429.68 552.37,430.06 553.5,430.04 554.64,429.93 555.77,429.95 556.9,430.01 558.04,430.09 559.17,430.12 560.3,430.17" fill="none" stroke="#ff0000" stroke-width="1.6" stroke-linejoin="round"/>
<line x1="284.79" y1="425.08" x2="284.79" y2="433.6" stroke="#ff0000" stroke-width="1.0"/>
<polyline points="30,418.95 31.13,419.38 32.27,419.09 33.4,419.41 34.53,419.62 35.67,419.56 36.8,419.86 37.93,419.82 39.06,420.01 40.2,420.04 41.33,420.15 42.46,420.22 43.6,420.51 44.73,420.62 45.86,420.71 47,420.97 48.13,420.9 49.26,421.07 50.4,421.33 51.53,421.21 52.66,421.32 53.8,421.69 54.93,421.64 56.06,421.69 57.19,421.86 58.33,422.15 59.46,422.31 60.59,422.32 61.73,422.47 62.86,422.51 63.99,422.55 65.13,422.52 66.26,422.65 67.39,422.64 68.53,422.37 69.66,422.7 70.79,422.64 71.93,422.72 73.06,422.75 74.19,422.89 75.33,422.78 76.46,422.86 77.59,422.81 78.72,422.72 79.86,422.93 80.99,422.9 82.12,423.1 83.26,423.02 84.39,422.92 85.52,423.1 86.66,423.18 87.79,423.13 88.92,423.2 90.06,423.23 91.19,423.28 92.32,423.08 93.45,423.38 94.59,423.37 95.72,423.41 96.85,423.27 97.99,423.44 99.12,423.32 100.25,423.46 101.39,423.5 102.52,423.67 103.65,423.45 104.79,423.54 105.92,423.58 107.05,423.66 108.19,423.72 109.32,423.83 110.45,423.65 111.58,423.74 112.72,423.83 113.85,423.88 114.98,423.84 116.12,423.89 117.25,423.75 118.38,423.87 119.52,424.03 120.65,424.1 121.78,424.05 122.92,424.14 124.05,424.08 125.18,424.08 126.32,424.08 127.45,424.13 128.58,424.22 129.71,424.17 130.85,424.34 131.98,424.3 133.11,424.24 134.25,424.32 135.38,424.5 136.51,424.52 137.65,424.59 138.78,424.29 139.91,424.64 141.05,424.54 142.18,424.38 143.31,424.48 144.45,424.48 145.58,424.69 146.71,424.6 147.84,424.41 148.98,424.73 150.11,424.72 151.24,424.81 152.38,424.81 153.51,424.81 154.64,424.74 155.78,424.99 156.91,425.07 158.04,424.96 159.18,424.97 160.31,424.88 161.44,424.98 162.58,425.14 163.71,425.05 164.84,425.03 165.97,425.14 167.11,425.22 168.24,425.16 169.37,425.28 170.51,425.46 171.64,425.18 172.77,425.46 173.91,425.4 175.04,425.43 176.17,425.46 177.31,425.48 178.44,425.62 179.57,425.46 180.71,425.54 181.84,425.57 182.97,425.5 184.1,425.53 185.24,425.53 186.37,425.51 187.5,425.67 188.64,425.89 189.77,425.76 190.9,425.8 192.04,425.83 193.17,425.92 194.3,425.98 195.44,425.85 196.57,425.86 197.7,426.09 198.84,425.95 199.97,426.04 201.1,426.08 202.24,425.99 203.37,426.08 204.5,426.14 205.63,426.1 206.77,426.31 207.9,426.2 209.03,426.2 210.17,426.31 211.3,426.17 212.43,426.18 213.57,426.28 214.7,426.26 215.83,426.2 216.97,426.18 218.1,426.37 219.23,426.28 220.37,426.23 221.5,426.35 222.63,426.44 223.76,426.45 224.9,426.43 226.03,426.51 227.16,426.24 228.3,426.5 229.43,426.43 230.56,426.46 231.7,426.44 232.83,426.55 233.96,426.66 235.1,426.39 236.23,426.57 237.36,426.57 238.49,426.58 239.63,426.5 240.76,426.56 241.89,426.54 243.03,426.59 244.16,426.67 245.29,426.68 246.43,426.79 247.56,426.92 248.69,426.78 249.83,426.87 250.96,426.54 252.09,426.65 253.23,426.71 254.36,426.89 255.49,426.66 256.62,427.03 257.76,427 258.89,426.98 260.02,427.01 261.16,426.93 262.29,426.94 263.42,426.79 264.56,426.89 265.69,426.89 266.82,426.98 267.96,427.05 269.09,427.12 270.22,427.22 271.36,427.17 272.49,427.14 273.62,427.05 274.75,427.3 275.89,427.29 277.02,427.15 278.15,427.29 279.29,427.18 280.42,427.27 281.55,427.32 282.69,427.39 283.82,427.29 284.95,427.36 286.09,427.37 287.22,427.39 288.35,427.33 289.49,427.35 290.62,427.54 291.75,427.41 292.88,427.37 294.02,427.33 295.15,427.37 296.28,427.44 297.42,427.59 298.55,427.57 299.68,427.43 300.82,427.6 301.95,427.45 303.08,427.44 304.22,427.68 305.35,427.56 306.48,427.63 307.62,427.44 308.75,427.57 309.88,427.72 311.01,427.65 312.15,427.79 313.28,427.73 314.41,427.72 315.55,427.74 316.68,427.74 317.81,427.87 318.95,427.98 320.08,427.85 321.21,427.92 322.35,427.92 323.48,427.67 324.61,427.78 325.75,427.92 326.88,428.06 328.01,428.06 329.14,427.92 330.28,427.87 331.41,428.02 332.54,427.99 333.68,428 334.81,427.94 335.94,428.24 337.08,428.06 338.21,428.05 339.34,428.02 340.48,428.09 341.61,428.25 342.74,428.21 343.88,428.32 345.01,428.17 346.14,428.19 347.27,428.18 348.41,428.34 349.54,428.37 350.67,428.13 351.81,428.28 352.94,428.14 354.07,428.29 355.21,428.48 356.34,428.28 357.47,428.26 358.61,428.44 359.74,428.6 360.87,428.37 362.01,428.46 363.14,428.44 364.27,428.74 365.4,428.45 366.54,428.78 367.67,428.61 368.8,428.46 369.94,428.74 371.07,428.76 372.2,428.64 373.34,428.46 374.47,428.48 375.6,428.71 376.74,428.57 377.87,428.63 379,428.68 380.14,428.68 381.27,428.8 382.4,428.67 383.53,428.67 384.67,428.53 385.8,428.71 386.93,429.05 388.07,428.95 389.2,428.82 390.33,428.86 391.47,429.06 392.6,428.92 393.73,428.95 394.87,428.94 396,428.97 397.13,428.88 398.27,428.85 399.4,428.94 400.53,429.14 401.67,429.13 402.8,429.14 403.93,429.1 405.06,429.16 406.2,429.18 407.33,429.25 408.46,429.1 409.6,429.13 410.73,429.14 411.86,429.26 413,429.23 414.13,429.39 415.26,429.42 416.4,429.4 417.53,429.31 418.66,429.4 419.8,429.52 420.93,429.43 422.06,429.42 423.19,429.47 424.33,429.57 425.46,429.52 426.59,429.59 427.73,429.6 428.86,429.6 429.99,429.54 431.13,429.47 432.26,429.51 433.39,429.62 434.53,429.74 435.66,429.76 436.79,429.78 437.92,429.66 439.06,430.06 440.19,429.79 441.32,430.03 442.46,429.86 443.59,429.76 444.72,430 445.86,430.15 446.99,429.83 448.12,429.83 449.26,429.95 450.39,429.9 451.52,430.12 452.66,429.96 453.79,429.93 454.92,430.05 456.06,430.11 457.19,430.04 458.32,430.07 459.45,430.27 460.59,430.1 461.72,430.18 462.85,430.26 463.99,430.17 465.12,430.23 466.25,430.27 467.39,430.41 468.52,430.3 469.65,430.51 470.79,430.44 471.92,430.61 473.05,430.64 474.18,430.45 475.32,430.53 476.45,430.53 477.58,430.51 478.72,430.55 479.85,430.69 480.98,430.63 482.12,430.66 483.25,430.73 484.38,430.71 485.52,430.76 486.65,430.81 487.78,430.8 488.92,430.77 490.05,430.62 491.18,430.91 492.31,430.81 493.45,431.02 494.58,430.75 495.71,430.96 496.85,430.94 497.98,430.85 499.11,430.9 500.25,431.16 501.38,430.99 502.51,431.08 503.65,431.02 504.78,431.09 505.91,431.06 507.05,431.12 508.18,431.19 509.31,431.08 510.44,431.37 511.58,431.28 512.71,431.36 513.84,431.3 514.98,431.35 516.11,431.35 517.24,431.4 518.38,431.42 519.51,431.56 520.64,431.43 521.78,431.42 522.91,431.52 524.04,431.55 525.18,431.57 526.31,431.38 527.44,431.54 528.58,431.54 529.71,431.63 530.84,431.67 531.97,431.73 533.11,431.52 534.24,431.86 535.37,431.69 536.51,431.74 537.64,431.79 538.77,431.93 539.91,431.92 541.04,431.74 542.17,431.92 543.31,431.79 544.44,431.83 545.57,431.86 546.71,431.87 547.84,432.08 548.97,432.03 550.1,431.95 551.24,432.15 552.37,431.9 553.5,432.13 554.64,432.11 555.77,432.22 556.9,432.11 558.04,432.24 559.17,432.21 560.3,432.32 561.44,432.12 562.57,432.41 563.7,432.24 564.83,432.28 565.97,432.28 567.1,432.45 568.23,432.27 569.37,432.3 570.5,432.4 571.63,432.41 572.77,432.48 573.9,432.42 575.03,432.58 576.17,432.48 577.3,432.51 578.43,432.71 579.57,432.85 580.7,432.63 581.83,432.66 582.96,432.55 584.1,432.68 585.23,432.76 586.36,432.86 587.5,432.76 588.63,432.83 589.76,432.91 590.9,432.83 592.03,432.74 593.16,432.86 594.3,432.99 595.43,432.88 596.56,433.04 597.7,433.11 598.83,432.93 599.96,433.05 601.09,432.91 602.23,433 603.36,433.12 604.49,433.04 605.63,432.95 606.76,433.11 607.89,433.21 609.03,433.18 610.16,433.21 611.29,433.26 612.43,433.29 613.56,433.14 614.69,433.09 615.83,433.24 616.96,433.15 618.09,433.15 619.23,433.09 620.36,433.28 621.49,433.31 622.62,433.25 623.76,433.3 624.89,433.29 626.02,433.21 627.16,433.39 628.29,433.35 629.42,433.47 630.56,433.41 631.69,433.47 632.82,433.5 633.96,433.46 635.09,433.5 636.22,433.43 637.36,433.41 638.49,433.64 639.62,433.42 640.75,433.74 641.89,433.52 643.02,433.49 644.15,433.63 645.29,433.61 646.42,433.67 647.55,433.53 648.69,433.93 649.82,433.74 650.95,433.84 652.09,433.65 653.22,433.56 654.35,433.59 655.48,433.65 656.62,433.71 657.75,433.82 658.88,433.64 660.02,433.72 661.15,433.87 662.28,433.93 663.42,433.88 664.55,433.73 665.68,433.73 666.82,433.71 667.95,433.95 669.08,433.93 670.22,433.77 671.35,433.9 672.48,433.86 673.61,434.08 674.75,434 675.88,433.98 677.01,434.03" fill="none" stroke="#9a33ff" stroke-width="1.6" stroke-linejoin="round"/>
<rect x="30" y="372.5" width="647.5" height="127" fill="none" stroke="#1a1a1a" stroke-width="1.0"/>
<rect x="29.2" y="373" width="1.6" height="126" fill="#fff"/><rect x="29.2" y="373" width="1.6" height="126" fill="#4d4d4d"/>
<line x1="27.2" y1="499.5" x2="30" y2="499.5" stroke="#1a1a1a" stroke-width="1"/>
<text x="24.2" y="502.14" font-size="9.3" font-weight="bold" text-anchor="end" fill="#000" stroke="#000" stroke-width="0.18" stroke-linejoin="round">0.4</text>
<line x1="27.2" y1="467.5" x2="30" y2="467.5" stroke="#1a1a1a" stroke-width="1"/>
<text x="24.2" y="470.39" font-size="9.3" font-weight="bold" text-anchor="end" fill="#000" stroke="#000" stroke-width="0.18" stroke-linejoin="round">0.6</text>
<line x1="27.2" y1="436.5" x2="30" y2="436.5" stroke="#1a1a1a" stroke-width="1"/>
<text x="24.2" y="438.64" font-size="9.3" font-weight="bold" text-anchor="end" fill="#000" stroke="#000" stroke-width="0.18" stroke-linejoin="round">0.8</text>
<line x1="27.2" y1="404.5" x2="30" y2="404.5" stroke="#1a1a1a" stroke-width="1"/>
<text x="24.2" y="406.89" font-size="9.3" font-weight="bold" text-anchor="end" fill="#000" stroke="#000" stroke-width="0.18" stroke-linejoin="round">1.0</text>
<line x1="27.2" y1="372.5" x2="30" y2="372.5" stroke="#1a1a1a" stroke-width="1"/>
<text x="24.2" y="375.14" font-size="9.3" font-weight="bold" text-anchor="end" fill="#000" stroke="#000" stroke-width="0.18" stroke-linejoin="round">1.2</text>
<line x1="28.4" y1="483.5" x2="30" y2="483.5" stroke="#1a1a1a" stroke-width="1"/>
<line x1="28.4" y1="451.5" x2="30" y2="451.5" stroke="#1a1a1a" stroke-width="1"/>
<line x1="28.4" y1="420.5" x2="30" y2="420.5" stroke="#1a1a1a" stroke-width="1"/>
<line x1="28.4" y1="388.5" x2="30" y2="388.5" stroke="#1a1a1a" stroke-width="1"/>
<line x1="30.5" y1="499.5" x2="30.5" y2="502.5" stroke="#1a1a1a" stroke-width="1"/>
<text x="30" y="513.4" font-size="9.3" font-weight="bold" text-anchor="middle" fill="#000" stroke="#000" stroke-width="0.18" stroke-linejoin="round">0</text>
<line x1="94.5" y1="499.5" x2="94.5" y2="502.5" stroke="#1a1a1a" stroke-width="1"/>
<text x="94.75" y="513.4" font-size="9.3" font-weight="bold" text-anchor="middle" fill="#000" stroke="#000" stroke-width="0.18" stroke-linejoin="round">20</text>
<line x1="159.5" y1="499.5" x2="159.5" y2="502.5" stroke="#1a1a1a" stroke-width="1"/>
<text x="159.5" y="513.4" font-size="9.3" font-weight="bold" text-anchor="middle" fill="#000" stroke="#000" stroke-width="0.18" stroke-linejoin="round">40</text>
<line x1="224.5" y1="499.5" x2="224.5" y2="502.5" stroke="#1a1a1a" stroke-width="1"/>
<text x="224.25" y="513.4" font-size="9.3" font-weight="bold" text-anchor="middle" fill="#000" stroke="#000" stroke-width="0.18" stroke-linejoin="round">60</text>
<line x1="289.5" y1="499.5" x2="289.5" y2="502.5" stroke="#1a1a1a" stroke-width="1"/>
<text x="289" y="513.4" font-size="9.3" font-weight="bold" text-anchor="middle" fill="#000" stroke="#000" stroke-width="0.18" stroke-linejoin="round">80</text>
<line x1="353.5" y1="499.5" x2="353.5" y2="502.5" stroke="#1a1a1a" stroke-width="1"/>
<text x="353.75" y="513.4" font-size="9.3" font-weight="bold" text-anchor="middle" fill="#000" stroke="#000" stroke-width="0.18" stroke-linejoin="round">100</text>
<line x1="418.5" y1="499.5" x2="418.5" y2="502.5" stroke="#1a1a1a" stroke-width="1"/>
<text x="418.5" y="513.4" font-size="9.3" font-weight="bold" text-anchor="middle" fill="#000" stroke="#000" stroke-width="0.18" stroke-linejoin="round">120</text>
<line x1="483.5" y1="499.5" x2="483.5" y2="502.5" stroke="#1a1a1a" stroke-width="1"/>
<text x="483.25" y="513.4" font-size="9.3" font-weight="bold" text-anchor="middle" fill="#000" stroke="#000" stroke-width="0.18" stroke-linejoin="round">140</text>
<line x1="548.5" y1="499.5" x2="548.5" y2="502.5" stroke="#1a1a1a" stroke-width="1"/>
<text x="548" y="513.4" font-size="9.3" font-weight="bold" text-anchor="middle" fill="#000" stroke="#000" stroke-width="0.18" stroke-linejoin="round">160</text>
<line x1="612.5" y1="499.5" x2="612.5" y2="502.5" stroke="#1a1a1a" stroke-width="1"/>
<text x="612.75" y="513.4" font-size="9.3" font-weight="bold" text-anchor="middle" fill="#000" stroke="#000" stroke-width="0.18" stroke-linejoin="round">180</text>
<line x1="677.5" y1="499.5" x2="677.5" y2="502.5" stroke="#1a1a1a" stroke-width="1"/>
<text x="677.5" y="513.4" font-size="9.3" font-weight="bold" text-anchor="middle" fill="#000" stroke="#000" stroke-width="0.18" stroke-linejoin="round">200</text>
<line x1="62.5" y1="499.5" x2="62.5" y2="501.1" stroke="#1a1a1a" stroke-width="1"/>
<line x1="127.5" y1="499.5" x2="127.5" y2="501.1" stroke="#1a1a1a" stroke-width="1"/>
<line x1="191.5" y1="499.5" x2="191.5" y2="501.1" stroke="#1a1a1a" stroke-width="1"/>
<line x1="256.5" y1="499.5" x2="256.5" y2="501.1" stroke="#1a1a1a" stroke-width="1"/>
<line x1="321.5" y1="499.5" x2="321.5" y2="501.1" stroke="#1a1a1a" stroke-width="1"/>
<line x1="386.5" y1="499.5" x2="386.5" y2="501.1" stroke="#1a1a1a" stroke-width="1"/>
<line x1="450.5" y1="499.5" x2="450.5" y2="501.1" stroke="#1a1a1a" stroke-width="1"/>
<line x1="515.5" y1="499.5" x2="515.5" y2="501.1" stroke="#1a1a1a" stroke-width="1"/>
<line x1="580.5" y1="499.5" x2="580.5" y2="501.1" stroke="#1a1a1a" stroke-width="1"/>
<line x1="645.5" y1="499.5" x2="645.5" y2="501.1" stroke="#1a1a1a" stroke-width="1"/>
<text x="353.7" y="524.1" font-size="9.6" font-weight="bold" text-anchor="middle" fill="#000" stroke="#000" stroke-width="0.18" stroke-linejoin="round">Time, h</text>
<text x="6.9" y="430.3" font-size="9.7" font-weight="bold" text-anchor="middle" fill="#000" stroke="#000" stroke-width="0.18" stroke-linejoin="round" transform="rotate(-90 6.9 430.3)">Voltage, V</text>
<text x="669.3" y="387" font-size="9.6" font-weight="bold" text-anchor="end" fill="#000" stroke="#000" stroke-width="0.18" stroke-linejoin="round">0.5 A cm<tspan font-size="0.62em" baseline-shift="3.6">-2</tspan>, 700 <tspan font-size="0.62em" baseline-shift="3.6">o</tspan>C</text>
<line x1="40" y1="460.2" x2="61.9" y2="460.2" stroke="#ff0000" stroke-width="1.4"/>
<text x="64.5" y="463.5" font-size="9.2" font-weight="bold" text-anchor="start" fill="#000" stroke="#000" stroke-width="0.18" stroke-linejoin="round">ME-PBSCC</text>
<line x1="40" y1="472.1" x2="61.9" y2="472.1" stroke="#ff00ff" stroke-width="1.4"/>
<text x="64.5" y="475.4" font-size="9.2" font-weight="bold" text-anchor="start" fill="#000" stroke="#000" stroke-width="0.18" stroke-linejoin="round">PBS32C</text>
<line x1="120.2" y1="460.2" x2="142.1" y2="460.2" stroke="#3cb04c" stroke-width="1.4"/>
<text x="144.7" y="463.5" font-size="9.2" font-weight="bold" text-anchor="start" fill="#000" stroke="#000" stroke-width="0.18" stroke-linejoin="round">ME-PBSCC, air+3% H<tspan font-size="0.65em" baseline-shift="-2.2">2</tspan>O+Cr</text>
<line x1="120.2" y1="474.2" x2="142.1" y2="474.2" stroke="#1a9cff" stroke-width="1.4"/>
<text x="144.7" y="477.5" font-size="9.2" font-weight="bold" text-anchor="start" fill="#000" stroke="#000" stroke-width="0.18" stroke-linejoin="round">PBS32C, air+3% H<tspan font-size="0.65em" baseline-shift="-2.2">2</tspan>O+Cr</text>
<line x1="120.2" y1="487.7" x2="142.1" y2="487.7" stroke="#9a33ff" stroke-width="1.4"/>
<text x="144.7" y="491" font-size="9.2" font-weight="bold" text-anchor="start" fill="#000" stroke="#000" stroke-width="0.18" stroke-linejoin="round">ME-PBSCC, air+3% H<tspan font-size="0.65em" baseline-shift="-2.2">2</tspan>O</text>
<text x="0.6" y="368.8" font-size="13.5" font-weight="bold" text-anchor="start" fill="#000" stroke="#000" stroke-width="0.18" stroke-linejoin="round">g</text></svg>
</body></html>
